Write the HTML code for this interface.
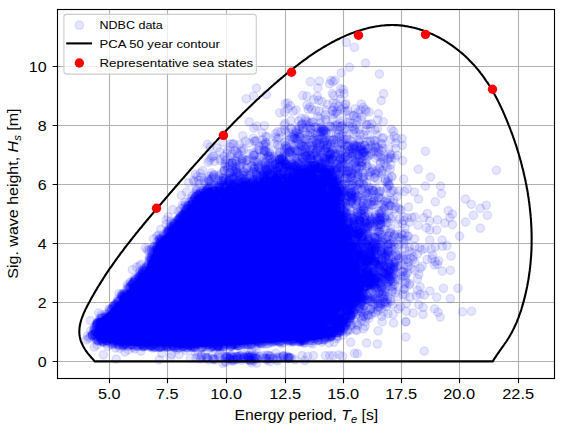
<!DOCTYPE html><html><head><meta charset="utf-8"><style>html,body{margin:0;padding:0;background:#fff;overflow:hidden}svg{display:block}.sc circle{r:4.17px;fill:rgba(0,0,255,0.1);stroke:rgba(0,0,255,0.1);stroke-width:1.39px}text{font-family:"Liberation Sans",sans-serif;fill:#000}</style></head><body><svg width="563" height="430" viewBox="0 0 563 430"><rect width="563" height="430" fill="#fff"/><defs><clipPath id="ax"><rect x="57.5" y="9.5" width="497" height="369"/></clipPath></defs><path d="M109.5,9.5V378.5M167.5,9.5V378.5M226.5,9.5V378.5M285.5,9.5V378.5M343.5,9.5V378.5M401.5,9.5V378.5M459.5,9.5V378.5M518.5,9.5V378.5M57.5,361.5H554.5M57.5,302.5H554.5M57.5,243.5H554.5M57.5,184.5H554.5M57.5,125.5H554.5M57.5,66.5H554.5" stroke="#b0b0b0" stroke-width="1.11" fill="none"/><g clip-path="url(#ax)"><path d="M325.8,325.1 332.4,322.5 334.8,320.2 339.6,309.7 345.5,294.9 346.1,293.7 353.2,280.4 355.3,269.8 353.4,258.5 346.4,251.5 346.0,251.0 336.9,241.0 336.2,240.1 335.5,239.0 334.9,237.9 334.4,236.8 334.0,235.6 333.7,234.4 329.7,212.4 329.6,211.8 327.7,197.4 325.3,187.0 321.2,179.9 320.4,179.5 314.7,179.5 305.2,183.5 305.0,183.5 290.0,189.5 288.8,189.9 287.7,190.2 267.6,194.2 267.4,194.3 239.3,199.3 238.3,199.4 237.3,199.5 214.9,200.0 212.5,200.1 212.5,188.1 209.2,188.3 201.5,192.2 198.5,196.2 192.9,201.7 188.8,207.2 184.7,212.8 179.2,219.8 171.6,229.0 165.0,235.1 157.8,242.1 152.4,254.8 145.3,269.8 131.2,286.7 118.1,303.0 108.5,312.1 102.6,317.0 96.8,325.7 93.1,334.8 96.8,339.6 100.3,340.0 110.3,343.1 130.1,345.3 150.0,346.0 200.0,346.7 239.9,344.7 264.9,342.5 279.9,341.7 289.9,340.5 309.9,340.0 319.7,339.0 329.5,336.6 329.7,336.5 323.5,336.5 323.5,325.7Z" fill="#00f"/><g class="sc"><circle cx="351.0" cy="314.3"/><circle cx="121.3" cy="305.6"/><circle cx="394.7" cy="158.0"/><circle cx="366.2" cy="279.1"/><circle cx="375.6" cy="256.3"/><circle cx="361.7" cy="252.3"/><circle cx="192.9" cy="202.9"/><circle cx="350.5" cy="330.0"/><circle cx="357.0" cy="278.0"/><circle cx="372.3" cy="168.1"/><circle cx="326.9" cy="218.3"/><circle cx="330.3" cy="184.8"/><circle cx="351.5" cy="277.7"/><circle cx="305.3" cy="133.3"/><circle cx="311.4" cy="155.8"/><circle cx="322.5" cy="174.0"/><circle cx="286.1" cy="190.5"/><circle cx="259.4" cy="193.3"/><circle cx="280.7" cy="174.1"/><circle cx="350.6" cy="277.7"/><circle cx="185.2" cy="214.0"/><circle cx="344.9" cy="233.3"/><circle cx="335.9" cy="329.4"/><circle cx="258.9" cy="340.7"/><circle cx="370.2" cy="301.4"/><circle cx="377.0" cy="241.8"/><circle cx="332.2" cy="232.6"/><circle cx="279.2" cy="177.4"/><circle cx="246.6" cy="192.7"/><circle cx="294.5" cy="138.5"/><circle cx="382.5" cy="241.3"/><circle cx="312.5" cy="133.0"/><circle cx="310.9" cy="159.1"/><circle cx="220.2" cy="192.0"/><circle cx="367.4" cy="282.6"/><circle cx="147.9" cy="344.9"/><circle cx="237.0" cy="343.2"/><circle cx="357.9" cy="174.2"/><circle cx="285.7" cy="156.6"/><circle cx="100.3" cy="321.9"/><circle cx="340.8" cy="229.0"/><circle cx="233.1" cy="184.9"/><circle cx="111.7" cy="339.4"/><circle cx="388.1" cy="260.7"/><circle cx="342.3" cy="205.3"/><circle cx="297.1" cy="191.0"/><circle cx="356.6" cy="264.4"/><circle cx="252.1" cy="188.6"/><circle cx="363.9" cy="233.7"/><circle cx="126.8" cy="295.2"/><circle cx="339.3" cy="321.3"/><circle cx="374.1" cy="251.0"/><circle cx="295.8" cy="187.6"/><circle cx="268.4" cy="185.5"/><circle cx="312.5" cy="171.6"/><circle cx="293.3" cy="148.1"/><circle cx="256.6" cy="190.9"/><circle cx="366.3" cy="264.4"/><circle cx="226.3" cy="195.0"/><circle cx="342.4" cy="316.9"/><circle cx="326.7" cy="333.0"/><circle cx="257.4" cy="193.6"/><circle cx="326.3" cy="325.8"/><circle cx="271.7" cy="174.7"/><circle cx="359.8" cy="151.0"/><circle cx="382.6" cy="278.7"/><circle cx="169.0" cy="228.0"/><circle cx="138.6" cy="342.1"/><circle cx="340.2" cy="211.5"/><circle cx="363.6" cy="281.8"/><circle cx="327.2" cy="336.4"/><circle cx="351.8" cy="306.8"/><circle cx="382.8" cy="298.0"/><circle cx="349.0" cy="251.9"/><circle cx="375.0" cy="281.5"/><circle cx="354.4" cy="290.4"/><circle cx="166.9" cy="347.4"/><circle cx="368.0" cy="247.7"/><circle cx="132.2" cy="284.2"/><circle cx="401.0" cy="275.7"/><circle cx="323.7" cy="325.2"/><circle cx="338.0" cy="312.4"/><circle cx="357.7" cy="296.7"/><circle cx="307.9" cy="177.5"/><circle cx="283.0" cy="195.8"/><circle cx="324.3" cy="131.2"/><circle cx="248.4" cy="183.3"/><circle cx="250.0" cy="190.4"/><circle cx="354.5" cy="269.6"/><circle cx="260.7" cy="156.6"/><circle cx="262.7" cy="188.9"/><circle cx="228.5" cy="200.8"/><circle cx="285.6" cy="185.0"/><circle cx="269.7" cy="188.2"/><circle cx="239.6" cy="179.4"/><circle cx="134.8" cy="349.0"/><circle cx="254.9" cy="201.4"/><circle cx="250.5" cy="192.8"/><circle cx="354.5" cy="301.7"/><circle cx="305.3" cy="175.6"/><circle cx="262.5" cy="139.7"/><circle cx="352.6" cy="283.4"/><circle cx="235.6" cy="342.9"/><circle cx="358.5" cy="140.4"/><circle cx="341.7" cy="186.1"/><circle cx="338.7" cy="311.6"/><circle cx="241.3" cy="341.6"/><circle cx="262.8" cy="182.6"/><circle cx="387.3" cy="279.2"/><circle cx="166.2" cy="224.5"/><circle cx="336.8" cy="180.2"/><circle cx="184.1" cy="346.6"/><circle cx="336.4" cy="230.6"/><circle cx="174.3" cy="341.5"/><circle cx="355.1" cy="285.9"/><circle cx="338.0" cy="327.1"/><circle cx="335.7" cy="231.1"/><circle cx="256.2" cy="349.3"/><circle cx="263.8" cy="145.0"/><circle cx="239.7" cy="167.2"/><circle cx="331.5" cy="226.2"/><circle cx="157.6" cy="346.6"/><circle cx="134.2" cy="280.4"/><circle cx="333.9" cy="181.2"/><circle cx="345.5" cy="250.3"/><circle cx="385.5" cy="264.9"/><circle cx="308.8" cy="180.6"/><circle cx="354.9" cy="274.4"/><circle cx="175.0" cy="222.2"/><circle cx="357.8" cy="234.4"/><circle cx="373.6" cy="204.5"/><circle cx="246.3" cy="160.5"/><circle cx="333.8" cy="232.7"/><circle cx="349.1" cy="315.3"/><circle cx="301.7" cy="125.0"/><circle cx="257.6" cy="198.6"/><circle cx="126.3" cy="300.1"/><circle cx="359.7" cy="248.4"/><circle cx="303.5" cy="184.9"/><circle cx="338.5" cy="319.3"/><circle cx="184.7" cy="214.3"/><circle cx="228.6" cy="343.6"/><circle cx="341.4" cy="311.9"/><circle cx="374.6" cy="254.6"/><circle cx="280.5" cy="188.1"/><circle cx="246.0" cy="344.0"/><circle cx="336.4" cy="217.7"/><circle cx="266.3" cy="338.7"/><circle cx="282.6" cy="159.1"/><circle cx="124.2" cy="343.9"/><circle cx="350.0" cy="274.0"/><circle cx="326.3" cy="160.5"/><circle cx="358.6" cy="294.7"/><circle cx="357.6" cy="299.8"/><circle cx="352.6" cy="141.7"/><circle cx="96.3" cy="336.4"/><circle cx="123.1" cy="293.8"/><circle cx="327.1" cy="145.3"/><circle cx="365.1" cy="222.2"/><circle cx="319.8" cy="333.8"/><circle cx="354.1" cy="261.7"/><circle cx="98.4" cy="340.2"/><circle cx="101.7" cy="316.6"/><circle cx="341.0" cy="234.3"/><circle cx="124.9" cy="352.0"/><circle cx="221.5" cy="194.7"/><circle cx="374.4" cy="242.8"/><circle cx="362.6" cy="301.7"/><circle cx="193.9" cy="199.5"/><circle cx="304.6" cy="185.8"/><circle cx="97.0" cy="323.1"/><circle cx="168.5" cy="231.5"/><circle cx="330.0" cy="139.9"/><circle cx="366.3" cy="293.9"/><circle cx="300.9" cy="341.2"/><circle cx="319.0" cy="183.5"/><circle cx="316.4" cy="180.4"/><circle cx="128.0" cy="346.4"/><circle cx="337.1" cy="124.4"/><circle cx="371.1" cy="145.3"/><circle cx="344.0" cy="211.3"/><circle cx="364.8" cy="273.4"/><circle cx="310.1" cy="185.6"/><circle cx="341.6" cy="237.5"/><circle cx="99.1" cy="335.3"/><circle cx="355.8" cy="272.5"/><circle cx="295.6" cy="183.3"/><circle cx="276.0" cy="187.0"/><circle cx="279.5" cy="192.4"/><circle cx="359.7" cy="269.5"/><circle cx="184.9" cy="216.0"/><circle cx="343.4" cy="239.3"/><circle cx="280.4" cy="173.6"/><circle cx="347.5" cy="159.4"/><circle cx="313.8" cy="176.3"/><circle cx="258.6" cy="198.7"/><circle cx="244.2" cy="197.6"/><circle cx="385.7" cy="259.9"/><circle cx="189.9" cy="208.2"/><circle cx="213.7" cy="156.1"/><circle cx="402.0" cy="138.7"/><circle cx="319.4" cy="159.9"/><circle cx="308.4" cy="181.9"/><circle cx="325.6" cy="327.2"/><circle cx="375.4" cy="140.9"/><circle cx="319.6" cy="165.7"/><circle cx="390.5" cy="228.4"/><circle cx="343.1" cy="219.7"/><circle cx="378.0" cy="267.2"/><circle cx="355.9" cy="278.1"/><circle cx="258.6" cy="342.0"/><circle cx="341.5" cy="248.5"/><circle cx="345.8" cy="297.4"/><circle cx="330.3" cy="172.7"/><circle cx="387.6" cy="158.9"/><circle cx="333.1" cy="214.9"/><circle cx="336.6" cy="148.4"/><circle cx="273.7" cy="341.0"/><circle cx="341.6" cy="150.6"/><circle cx="235.6" cy="344.1"/><circle cx="288.3" cy="172.5"/><circle cx="206.0" cy="346.4"/><circle cx="392.6" cy="286.4"/><circle cx="352.1" cy="198.3"/><circle cx="330.6" cy="192.1"/><circle cx="177.9" cy="225.4"/><circle cx="97.4" cy="339.6"/><circle cx="305.2" cy="186.0"/><circle cx="253.8" cy="190.4"/><circle cx="372.0" cy="250.9"/><circle cx="224.4" cy="191.3"/><circle cx="339.7" cy="221.6"/><circle cx="241.3" cy="344.5"/><circle cx="336.5" cy="232.0"/><circle cx="331.0" cy="202.4"/><circle cx="365.0" cy="282.9"/><circle cx="347.5" cy="253.4"/><circle cx="385.0" cy="217.6"/><circle cx="310.2" cy="158.8"/><circle cx="251.6" cy="350.4"/><circle cx="362.7" cy="299.7"/><circle cx="143.9" cy="269.9"/><circle cx="181.8" cy="345.0"/><circle cx="230.9" cy="187.4"/><circle cx="355.4" cy="251.9"/><circle cx="367.0" cy="294.7"/><circle cx="95.7" cy="329.6"/><circle cx="161.3" cy="239.0"/><circle cx="344.6" cy="190.4"/><circle cx="332.8" cy="180.2"/><circle cx="355.7" cy="282.8"/><circle cx="99.3" cy="322.5"/><circle cx="236.8" cy="196.2"/><circle cx="194.3" cy="345.4"/><circle cx="102.7" cy="341.4"/><circle cx="138.2" cy="346.0"/><circle cx="344.9" cy="245.0"/><circle cx="354.1" cy="279.4"/><circle cx="267.7" cy="187.7"/><circle cx="296.9" cy="167.8"/><circle cx="219.7" cy="151.8"/><circle cx="278.5" cy="178.6"/><circle cx="207.3" cy="342.2"/><circle cx="304.6" cy="338.4"/><circle cx="192.3" cy="343.4"/><circle cx="176.0" cy="229.9"/><circle cx="360.9" cy="211.3"/><circle cx="328.5" cy="158.8"/><circle cx="363.6" cy="278.0"/><circle cx="301.3" cy="182.6"/><circle cx="370.7" cy="127.9"/><circle cx="157.0" cy="256.4"/><circle cx="164.0" cy="343.3"/><circle cx="329.9" cy="201.2"/><circle cx="350.5" cy="233.0"/><circle cx="326.7" cy="195.0"/><circle cx="345.4" cy="293.5"/><circle cx="264.1" cy="188.5"/><circle cx="340.9" cy="126.4"/><circle cx="190.4" cy="204.8"/><circle cx="343.4" cy="216.3"/><circle cx="253.5" cy="201.1"/><circle cx="322.8" cy="129.7"/><circle cx="357.1" cy="301.3"/><circle cx="136.2" cy="287.4"/><circle cx="300.0" cy="189.0"/><circle cx="323.7" cy="131.1"/><circle cx="319.2" cy="179.1"/><circle cx="341.8" cy="169.9"/><circle cx="340.9" cy="215.9"/><circle cx="144.6" cy="268.2"/><circle cx="248.0" cy="341.4"/><circle cx="270.0" cy="183.1"/><circle cx="337.1" cy="235.8"/><circle cx="338.9" cy="194.7"/><circle cx="99.1" cy="330.1"/><circle cx="283.7" cy="168.5"/><circle cx="324.5" cy="192.0"/><circle cx="209.5" cy="200.2"/><circle cx="260.1" cy="176.9"/><circle cx="341.7" cy="226.1"/><circle cx="326.7" cy="326.5"/><circle cx="196.1" cy="197.2"/><circle cx="378.7" cy="192.0"/><circle cx="221.6" cy="195.5"/><circle cx="179.9" cy="219.2"/><circle cx="338.7" cy="242.9"/><circle cx="397.3" cy="266.0"/><circle cx="323.9" cy="175.4"/><circle cx="373.6" cy="260.5"/><circle cx="149.1" cy="344.8"/><circle cx="333.8" cy="213.8"/><circle cx="362.3" cy="153.3"/><circle cx="167.2" cy="345.0"/><circle cx="258.4" cy="183.6"/><circle cx="386.6" cy="255.1"/><circle cx="180.5" cy="216.8"/><circle cx="196.0" cy="188.7"/><circle cx="342.5" cy="251.2"/><circle cx="373.0" cy="297.0"/><circle cx="369.9" cy="278.1"/><circle cx="324.6" cy="206.5"/><circle cx="344.3" cy="295.1"/><circle cx="299.8" cy="341.0"/><circle cx="332.9" cy="330.8"/><circle cx="142.8" cy="273.9"/><circle cx="304.2" cy="172.7"/><circle cx="332.7" cy="177.0"/><circle cx="286.4" cy="193.4"/><circle cx="327.2" cy="142.3"/><circle cx="349.7" cy="290.7"/><circle cx="328.8" cy="321.1"/><circle cx="347.0" cy="246.6"/><circle cx="244.0" cy="200.1"/><circle cx="361.7" cy="189.2"/><circle cx="353.3" cy="269.0"/><circle cx="344.7" cy="255.8"/><circle cx="332.4" cy="207.4"/><circle cx="220.7" cy="174.0"/><circle cx="212.3" cy="194.7"/><circle cx="294.5" cy="186.8"/><circle cx="332.6" cy="188.4"/><circle cx="362.6" cy="262.6"/><circle cx="214.4" cy="185.2"/><circle cx="343.6" cy="157.9"/><circle cx="337.6" cy="336.4"/><circle cx="199.0" cy="183.5"/><circle cx="194.9" cy="343.9"/><circle cx="135.1" cy="285.2"/><circle cx="362.9" cy="173.0"/><circle cx="349.5" cy="253.4"/><circle cx="369.8" cy="259.4"/><circle cx="348.9" cy="191.9"/><circle cx="352.4" cy="288.2"/><circle cx="99.5" cy="322.7"/><circle cx="347.8" cy="239.2"/><circle cx="320.8" cy="167.8"/><circle cx="262.1" cy="187.2"/><circle cx="365.1" cy="275.7"/><circle cx="353.0" cy="219.0"/><circle cx="245.9" cy="197.7"/><circle cx="356.8" cy="195.8"/><circle cx="314.3" cy="172.3"/><circle cx="140.2" cy="271.0"/><circle cx="218.6" cy="194.8"/><circle cx="403.4" cy="258.2"/><circle cx="343.8" cy="302.2"/><circle cx="375.7" cy="279.0"/><circle cx="298.0" cy="174.2"/><circle cx="301.2" cy="339.4"/><circle cx="370.6" cy="260.0"/><circle cx="340.6" cy="312.9"/><circle cx="380.1" cy="216.7"/><circle cx="287.0" cy="188.2"/><circle cx="191.0" cy="346.7"/><circle cx="375.1" cy="263.7"/><circle cx="373.6" cy="284.7"/><circle cx="119.3" cy="345.5"/><circle cx="307.9" cy="135.4"/><circle cx="253.3" cy="196.3"/><circle cx="160.0" cy="243.1"/><circle cx="160.0" cy="347.3"/><circle cx="344.0" cy="107.7"/><circle cx="218.5" cy="185.6"/><circle cx="327.7" cy="211.2"/><circle cx="249.9" cy="192.2"/><circle cx="255.2" cy="172.0"/><circle cx="338.4" cy="302.9"/><circle cx="154.7" cy="246.2"/><circle cx="393.8" cy="268.9"/><circle cx="253.7" cy="195.3"/><circle cx="344.6" cy="288.6"/><circle cx="325.9" cy="178.0"/><circle cx="354.2" cy="310.3"/><circle cx="374.3" cy="303.4"/><circle cx="338.6" cy="326.7"/><circle cx="263.8" cy="176.5"/><circle cx="315.4" cy="170.5"/><circle cx="303.0" cy="181.1"/><circle cx="238.0" cy="194.7"/><circle cx="378.5" cy="197.5"/><circle cx="393.2" cy="314.2"/><circle cx="341.0" cy="197.0"/><circle cx="212.6" cy="202.3"/><circle cx="204.4" cy="343.2"/><circle cx="239.4" cy="189.7"/><circle cx="379.4" cy="278.2"/><circle cx="248.5" cy="195.3"/><circle cx="188.1" cy="345.2"/><circle cx="362.6" cy="254.3"/><circle cx="136.4" cy="286.0"/><circle cx="372.8" cy="283.5"/><circle cx="141.0" cy="264.4"/><circle cx="222.8" cy="343.9"/><circle cx="256.6" cy="174.6"/><circle cx="343.5" cy="184.1"/><circle cx="356.4" cy="124.5"/><circle cx="355.5" cy="185.8"/><circle cx="335.1" cy="309.3"/><circle cx="253.6" cy="168.0"/><circle cx="228.5" cy="184.6"/><circle cx="244.6" cy="171.6"/><circle cx="171.2" cy="344.1"/><circle cx="227.5" cy="194.9"/><circle cx="101.0" cy="326.5"/><circle cx="213.4" cy="341.3"/><circle cx="335.3" cy="226.8"/><circle cx="361.6" cy="320.7"/><circle cx="275.3" cy="341.3"/><circle cx="334.5" cy="231.1"/><circle cx="241.2" cy="198.4"/><circle cx="327.5" cy="174.1"/><circle cx="381.5" cy="283.0"/><circle cx="362.2" cy="292.6"/><circle cx="361.1" cy="239.3"/><circle cx="366.0" cy="148.8"/><circle cx="139.3" cy="276.2"/><circle cx="349.7" cy="290.9"/><circle cx="301.2" cy="146.0"/><circle cx="351.5" cy="218.8"/><circle cx="265.5" cy="144.3"/><circle cx="263.9" cy="198.5"/><circle cx="359.6" cy="282.2"/><circle cx="380.4" cy="265.8"/><circle cx="292.3" cy="340.0"/><circle cx="303.1" cy="162.7"/><circle cx="348.5" cy="229.8"/><circle cx="326.4" cy="172.0"/><circle cx="279.4" cy="160.5"/><circle cx="338.8" cy="200.9"/><circle cx="223.5" cy="348.8"/><circle cx="245.8" cy="186.6"/><circle cx="353.2" cy="147.5"/><circle cx="279.8" cy="159.6"/><circle cx="169.4" cy="237.8"/><circle cx="343.4" cy="158.8"/><circle cx="352.5" cy="285.5"/><circle cx="194.9" cy="197.7"/><circle cx="334.9" cy="217.1"/><circle cx="184.8" cy="214.1"/><circle cx="391.6" cy="266.1"/><circle cx="343.0" cy="307.3"/><circle cx="267.3" cy="196.5"/><circle cx="246.9" cy="160.3"/><circle cx="302.4" cy="189.3"/><circle cx="260.1" cy="198.3"/><circle cx="376.1" cy="257.7"/><circle cx="289.8" cy="167.0"/><circle cx="279.9" cy="161.0"/><circle cx="328.4" cy="328.6"/><circle cx="272.4" cy="194.5"/><circle cx="371.6" cy="221.1"/><circle cx="167.6" cy="233.8"/><circle cx="378.3" cy="306.1"/><circle cx="286.4" cy="166.4"/><circle cx="313.4" cy="338.0"/><circle cx="335.9" cy="332.3"/><circle cx="390.5" cy="286.6"/><circle cx="348.2" cy="235.1"/><circle cx="374.3" cy="278.8"/><circle cx="113.4" cy="340.6"/><circle cx="326.0" cy="320.9"/><circle cx="354.7" cy="247.9"/><circle cx="347.4" cy="218.1"/><circle cx="153.9" cy="345.8"/><circle cx="368.0" cy="260.5"/><circle cx="191.4" cy="210.6"/><circle cx="101.8" cy="322.7"/><circle cx="118.1" cy="301.0"/><circle cx="259.5" cy="195.8"/><circle cx="250.0" cy="191.6"/><circle cx="383.5" cy="252.6"/><circle cx="291.5" cy="193.3"/><circle cx="369.1" cy="269.5"/><circle cx="285.6" cy="141.8"/><circle cx="343.8" cy="225.7"/><circle cx="335.9" cy="220.0"/><circle cx="343.3" cy="213.4"/><circle cx="393.7" cy="270.2"/><circle cx="351.5" cy="268.3"/><circle cx="291.3" cy="164.1"/><circle cx="229.9" cy="191.8"/><circle cx="373.9" cy="191.4"/><circle cx="287.3" cy="148.5"/><circle cx="265.9" cy="142.6"/><circle cx="328.1" cy="211.8"/><circle cx="348.0" cy="289.6"/><circle cx="327.4" cy="333.9"/><circle cx="371.2" cy="279.8"/><circle cx="256.1" cy="174.3"/><circle cx="125.6" cy="298.1"/><circle cx="387.7" cy="202.9"/><circle cx="207.4" cy="189.1"/><circle cx="258.5" cy="339.7"/><circle cx="346.9" cy="230.5"/><circle cx="143.0" cy="280.0"/><circle cx="199.5" cy="195.0"/><circle cx="302.6" cy="337.7"/><circle cx="343.8" cy="145.1"/><circle cx="153.6" cy="238.9"/><circle cx="142.7" cy="344.5"/><circle cx="345.2" cy="304.9"/><circle cx="382.3" cy="287.7"/><circle cx="338.3" cy="180.6"/><circle cx="332.3" cy="236.0"/><circle cx="363.5" cy="267.2"/><circle cx="166.6" cy="232.4"/><circle cx="369.2" cy="192.5"/><circle cx="310.8" cy="150.0"/><circle cx="123.9" cy="294.0"/><circle cx="356.3" cy="190.6"/><circle cx="331.9" cy="229.3"/><circle cx="347.7" cy="235.9"/><circle cx="281.3" cy="174.7"/><circle cx="356.9" cy="266.2"/><circle cx="161.1" cy="346.5"/><circle cx="331.9" cy="223.8"/><circle cx="357.2" cy="285.6"/><circle cx="187.7" cy="208.5"/><circle cx="339.6" cy="314.6"/><circle cx="191.7" cy="209.7"/><circle cx="360.4" cy="281.5"/><circle cx="236.0" cy="167.1"/><circle cx="360.3" cy="220.2"/><circle cx="352.1" cy="184.9"/><circle cx="276.8" cy="341.2"/><circle cx="338.2" cy="212.0"/><circle cx="402.0" cy="271.3"/><circle cx="265.7" cy="198.6"/><circle cx="366.9" cy="263.6"/><circle cx="193.4" cy="201.6"/><circle cx="375.3" cy="173.5"/><circle cx="355.3" cy="252.4"/><circle cx="299.0" cy="177.9"/><circle cx="179.4" cy="347.9"/><circle cx="269.8" cy="153.2"/><circle cx="381.4" cy="264.7"/><circle cx="367.1" cy="271.8"/><circle cx="356.3" cy="271.8"/><circle cx="330.2" cy="335.9"/><circle cx="390.7" cy="240.6"/><circle cx="195.0" cy="196.6"/><circle cx="382.0" cy="138.3"/><circle cx="336.6" cy="321.4"/><circle cx="198.1" cy="200.3"/><circle cx="148.0" cy="342.0"/><circle cx="331.6" cy="227.9"/><circle cx="334.5" cy="185.4"/><circle cx="306.2" cy="156.1"/><circle cx="151.6" cy="248.9"/><circle cx="271.0" cy="187.1"/><circle cx="340.9" cy="211.6"/><circle cx="116.5" cy="305.1"/><circle cx="388.0" cy="244.8"/><circle cx="262.6" cy="338.8"/><circle cx="320.7" cy="183.2"/><circle cx="334.9" cy="325.5"/><circle cx="372.6" cy="190.7"/><circle cx="117.4" cy="341.7"/><circle cx="342.9" cy="235.2"/><circle cx="102.5" cy="325.7"/><circle cx="379.9" cy="264.9"/><circle cx="249.2" cy="153.8"/><circle cx="232.2" cy="190.8"/><circle cx="298.8" cy="162.7"/><circle cx="197.6" cy="194.9"/><circle cx="379.2" cy="283.5"/><circle cx="388.4" cy="251.9"/><circle cx="323.6" cy="184.1"/><circle cx="250.2" cy="193.0"/><circle cx="337.9" cy="324.3"/><circle cx="376.7" cy="288.0"/><circle cx="332.3" cy="189.7"/><circle cx="390.0" cy="200.2"/><circle cx="221.7" cy="342.6"/><circle cx="333.4" cy="219.8"/><circle cx="327.1" cy="323.7"/><circle cx="178.7" cy="226.2"/><circle cx="323.2" cy="150.6"/><circle cx="268.3" cy="339.9"/><circle cx="283.7" cy="178.7"/><circle cx="343.8" cy="188.3"/><circle cx="131.1" cy="344.5"/><circle cx="244.2" cy="187.3"/><circle cx="284.6" cy="180.7"/><circle cx="235.7" cy="184.7"/><circle cx="347.9" cy="201.2"/><circle cx="330.6" cy="332.0"/><circle cx="379.5" cy="168.4"/><circle cx="327.7" cy="216.6"/><circle cx="142.2" cy="277.1"/><circle cx="290.0" cy="190.3"/><circle cx="307.3" cy="185.9"/><circle cx="194.9" cy="351.2"/><circle cx="263.1" cy="189.3"/><circle cx="357.0" cy="288.2"/><circle cx="137.0" cy="345.7"/><circle cx="219.9" cy="196.3"/><circle cx="288.4" cy="177.5"/><circle cx="249.4" cy="178.5"/><circle cx="306.6" cy="173.9"/><circle cx="263.2" cy="175.7"/><circle cx="244.6" cy="186.0"/><circle cx="368.2" cy="233.2"/><circle cx="335.1" cy="178.5"/><circle cx="278.5" cy="167.0"/><circle cx="333.9" cy="195.0"/><circle cx="282.8" cy="341.3"/><circle cx="365.5" cy="299.4"/><circle cx="170.5" cy="236.8"/><circle cx="353.4" cy="301.3"/><circle cx="330.7" cy="237.0"/><circle cx="273.6" cy="193.0"/><circle cx="242.1" cy="187.2"/><circle cx="386.3" cy="302.2"/><circle cx="350.4" cy="225.9"/><circle cx="333.6" cy="222.2"/><circle cx="337.0" cy="324.3"/><circle cx="294.3" cy="175.9"/><circle cx="319.9" cy="168.4"/><circle cx="269.3" cy="185.4"/><circle cx="238.0" cy="198.1"/><circle cx="349.3" cy="256.8"/><circle cx="308.5" cy="164.0"/><circle cx="302.9" cy="180.0"/><circle cx="330.3" cy="318.9"/><circle cx="372.3" cy="197.0"/><circle cx="336.9" cy="204.3"/><circle cx="380.7" cy="191.3"/><circle cx="376.4" cy="218.6"/><circle cx="219.3" cy="196.7"/><circle cx="244.2" cy="203.2"/><circle cx="275.2" cy="163.7"/><circle cx="311.4" cy="121.8"/><circle cx="300.8" cy="339.7"/><circle cx="335.4" cy="168.9"/><circle cx="275.3" cy="184.6"/><circle cx="374.6" cy="279.0"/><circle cx="360.5" cy="233.9"/><circle cx="301.9" cy="188.1"/><circle cx="313.6" cy="340.7"/><circle cx="330.9" cy="326.8"/><circle cx="340.0" cy="318.6"/><circle cx="382.2" cy="143.9"/><circle cx="380.5" cy="283.8"/><circle cx="328.9" cy="224.4"/><circle cx="349.3" cy="223.7"/><circle cx="261.2" cy="194.0"/><circle cx="375.5" cy="216.8"/><circle cx="295.2" cy="167.7"/><circle cx="341.3" cy="141.8"/><circle cx="375.1" cy="294.6"/><circle cx="185.3" cy="212.1"/><circle cx="337.0" cy="214.6"/><circle cx="341.9" cy="184.2"/><circle cx="250.6" cy="190.7"/><circle cx="342.0" cy="321.9"/><circle cx="125.3" cy="297.1"/><circle cx="256.4" cy="340.8"/><circle cx="390.9" cy="301.2"/><circle cx="364.4" cy="248.2"/><circle cx="208.4" cy="199.1"/><circle cx="372.1" cy="260.4"/><circle cx="228.7" cy="344.3"/><circle cx="193.9" cy="200.2"/><circle cx="318.0" cy="182.5"/><circle cx="375.2" cy="270.6"/><circle cx="353.6" cy="230.3"/><circle cx="244.0" cy="339.8"/><circle cx="292.3" cy="341.1"/><circle cx="322.9" cy="189.2"/><circle cx="109.0" cy="315.8"/><circle cx="374.2" cy="283.3"/><circle cx="336.4" cy="181.6"/><circle cx="303.8" cy="173.6"/><circle cx="141.3" cy="282.1"/><circle cx="127.0" cy="295.5"/><circle cx="375.7" cy="246.5"/><circle cx="358.2" cy="154.9"/><circle cx="248.0" cy="191.4"/><circle cx="214.1" cy="345.9"/><circle cx="279.1" cy="184.3"/><circle cx="313.4" cy="154.6"/><circle cx="361.7" cy="317.9"/><circle cx="393.6" cy="236.8"/><circle cx="272.1" cy="184.3"/><circle cx="124.4" cy="344.1"/><circle cx="301.3" cy="185.5"/><circle cx="356.0" cy="193.1"/><circle cx="257.2" cy="173.8"/><circle cx="289.6" cy="186.5"/><circle cx="153.9" cy="262.5"/><circle cx="194.2" cy="181.7"/><circle cx="325.1" cy="180.7"/><circle cx="331.5" cy="210.2"/><circle cx="309.0" cy="155.4"/><circle cx="126.4" cy="342.4"/><circle cx="266.8" cy="178.2"/><circle cx="322.7" cy="142.9"/><circle cx="343.1" cy="223.8"/><circle cx="270.7" cy="194.6"/><circle cx="345.7" cy="322.4"/><circle cx="308.0" cy="171.6"/><circle cx="333.3" cy="199.9"/><circle cx="322.2" cy="139.1"/><circle cx="368.1" cy="285.1"/><circle cx="340.2" cy="331.2"/><circle cx="152.8" cy="257.2"/><circle cx="257.1" cy="150.0"/><circle cx="264.4" cy="181.9"/><circle cx="307.5" cy="176.0"/><circle cx="368.8" cy="187.1"/><circle cx="288.4" cy="191.5"/><circle cx="238.3" cy="183.1"/><circle cx="149.5" cy="258.3"/><circle cx="223.6" cy="192.5"/><circle cx="333.8" cy="195.8"/><circle cx="263.3" cy="173.6"/><circle cx="360.2" cy="316.3"/><circle cx="368.4" cy="246.2"/><circle cx="377.5" cy="281.5"/><circle cx="380.6" cy="303.5"/><circle cx="265.7" cy="184.0"/><circle cx="338.8" cy="321.2"/><circle cx="355.0" cy="269.5"/><circle cx="157.3" cy="250.0"/><circle cx="326.2" cy="173.6"/><circle cx="143.2" cy="270.6"/><circle cx="331.8" cy="224.3"/><circle cx="340.4" cy="225.8"/><circle cx="374.2" cy="252.0"/><circle cx="302.0" cy="124.3"/><circle cx="370.4" cy="251.7"/><circle cx="327.7" cy="215.8"/><circle cx="382.8" cy="222.0"/><circle cx="131.2" cy="292.4"/><circle cx="150.7" cy="261.0"/><circle cx="164.0" cy="241.2"/><circle cx="216.6" cy="196.6"/><circle cx="330.2" cy="226.3"/><circle cx="99.8" cy="318.6"/><circle cx="310.2" cy="340.3"/><circle cx="335.9" cy="237.8"/><circle cx="324.9" cy="151.3"/><circle cx="340.0" cy="232.5"/><circle cx="351.1" cy="177.1"/><circle cx="375.6" cy="264.7"/><circle cx="402.7" cy="160.6"/><circle cx="138.8" cy="341.5"/><circle cx="333.7" cy="182.1"/><circle cx="320.5" cy="179.0"/><circle cx="347.2" cy="240.6"/><circle cx="358.8" cy="168.8"/><circle cx="377.8" cy="303.6"/><circle cx="135.4" cy="279.4"/><circle cx="236.8" cy="184.2"/><circle cx="379.0" cy="231.1"/><circle cx="356.9" cy="249.2"/><circle cx="97.5" cy="324.5"/><circle cx="223.7" cy="346.8"/><circle cx="357.6" cy="216.2"/><circle cx="380.3" cy="154.7"/><circle cx="343.7" cy="299.7"/><circle cx="236.7" cy="185.8"/><circle cx="356.6" cy="243.2"/><circle cx="363.9" cy="185.4"/><circle cx="389.6" cy="243.6"/><circle cx="368.8" cy="148.1"/><circle cx="290.7" cy="128.1"/><circle cx="338.0" cy="226.7"/><circle cx="337.3" cy="195.1"/><circle cx="346.1" cy="296.7"/><circle cx="304.7" cy="184.0"/><circle cx="341.9" cy="239.3"/><circle cx="345.4" cy="213.9"/><circle cx="337.1" cy="202.4"/><circle cx="134.3" cy="340.7"/><circle cx="399.5" cy="209.5"/><circle cx="359.9" cy="274.7"/><circle cx="244.7" cy="190.8"/><circle cx="338.5" cy="174.8"/><circle cx="261.5" cy="184.1"/><circle cx="233.5" cy="197.6"/><circle cx="198.1" cy="342.7"/><circle cx="330.5" cy="331.3"/><circle cx="204.9" cy="342.8"/><circle cx="238.1" cy="346.0"/><circle cx="260.9" cy="187.3"/><circle cx="160.8" cy="343.3"/><circle cx="229.5" cy="178.4"/><circle cx="355.2" cy="194.6"/><circle cx="335.4" cy="236.0"/><circle cx="349.0" cy="239.8"/><circle cx="351.8" cy="266.5"/><circle cx="299.4" cy="188.6"/><circle cx="264.6" cy="181.5"/><circle cx="336.8" cy="314.6"/><circle cx="327.3" cy="225.7"/><circle cx="234.6" cy="170.8"/><circle cx="361.3" cy="312.4"/><circle cx="254.2" cy="184.9"/><circle cx="294.7" cy="181.8"/><circle cx="344.9" cy="232.9"/><circle cx="358.6" cy="299.8"/><circle cx="295.8" cy="138.6"/><circle cx="227.6" cy="190.6"/><circle cx="151.5" cy="264.8"/><circle cx="116.3" cy="304.2"/><circle cx="330.4" cy="228.9"/><circle cx="151.8" cy="252.4"/><circle cx="365.2" cy="253.7"/><circle cx="288.5" cy="186.8"/><circle cx="365.0" cy="145.5"/><circle cx="321.9" cy="332.1"/><circle cx="159.9" cy="240.0"/><circle cx="351.3" cy="194.6"/><circle cx="385.3" cy="274.2"/><circle cx="344.6" cy="149.3"/><circle cx="327.3" cy="180.8"/><circle cx="175.1" cy="347.0"/><circle cx="361.3" cy="301.5"/><circle cx="279.3" cy="189.1"/><circle cx="135.3" cy="281.5"/><circle cx="262.7" cy="162.6"/><circle cx="211.7" cy="346.6"/><circle cx="319.2" cy="180.8"/><circle cx="318.0" cy="136.7"/><circle cx="363.6" cy="199.4"/><circle cx="230.8" cy="183.4"/><circle cx="346.1" cy="301.2"/><circle cx="328.9" cy="198.0"/><circle cx="351.2" cy="308.2"/><circle cx="310.1" cy="342.9"/><circle cx="246.8" cy="168.1"/><circle cx="304.0" cy="180.3"/><circle cx="326.8" cy="148.3"/><circle cx="234.9" cy="195.7"/><circle cx="365.4" cy="275.6"/><circle cx="345.4" cy="288.0"/><circle cx="331.4" cy="141.1"/><circle cx="364.6" cy="155.6"/><circle cx="212.6" cy="190.4"/><circle cx="316.7" cy="184.0"/><circle cx="229.2" cy="172.9"/><circle cx="384.7" cy="156.8"/><circle cx="333.3" cy="166.2"/><circle cx="347.9" cy="223.4"/><circle cx="344.2" cy="169.2"/><circle cx="367.8" cy="277.4"/><circle cx="207.9" cy="194.0"/><circle cx="379.2" cy="218.0"/><circle cx="92.0" cy="335.9"/><circle cx="333.9" cy="214.4"/><circle cx="365.1" cy="275.5"/><circle cx="271.4" cy="337.4"/><circle cx="256.0" cy="200.0"/><circle cx="329.8" cy="174.8"/><circle cx="179.8" cy="341.9"/><circle cx="217.5" cy="345.8"/><circle cx="401.8" cy="256.6"/><circle cx="285.9" cy="190.4"/><circle cx="332.3" cy="176.9"/><circle cx="373.2" cy="312.2"/><circle cx="328.7" cy="173.2"/><circle cx="389.2" cy="233.2"/><circle cx="279.4" cy="159.2"/><circle cx="323.9" cy="197.0"/><circle cx="342.4" cy="125.5"/><circle cx="362.2" cy="303.5"/><circle cx="336.6" cy="189.6"/><circle cx="369.3" cy="124.2"/><circle cx="366.1" cy="247.3"/><circle cx="265.8" cy="168.8"/><circle cx="315.5" cy="336.6"/><circle cx="341.4" cy="294.8"/><circle cx="355.8" cy="227.6"/><circle cx="256.3" cy="342.4"/><circle cx="321.9" cy="322.7"/><circle cx="335.1" cy="153.0"/><circle cx="279.9" cy="339.5"/><circle cx="378.5" cy="261.7"/><circle cx="359.5" cy="281.9"/><circle cx="364.0" cy="256.8"/><circle cx="257.7" cy="176.0"/><circle cx="344.8" cy="253.2"/><circle cx="302.0" cy="156.7"/><circle cx="375.1" cy="237.6"/><circle cx="364.5" cy="216.8"/><circle cx="327.2" cy="204.1"/><circle cx="227.0" cy="192.2"/><circle cx="390.4" cy="192.5"/><circle cx="374.5" cy="286.2"/><circle cx="367.4" cy="197.6"/><circle cx="352.5" cy="230.6"/><circle cx="317.6" cy="174.9"/><circle cx="297.5" cy="153.2"/><circle cx="255.1" cy="342.0"/><circle cx="336.3" cy="316.5"/><circle cx="288.5" cy="151.9"/><circle cx="359.4" cy="225.9"/><circle cx="223.4" cy="184.0"/><circle cx="233.2" cy="194.9"/><circle cx="234.5" cy="186.0"/><circle cx="177.0" cy="220.6"/><circle cx="311.6" cy="176.6"/><circle cx="333.9" cy="204.2"/><circle cx="177.5" cy="342.2"/><circle cx="241.6" cy="186.9"/><circle cx="330.8" cy="323.6"/><circle cx="393.8" cy="199.8"/><circle cx="277.1" cy="337.6"/><circle cx="379.6" cy="281.1"/><circle cx="264.3" cy="182.0"/><circle cx="310.2" cy="149.7"/><circle cx="387.3" cy="268.8"/><circle cx="248.5" cy="197.2"/><circle cx="382.7" cy="274.6"/><circle cx="349.0" cy="252.0"/><circle cx="244.0" cy="175.6"/><circle cx="125.5" cy="343.0"/><circle cx="309.8" cy="172.3"/><circle cx="255.0" cy="184.1"/><circle cx="263.6" cy="192.0"/><circle cx="375.1" cy="147.8"/><circle cx="338.9" cy="243.2"/><circle cx="335.7" cy="324.0"/><circle cx="314.6" cy="166.8"/><circle cx="394.0" cy="266.8"/><circle cx="329.6" cy="174.9"/><circle cx="335.6" cy="157.0"/><circle cx="364.8" cy="255.4"/><circle cx="186.1" cy="347.6"/><circle cx="369.1" cy="276.7"/><circle cx="327.2" cy="159.5"/><circle cx="329.1" cy="175.0"/><circle cx="349.5" cy="249.9"/><circle cx="390.0" cy="157.1"/><circle cx="360.0" cy="253.3"/><circle cx="341.0" cy="135.7"/><circle cx="166.6" cy="233.7"/><circle cx="352.5" cy="198.0"/><circle cx="172.6" cy="226.3"/><circle cx="361.2" cy="274.3"/><circle cx="133.5" cy="282.6"/><circle cx="300.3" cy="178.9"/><circle cx="337.3" cy="307.9"/><circle cx="168.5" cy="344.1"/><circle cx="297.9" cy="188.2"/><circle cx="271.9" cy="162.5"/><circle cx="288.5" cy="341.1"/><circle cx="364.4" cy="252.2"/><circle cx="339.4" cy="302.0"/><circle cx="122.9" cy="298.2"/><circle cx="366.7" cy="232.2"/><circle cx="274.5" cy="143.5"/><circle cx="246.3" cy="198.8"/><circle cx="321.4" cy="340.1"/><circle cx="338.3" cy="183.2"/><circle cx="247.3" cy="182.9"/><circle cx="374.2" cy="287.5"/><circle cx="324.9" cy="197.1"/><circle cx="342.9" cy="249.7"/><circle cx="219.5" cy="191.4"/><circle cx="379.2" cy="149.0"/><circle cx="349.5" cy="321.8"/><circle cx="350.9" cy="263.7"/><circle cx="257.7" cy="162.4"/><circle cx="377.6" cy="301.1"/><circle cx="116.4" cy="308.2"/><circle cx="321.2" cy="324.1"/><circle cx="198.2" cy="194.1"/><circle cx="368.4" cy="188.8"/><circle cx="364.0" cy="283.1"/><circle cx="359.7" cy="159.3"/><circle cx="310.0" cy="151.8"/><circle cx="329.0" cy="216.0"/><circle cx="329.0" cy="320.9"/><circle cx="107.2" cy="340.8"/><circle cx="352.6" cy="271.1"/><circle cx="94.7" cy="326.9"/><circle cx="284.8" cy="182.5"/><circle cx="161.8" cy="353.2"/><circle cx="227.9" cy="181.0"/><circle cx="291.6" cy="190.6"/><circle cx="390.4" cy="265.3"/><circle cx="388.6" cy="276.9"/><circle cx="392.5" cy="272.5"/><circle cx="325.7" cy="182.3"/><circle cx="402.7" cy="271.7"/><circle cx="139.9" cy="344.9"/><circle cx="328.4" cy="177.9"/><circle cx="359.7" cy="241.9"/><circle cx="156.5" cy="255.6"/><circle cx="351.5" cy="299.6"/><circle cx="160.1" cy="246.2"/><circle cx="388.3" cy="259.5"/><circle cx="381.3" cy="143.5"/><circle cx="353.1" cy="271.0"/><circle cx="344.1" cy="308.9"/><circle cx="223.3" cy="186.7"/><circle cx="339.3" cy="240.7"/><circle cx="136.0" cy="286.3"/><circle cx="348.5" cy="307.0"/><circle cx="266.2" cy="169.9"/><circle cx="327.6" cy="169.5"/><circle cx="269.5" cy="174.0"/><circle cx="246.0" cy="190.3"/><circle cx="279.2" cy="166.2"/><circle cx="331.8" cy="335.7"/><circle cx="389.7" cy="185.8"/><circle cx="205.3" cy="184.6"/><circle cx="340.2" cy="221.6"/><circle cx="342.0" cy="171.4"/><circle cx="370.0" cy="287.5"/><circle cx="256.0" cy="187.9"/><circle cx="110.8" cy="310.7"/><circle cx="273.8" cy="338.1"/><circle cx="295.4" cy="186.2"/><circle cx="335.5" cy="319.7"/><circle cx="313.1" cy="161.8"/><circle cx="378.9" cy="211.6"/><circle cx="259.3" cy="150.4"/><circle cx="145.2" cy="272.5"/><circle cx="173.3" cy="346.3"/><circle cx="345.0" cy="144.0"/><circle cx="256.0" cy="173.2"/><circle cx="298.7" cy="144.1"/><circle cx="381.8" cy="253.4"/><circle cx="353.4" cy="304.4"/><circle cx="124.5" cy="295.3"/><circle cx="243.0" cy="197.8"/><circle cx="340.9" cy="328.2"/><circle cx="176.9" cy="224.9"/><circle cx="137.6" cy="346.5"/><circle cx="332.3" cy="219.8"/><circle cx="296.0" cy="189.7"/><circle cx="352.2" cy="232.2"/><circle cx="248.9" cy="202.1"/><circle cx="336.1" cy="225.9"/><circle cx="361.0" cy="146.6"/><circle cx="220.3" cy="159.0"/><circle cx="353.6" cy="304.7"/><circle cx="367.8" cy="286.2"/><circle cx="293.7" cy="341.1"/><circle cx="280.1" cy="341.6"/><circle cx="404.9" cy="284.2"/><circle cx="258.6" cy="199.7"/><circle cx="389.1" cy="262.8"/><circle cx="368.0" cy="226.8"/><circle cx="183.4" cy="219.0"/><circle cx="316.9" cy="135.4"/><circle cx="234.2" cy="186.1"/><circle cx="254.6" cy="169.2"/><circle cx="372.3" cy="171.4"/><circle cx="363.6" cy="152.2"/><circle cx="346.9" cy="173.7"/><circle cx="296.7" cy="341.2"/><circle cx="134.3" cy="278.1"/><circle cx="339.0" cy="318.8"/><circle cx="363.7" cy="254.9"/><circle cx="161.5" cy="245.8"/><circle cx="341.7" cy="231.5"/><circle cx="256.9" cy="343.5"/><circle cx="252.1" cy="191.9"/><circle cx="376.3" cy="277.4"/><circle cx="321.9" cy="181.9"/><circle cx="292.9" cy="186.1"/><circle cx="369.8" cy="172.0"/><circle cx="277.0" cy="177.4"/><circle cx="332.0" cy="184.8"/><circle cx="126.1" cy="294.1"/><circle cx="346.8" cy="135.4"/><circle cx="210.4" cy="343.8"/><circle cx="368.4" cy="238.9"/><circle cx="362.9" cy="265.9"/><circle cx="350.4" cy="300.6"/><circle cx="362.6" cy="312.7"/><circle cx="351.9" cy="293.5"/><circle cx="340.8" cy="202.8"/><circle cx="352.7" cy="174.1"/><circle cx="330.5" cy="159.8"/><circle cx="161.1" cy="346.5"/><circle cx="312.1" cy="338.1"/><circle cx="392.8" cy="216.5"/><circle cx="359.9" cy="278.4"/><circle cx="325.5" cy="130.6"/><circle cx="358.8" cy="280.6"/><circle cx="354.8" cy="148.3"/><circle cx="384.6" cy="208.6"/><circle cx="382.6" cy="264.2"/><circle cx="380.7" cy="304.5"/><circle cx="398.0" cy="296.9"/><circle cx="383.6" cy="266.5"/><circle cx="333.9" cy="321.7"/><circle cx="218.8" cy="191.9"/><circle cx="362.7" cy="259.3"/><circle cx="344.1" cy="242.2"/><circle cx="331.8" cy="215.2"/><circle cx="97.5" cy="323.6"/><circle cx="357.2" cy="234.6"/><circle cx="308.2" cy="179.2"/><circle cx="126.1" cy="295.8"/><circle cx="188.6" cy="344.7"/><circle cx="371.1" cy="254.7"/><circle cx="255.5" cy="338.9"/><circle cx="329.9" cy="219.0"/><circle cx="240.8" cy="340.2"/><circle cx="339.4" cy="250.3"/><circle cx="290.2" cy="194.0"/><circle cx="248.8" cy="200.9"/><circle cx="309.6" cy="173.4"/><circle cx="364.6" cy="296.5"/><circle cx="348.8" cy="227.4"/><circle cx="364.7" cy="287.5"/><circle cx="333.1" cy="314.2"/><circle cx="271.2" cy="185.4"/><circle cx="350.1" cy="139.9"/><circle cx="248.2" cy="201.4"/><circle cx="358.8" cy="237.0"/><circle cx="319.2" cy="324.2"/><circle cx="196.5" cy="344.6"/><circle cx="111.8" cy="311.8"/><circle cx="134.2" cy="346.6"/><circle cx="374.9" cy="244.8"/><circle cx="340.2" cy="237.1"/><circle cx="173.6" cy="224.5"/><circle cx="360.9" cy="250.6"/><circle cx="332.4" cy="150.5"/><circle cx="325.4" cy="186.7"/><circle cx="331.2" cy="236.6"/><circle cx="254.2" cy="197.9"/><circle cx="167.6" cy="346.2"/><circle cx="300.6" cy="173.5"/><circle cx="327.2" cy="199.7"/><circle cx="341.2" cy="190.7"/><circle cx="128.3" cy="342.3"/><circle cx="317.7" cy="166.7"/><circle cx="114.1" cy="341.2"/><circle cx="119.0" cy="306.6"/><circle cx="388.0" cy="244.2"/><circle cx="345.7" cy="237.5"/><circle cx="254.6" cy="189.4"/><circle cx="397.6" cy="255.5"/><circle cx="292.0" cy="180.9"/><circle cx="139.4" cy="278.0"/><circle cx="342.9" cy="308.2"/><circle cx="385.2" cy="179.1"/><circle cx="379.7" cy="218.3"/><circle cx="367.9" cy="204.3"/><circle cx="350.6" cy="308.2"/><circle cx="352.8" cy="227.8"/><circle cx="160.2" cy="347.4"/><circle cx="350.3" cy="251.3"/><circle cx="264.7" cy="150.9"/><circle cx="337.2" cy="191.7"/><circle cx="275.2" cy="193.5"/><circle cx="347.5" cy="306.0"/><circle cx="200.4" cy="192.3"/><circle cx="298.8" cy="186.8"/><circle cx="233.6" cy="343.3"/><circle cx="365.2" cy="326.4"/><circle cx="385.1" cy="261.9"/><circle cx="192.5" cy="208.6"/><circle cx="256.9" cy="159.7"/><circle cx="296.5" cy="183.6"/><circle cx="332.5" cy="241.1"/><circle cx="355.5" cy="157.9"/><circle cx="339.4" cy="160.4"/><circle cx="399.5" cy="237.7"/><circle cx="364.3" cy="274.1"/><circle cx="224.3" cy="341.1"/><circle cx="149.2" cy="251.4"/><circle cx="194.7" cy="197.9"/><circle cx="226.0" cy="159.5"/><circle cx="367.8" cy="273.4"/><circle cx="301.2" cy="118.4"/><circle cx="345.5" cy="228.0"/><circle cx="374.6" cy="299.8"/><circle cx="363.5" cy="150.6"/><circle cx="253.4" cy="138.3"/><circle cx="339.8" cy="177.6"/><circle cx="321.7" cy="175.1"/><circle cx="383.0" cy="245.8"/><circle cx="344.4" cy="208.5"/><circle cx="352.3" cy="264.4"/><circle cx="291.5" cy="180.2"/><circle cx="304.0" cy="141.5"/><circle cx="337.2" cy="192.7"/><circle cx="361.3" cy="297.9"/><circle cx="349.2" cy="228.8"/><circle cx="357.1" cy="185.0"/><circle cx="258.4" cy="189.8"/><circle cx="245.6" cy="186.3"/><circle cx="234.4" cy="195.4"/><circle cx="266.8" cy="175.3"/><circle cx="311.3" cy="146.2"/><circle cx="237.1" cy="174.9"/><circle cx="344.5" cy="235.3"/><circle cx="222.3" cy="200.0"/><circle cx="300.1" cy="338.6"/><circle cx="356.0" cy="277.2"/><circle cx="103.6" cy="321.2"/><circle cx="352.9" cy="298.4"/><circle cx="352.9" cy="221.0"/><circle cx="345.1" cy="235.6"/><circle cx="227.3" cy="203.1"/><circle cx="119.0" cy="344.3"/><circle cx="293.0" cy="177.2"/><circle cx="371.6" cy="301.4"/><circle cx="163.6" cy="235.9"/><circle cx="359.2" cy="307.1"/><circle cx="346.6" cy="230.9"/><circle cx="341.0" cy="293.2"/><circle cx="333.5" cy="214.6"/><circle cx="382.5" cy="272.9"/><circle cx="237.3" cy="192.5"/><circle cx="346.2" cy="332.0"/><circle cx="382.8" cy="285.1"/><circle cx="139.1" cy="283.4"/><circle cx="359.0" cy="234.6"/><circle cx="275.5" cy="179.7"/><circle cx="326.0" cy="120.0"/><circle cx="275.5" cy="180.2"/><circle cx="293.6" cy="338.8"/><circle cx="338.9" cy="196.3"/><circle cx="185.7" cy="211.6"/><circle cx="315.3" cy="166.5"/><circle cx="271.8" cy="181.3"/><circle cx="153.2" cy="258.8"/><circle cx="111.5" cy="315.7"/><circle cx="152.1" cy="254.8"/><circle cx="323.1" cy="195.7"/><circle cx="359.4" cy="292.9"/><circle cx="263.8" cy="178.5"/><circle cx="292.6" cy="339.2"/><circle cx="391.1" cy="274.1"/><circle cx="358.6" cy="230.2"/><circle cx="387.2" cy="267.0"/><circle cx="328.0" cy="199.8"/><circle cx="357.0" cy="297.5"/><circle cx="163.7" cy="234.3"/><circle cx="99.7" cy="329.6"/><circle cx="106.0" cy="318.7"/><circle cx="99.7" cy="330.5"/><circle cx="120.3" cy="343.9"/><circle cx="323.8" cy="145.2"/><circle cx="230.3" cy="178.0"/><circle cx="264.6" cy="185.5"/><circle cx="186.6" cy="192.0"/><circle cx="285.7" cy="195.1"/><circle cx="195.9" cy="191.4"/><circle cx="268.4" cy="182.6"/><circle cx="368.4" cy="237.9"/><circle cx="340.8" cy="242.3"/><circle cx="343.5" cy="242.7"/><circle cx="372.2" cy="224.7"/><circle cx="384.0" cy="207.6"/><circle cx="374.6" cy="198.1"/><circle cx="267.1" cy="184.7"/><circle cx="265.4" cy="167.5"/><circle cx="352.3" cy="246.1"/><circle cx="291.1" cy="184.8"/><circle cx="356.0" cy="267.0"/><circle cx="155.8" cy="254.4"/><circle cx="375.1" cy="266.1"/><circle cx="288.1" cy="337.4"/><circle cx="356.6" cy="254.1"/><circle cx="360.3" cy="281.5"/><circle cx="230.4" cy="189.5"/><circle cx="386.4" cy="283.6"/><circle cx="332.1" cy="205.4"/><circle cx="357.7" cy="325.5"/><circle cx="336.0" cy="211.1"/><circle cx="210.0" cy="147.0"/><circle cx="345.5" cy="257.3"/><circle cx="346.6" cy="308.8"/><circle cx="245.4" cy="181.8"/><circle cx="129.1" cy="296.3"/><circle cx="183.1" cy="214.4"/><circle cx="336.0" cy="305.4"/><circle cx="355.4" cy="287.1"/><circle cx="271.9" cy="192.1"/><circle cx="355.6" cy="244.3"/><circle cx="389.3" cy="206.2"/><circle cx="260.6" cy="195.7"/><circle cx="229.7" cy="194.6"/><circle cx="337.8" cy="154.0"/><circle cx="328.3" cy="155.7"/><circle cx="343.3" cy="159.5"/><circle cx="243.9" cy="197.7"/><circle cx="336.7" cy="338.5"/><circle cx="353.0" cy="281.4"/><circle cx="340.1" cy="159.3"/><circle cx="271.3" cy="340.1"/><circle cx="346.6" cy="171.6"/><circle cx="329.7" cy="153.8"/><circle cx="290.6" cy="185.3"/><circle cx="238.6" cy="182.6"/><circle cx="158.7" cy="235.1"/><circle cx="342.3" cy="297.0"/><circle cx="285.8" cy="132.7"/><circle cx="173.5" cy="226.6"/><circle cx="364.7" cy="241.9"/><circle cx="114.3" cy="305.5"/><circle cx="219.3" cy="201.1"/><circle cx="293.1" cy="338.8"/><circle cx="349.9" cy="239.1"/><circle cx="351.2" cy="315.3"/><circle cx="219.4" cy="191.6"/><circle cx="303.4" cy="146.2"/><circle cx="295.1" cy="166.0"/><circle cx="229.2" cy="178.3"/><circle cx="349.2" cy="282.5"/><circle cx="346.0" cy="156.6"/><circle cx="136.1" cy="342.4"/><circle cx="394.5" cy="234.4"/><circle cx="219.3" cy="185.5"/><circle cx="311.7" cy="170.5"/><circle cx="105.4" cy="314.2"/><circle cx="192.8" cy="204.6"/><circle cx="127.3" cy="295.1"/><circle cx="353.8" cy="305.0"/><circle cx="281.2" cy="178.5"/><circle cx="243.4" cy="201.3"/><circle cx="347.5" cy="288.8"/><circle cx="367.6" cy="262.8"/><circle cx="256.0" cy="185.1"/><circle cx="338.0" cy="219.9"/><circle cx="365.9" cy="228.7"/><circle cx="198.0" cy="195.1"/><circle cx="225.5" cy="192.1"/><circle cx="359.9" cy="134.3"/><circle cx="163.4" cy="342.2"/><circle cx="139.8" cy="265.8"/><circle cx="329.3" cy="333.7"/><circle cx="363.7" cy="289.1"/><circle cx="217.1" cy="191.1"/><circle cx="217.2" cy="347.0"/><circle cx="243.3" cy="344.4"/><circle cx="362.9" cy="177.4"/><circle cx="238.9" cy="190.9"/><circle cx="324.9" cy="160.0"/><circle cx="331.6" cy="181.3"/><circle cx="365.3" cy="281.8"/><circle cx="368.1" cy="254.5"/><circle cx="248.0" cy="185.0"/><circle cx="250.1" cy="195.2"/><circle cx="122.2" cy="296.2"/><circle cx="159.4" cy="238.7"/><circle cx="246.5" cy="339.7"/><circle cx="285.0" cy="163.8"/><circle cx="311.9" cy="169.0"/><circle cx="330.2" cy="180.7"/><circle cx="359.1" cy="154.2"/><circle cx="330.3" cy="182.3"/><circle cx="338.2" cy="302.2"/><circle cx="323.3" cy="169.1"/><circle cx="332.4" cy="158.1"/><circle cx="352.4" cy="148.9"/><circle cx="343.4" cy="310.9"/><circle cx="380.5" cy="220.2"/><circle cx="305.2" cy="156.7"/><circle cx="366.3" cy="279.6"/><circle cx="298.0" cy="141.9"/><circle cx="305.3" cy="180.8"/><circle cx="376.1" cy="263.6"/><circle cx="350.1" cy="280.7"/><circle cx="246.2" cy="339.2"/><circle cx="352.3" cy="303.6"/><circle cx="367.8" cy="248.7"/><circle cx="211.2" cy="184.3"/><circle cx="332.1" cy="217.2"/><circle cx="354.7" cy="246.9"/><circle cx="353.9" cy="231.7"/><circle cx="347.9" cy="330.7"/><circle cx="227.4" cy="344.8"/><circle cx="234.0" cy="344.4"/><circle cx="246.6" cy="201.5"/><circle cx="362.2" cy="161.8"/><circle cx="217.0" cy="203.6"/><circle cx="402.4" cy="239.3"/><circle cx="326.6" cy="209.0"/><circle cx="305.9" cy="162.2"/><circle cx="278.7" cy="137.9"/><circle cx="198.7" cy="193.8"/><circle cx="381.5" cy="150.8"/><circle cx="143.3" cy="275.6"/><circle cx="339.3" cy="332.6"/><circle cx="404.0" cy="244.0"/><circle cx="306.3" cy="185.8"/><circle cx="325.2" cy="114.8"/><circle cx="390.2" cy="279.9"/><circle cx="332.1" cy="140.1"/><circle cx="303.5" cy="184.1"/><circle cx="387.1" cy="187.3"/><circle cx="120.2" cy="304.2"/><circle cx="319.4" cy="142.6"/><circle cx="118.8" cy="304.7"/><circle cx="209.8" cy="201.8"/><circle cx="342.9" cy="320.5"/><circle cx="160.7" cy="341.7"/><circle cx="339.0" cy="224.8"/><circle cx="381.7" cy="232.4"/><circle cx="208.4" cy="345.1"/><circle cx="257.0" cy="341.0"/><circle cx="395.6" cy="206.9"/><circle cx="348.9" cy="229.7"/><circle cx="240.2" cy="203.9"/><circle cx="325.7" cy="208.5"/><circle cx="122.3" cy="343.8"/><circle cx="278.9" cy="147.9"/><circle cx="340.4" cy="245.9"/><circle cx="350.0" cy="302.3"/><circle cx="102.2" cy="341.2"/><circle cx="338.7" cy="191.1"/><circle cx="366.7" cy="141.6"/><circle cx="340.2" cy="206.3"/><circle cx="367.2" cy="202.9"/><circle cx="350.9" cy="294.6"/><circle cx="370.4" cy="296.7"/><circle cx="322.2" cy="163.4"/><circle cx="153.0" cy="348.0"/><circle cx="188.4" cy="206.3"/><circle cx="370.4" cy="141.5"/><circle cx="380.2" cy="279.0"/><circle cx="353.4" cy="262.7"/><circle cx="355.9" cy="172.2"/><circle cx="294.1" cy="166.1"/><circle cx="296.1" cy="177.8"/><circle cx="381.4" cy="276.8"/><circle cx="381.7" cy="316.4"/><circle cx="350.9" cy="149.1"/><circle cx="283.3" cy="339.1"/><circle cx="320.2" cy="168.8"/><circle cx="97.4" cy="332.0"/><circle cx="356.9" cy="243.5"/><circle cx="232.5" cy="185.6"/><circle cx="390.5" cy="269.7"/><circle cx="331.4" cy="179.6"/><circle cx="346.5" cy="255.3"/><circle cx="191.1" cy="210.8"/><circle cx="353.4" cy="273.2"/><circle cx="353.3" cy="227.1"/><circle cx="244.4" cy="185.6"/><circle cx="340.3" cy="192.0"/><circle cx="331.5" cy="328.7"/><circle cx="358.1" cy="174.4"/><circle cx="237.2" cy="193.1"/><circle cx="324.9" cy="179.3"/><circle cx="290.9" cy="336.3"/><circle cx="341.8" cy="220.4"/><circle cx="321.4" cy="327.9"/><circle cx="106.3" cy="340.7"/><circle cx="315.2" cy="127.1"/><circle cx="373.2" cy="170.0"/><circle cx="157.5" cy="254.1"/><circle cx="319.9" cy="187.2"/><circle cx="223.6" cy="190.4"/><circle cx="258.8" cy="149.4"/><circle cx="183.5" cy="214.7"/><circle cx="322.3" cy="173.0"/><circle cx="351.3" cy="301.2"/><circle cx="273.7" cy="172.6"/><circle cx="374.0" cy="140.4"/><circle cx="243.8" cy="197.4"/><circle cx="347.6" cy="205.7"/><circle cx="266.0" cy="175.8"/><circle cx="379.7" cy="231.7"/><circle cx="243.7" cy="199.2"/><circle cx="347.5" cy="282.3"/><circle cx="228.7" cy="181.1"/><circle cx="151.5" cy="347.1"/><circle cx="333.7" cy="225.9"/><circle cx="280.1" cy="181.7"/><circle cx="182.5" cy="214.9"/><circle cx="332.3" cy="159.6"/><circle cx="379.3" cy="193.8"/><circle cx="388.5" cy="256.0"/><circle cx="250.0" cy="344.5"/><circle cx="264.1" cy="170.7"/><circle cx="322.5" cy="188.8"/><circle cx="202.1" cy="347.0"/><circle cx="366.2" cy="286.4"/><circle cx="362.9" cy="206.6"/><circle cx="230.9" cy="197.6"/><circle cx="258.0" cy="199.9"/><circle cx="266.0" cy="180.0"/><circle cx="363.7" cy="134.7"/><circle cx="299.7" cy="341.7"/><circle cx="244.4" cy="190.9"/><circle cx="335.9" cy="222.5"/><circle cx="383.7" cy="302.2"/><circle cx="356.2" cy="241.0"/><circle cx="336.2" cy="207.3"/><circle cx="367.7" cy="300.4"/><circle cx="288.8" cy="183.5"/><circle cx="297.6" cy="151.3"/><circle cx="237.6" cy="180.7"/><circle cx="173.9" cy="345.4"/><circle cx="296.8" cy="171.1"/><circle cx="365.0" cy="276.1"/><circle cx="380.4" cy="266.5"/><circle cx="251.9" cy="185.1"/><circle cx="272.3" cy="169.0"/><circle cx="320.8" cy="185.5"/><circle cx="172.9" cy="346.1"/><circle cx="316.3" cy="152.3"/><circle cx="335.1" cy="154.5"/><circle cx="330.8" cy="323.7"/><circle cx="251.2" cy="200.1"/><circle cx="325.3" cy="202.7"/><circle cx="229.3" cy="172.7"/><circle cx="273.5" cy="189.4"/><circle cx="336.2" cy="311.3"/><circle cx="238.1" cy="192.6"/><circle cx="123.6" cy="301.8"/><circle cx="187.5" cy="207.8"/><circle cx="335.6" cy="172.1"/><circle cx="342.0" cy="310.6"/><circle cx="386.8" cy="274.8"/><circle cx="253.0" cy="182.6"/><circle cx="264.2" cy="153.7"/><circle cx="153.6" cy="250.8"/><circle cx="333.9" cy="323.6"/><circle cx="325.0" cy="337.9"/><circle cx="251.2" cy="186.6"/><circle cx="320.3" cy="122.8"/><circle cx="274.1" cy="192.0"/><circle cx="344.2" cy="193.0"/><circle cx="382.1" cy="171.7"/><circle cx="323.7" cy="198.0"/><circle cx="336.5" cy="197.9"/><circle cx="357.9" cy="234.6"/><circle cx="140.9" cy="345.8"/><circle cx="356.0" cy="205.6"/><circle cx="232.5" cy="186.0"/><circle cx="368.7" cy="210.9"/><circle cx="301.5" cy="172.9"/><circle cx="337.5" cy="149.5"/><circle cx="305.2" cy="118.6"/><circle cx="194.9" cy="347.4"/><circle cx="90.4" cy="320.6"/><circle cx="233.8" cy="345.0"/><circle cx="362.9" cy="259.9"/><circle cx="343.4" cy="241.8"/><circle cx="219.3" cy="197.5"/><circle cx="336.1" cy="206.2"/><circle cx="366.7" cy="124.8"/><circle cx="344.8" cy="157.3"/><circle cx="342.1" cy="200.2"/><circle cx="314.9" cy="172.5"/><circle cx="207.6" cy="144.4"/><circle cx="349.7" cy="287.8"/><circle cx="384.8" cy="218.9"/><circle cx="150.1" cy="342.1"/><circle cx="396.4" cy="267.1"/><circle cx="142.6" cy="272.5"/><circle cx="369.5" cy="276.8"/><circle cx="336.8" cy="324.5"/><circle cx="100.2" cy="324.8"/><circle cx="290.0" cy="139.7"/><circle cx="365.9" cy="163.6"/><circle cx="345.4" cy="189.1"/><circle cx="336.6" cy="166.2"/><circle cx="286.8" cy="339.9"/><circle cx="254.1" cy="191.8"/><circle cx="351.4" cy="193.0"/><circle cx="342.1" cy="204.5"/><circle cx="243.0" cy="186.8"/><circle cx="292.0" cy="183.7"/><circle cx="394.5" cy="284.5"/><circle cx="311.6" cy="170.1"/><circle cx="272.3" cy="175.4"/><circle cx="191.6" cy="347.5"/><circle cx="167.2" cy="239.2"/><circle cx="366.8" cy="183.1"/><circle cx="89.9" cy="337.2"/><circle cx="344.4" cy="238.7"/><circle cx="280.1" cy="164.0"/><circle cx="354.0" cy="264.3"/><circle cx="238.4" cy="177.1"/><circle cx="316.9" cy="179.5"/><circle cx="376.4" cy="244.0"/><circle cx="242.8" cy="341.1"/><circle cx="255.5" cy="193.7"/><circle cx="172.4" cy="230.6"/><circle cx="336.5" cy="203.6"/><circle cx="348.2" cy="309.5"/><circle cx="191.8" cy="204.5"/><circle cx="341.0" cy="327.4"/><circle cx="140.9" cy="351.1"/><circle cx="133.0" cy="344.2"/><circle cx="405.5" cy="280.7"/><circle cx="333.0" cy="119.0"/><circle cx="380.8" cy="157.3"/><circle cx="389.7" cy="205.1"/><circle cx="332.1" cy="213.2"/><circle cx="403.6" cy="276.1"/><circle cx="345.2" cy="307.8"/><circle cx="393.1" cy="254.9"/><circle cx="356.7" cy="147.0"/><circle cx="346.4" cy="241.5"/><circle cx="213.5" cy="346.5"/><circle cx="333.1" cy="203.5"/><circle cx="358.3" cy="161.5"/><circle cx="262.2" cy="342.9"/><circle cx="153.7" cy="260.5"/><circle cx="349.0" cy="297.3"/><circle cx="357.9" cy="249.0"/><circle cx="237.5" cy="345.6"/><circle cx="290.9" cy="188.8"/><circle cx="190.3" cy="345.8"/><circle cx="310.7" cy="335.2"/><circle cx="384.5" cy="269.0"/><circle cx="319.9" cy="325.4"/><circle cx="312.7" cy="145.6"/><circle cx="356.8" cy="260.3"/><circle cx="252.8" cy="180.2"/><circle cx="392.1" cy="291.8"/><circle cx="363.5" cy="286.9"/><circle cx="220.4" cy="191.6"/><circle cx="345.0" cy="300.7"/><circle cx="140.0" cy="279.3"/><circle cx="280.2" cy="192.5"/><circle cx="393.1" cy="264.7"/><circle cx="122.0" cy="341.4"/><circle cx="351.3" cy="191.8"/><circle cx="351.6" cy="297.9"/><circle cx="201.1" cy="177.0"/><circle cx="377.9" cy="307.7"/><circle cx="317.2" cy="182.7"/><circle cx="293.3" cy="338.3"/><circle cx="353.3" cy="243.4"/><circle cx="355.4" cy="273.9"/><circle cx="232.8" cy="203.9"/><circle cx="286.8" cy="177.4"/><circle cx="255.1" cy="340.2"/><circle cx="213.4" cy="197.7"/><circle cx="342.4" cy="231.6"/><circle cx="356.1" cy="240.5"/><circle cx="266.6" cy="158.3"/><circle cx="267.0" cy="137.0"/><circle cx="357.8" cy="279.3"/><circle cx="360.9" cy="165.5"/><circle cx="338.8" cy="134.4"/><circle cx="133.5" cy="281.6"/><circle cx="362.3" cy="145.7"/><circle cx="286.8" cy="171.0"/><circle cx="377.2" cy="253.2"/><circle cx="197.6" cy="199.3"/><circle cx="266.6" cy="340.9"/><circle cx="248.9" cy="197.8"/><circle cx="375.0" cy="129.8"/><circle cx="289.0" cy="165.0"/><circle cx="267.9" cy="156.2"/><circle cx="352.0" cy="285.9"/><circle cx="300.9" cy="173.3"/><circle cx="381.6" cy="287.2"/><circle cx="331.3" cy="177.9"/><circle cx="356.2" cy="255.7"/><circle cx="224.0" cy="185.1"/><circle cx="357.9" cy="258.6"/><circle cx="353.9" cy="265.0"/><circle cx="130.5" cy="341.1"/><circle cx="257.0" cy="193.1"/><circle cx="358.9" cy="265.5"/><circle cx="277.6" cy="190.7"/><circle cx="356.2" cy="314.2"/><circle cx="389.1" cy="277.5"/><circle cx="252.5" cy="183.5"/><circle cx="236.5" cy="197.4"/><circle cx="311.7" cy="177.3"/><circle cx="327.7" cy="181.1"/><circle cx="338.0" cy="245.7"/><circle cx="327.4" cy="152.0"/><circle cx="158.0" cy="250.1"/><circle cx="372.1" cy="277.5"/><circle cx="370.2" cy="204.6"/><circle cx="258.2" cy="194.7"/><circle cx="357.0" cy="293.8"/><circle cx="335.3" cy="211.6"/><circle cx="362.8" cy="274.0"/><circle cx="246.6" cy="197.6"/><circle cx="308.9" cy="178.9"/><circle cx="153.1" cy="346.3"/><circle cx="339.7" cy="222.6"/><circle cx="268.8" cy="196.8"/><circle cx="338.2" cy="178.5"/><circle cx="393.2" cy="275.7"/><circle cx="326.0" cy="132.7"/><circle cx="290.7" cy="164.1"/><circle cx="358.7" cy="282.0"/><circle cx="341.4" cy="162.5"/><circle cx="266.2" cy="198.2"/><circle cx="121.6" cy="341.1"/><circle cx="213.3" cy="202.5"/><circle cx="92.6" cy="335.0"/><circle cx="360.4" cy="256.2"/><circle cx="268.1" cy="166.6"/><circle cx="251.2" cy="196.9"/><circle cx="351.6" cy="292.6"/><circle cx="227.4" cy="197.1"/><circle cx="337.8" cy="192.4"/><circle cx="306.8" cy="182.7"/><circle cx="280.9" cy="190.7"/><circle cx="337.5" cy="248.6"/><circle cx="337.5" cy="126.0"/><circle cx="330.9" cy="188.7"/><circle cx="264.5" cy="199.5"/><circle cx="180.9" cy="214.1"/><circle cx="314.7" cy="184.9"/><circle cx="371.6" cy="202.1"/><circle cx="292.7" cy="175.3"/><circle cx="379.2" cy="267.9"/><circle cx="344.7" cy="255.1"/><circle cx="173.2" cy="347.8"/><circle cx="351.4" cy="173.6"/><circle cx="338.2" cy="238.2"/><circle cx="351.8" cy="192.8"/><circle cx="178.5" cy="224.6"/><circle cx="327.9" cy="211.5"/><circle cx="368.5" cy="275.5"/><circle cx="213.3" cy="194.8"/><circle cx="96.8" cy="341.0"/><circle cx="286.0" cy="168.5"/><circle cx="114.4" cy="343.7"/><circle cx="229.6" cy="194.9"/><circle cx="313.4" cy="170.6"/><circle cx="176.2" cy="228.3"/><circle cx="151.2" cy="346.1"/><circle cx="345.5" cy="240.0"/><circle cx="130.0" cy="287.4"/><circle cx="329.1" cy="205.4"/><circle cx="368.3" cy="315.5"/><circle cx="367.0" cy="280.0"/><circle cx="374.8" cy="217.6"/><circle cx="342.0" cy="218.7"/><circle cx="255.1" cy="196.7"/><circle cx="353.7" cy="294.5"/><circle cx="346.1" cy="174.2"/><circle cx="231.6" cy="187.8"/><circle cx="282.3" cy="337.1"/><circle cx="324.7" cy="172.0"/><circle cx="323.8" cy="134.1"/><circle cx="374.4" cy="245.1"/><circle cx="302.0" cy="180.5"/><circle cx="347.5" cy="241.7"/><circle cx="143.9" cy="346.2"/><circle cx="404.5" cy="289.3"/><circle cx="350.5" cy="294.3"/><circle cx="363.1" cy="176.9"/><circle cx="385.4" cy="238.9"/><circle cx="207.9" cy="192.9"/><circle cx="271.0" cy="191.4"/><circle cx="379.7" cy="291.8"/><circle cx="347.4" cy="286.0"/><circle cx="323.7" cy="128.9"/><circle cx="338.6" cy="220.1"/><circle cx="312.1" cy="156.1"/><circle cx="341.3" cy="314.6"/><circle cx="297.4" cy="135.7"/><circle cx="341.6" cy="292.3"/><circle cx="327.0" cy="330.9"/><circle cx="204.0" cy="193.6"/><circle cx="165.8" cy="238.3"/><circle cx="198.7" cy="195.7"/><circle cx="333.1" cy="214.9"/><circle cx="209.5" cy="187.4"/><circle cx="325.5" cy="331.7"/><circle cx="334.5" cy="225.4"/><circle cx="309.7" cy="174.2"/><circle cx="372.1" cy="226.4"/><circle cx="363.4" cy="255.2"/><circle cx="342.4" cy="233.8"/><circle cx="346.4" cy="323.9"/><circle cx="322.8" cy="325.3"/><circle cx="224.3" cy="344.9"/><circle cx="310.3" cy="129.2"/><circle cx="322.6" cy="156.8"/><circle cx="261.3" cy="187.1"/><circle cx="249.6" cy="342.0"/><circle cx="361.8" cy="242.3"/><circle cx="340.9" cy="232.2"/><circle cx="226.8" cy="196.6"/><circle cx="182.3" cy="216.4"/><circle cx="139.7" cy="280.6"/><circle cx="102.3" cy="318.2"/><circle cx="265.5" cy="344.0"/><circle cx="241.4" cy="188.0"/><circle cx="105.2" cy="336.8"/><circle cx="361.5" cy="120.2"/><circle cx="355.1" cy="266.4"/><circle cx="334.1" cy="226.5"/><circle cx="222.9" cy="177.9"/><circle cx="378.7" cy="225.2"/><circle cx="379.7" cy="289.5"/><circle cx="365.8" cy="279.5"/><circle cx="97.1" cy="328.8"/><circle cx="264.7" cy="197.3"/><circle cx="373.2" cy="274.3"/><circle cx="380.6" cy="244.7"/><circle cx="325.7" cy="183.3"/><circle cx="306.8" cy="172.3"/><circle cx="369.4" cy="277.7"/><circle cx="381.8" cy="258.9"/><circle cx="312.8" cy="343.8"/><circle cx="365.1" cy="191.4"/><circle cx="341.7" cy="331.2"/><circle cx="328.0" cy="200.4"/><circle cx="266.1" cy="146.6"/><circle cx="315.2" cy="335.7"/><circle cx="356.8" cy="240.6"/><circle cx="283.6" cy="180.3"/><circle cx="382.5" cy="204.5"/><circle cx="344.7" cy="184.5"/><circle cx="349.5" cy="317.8"/><circle cx="335.6" cy="143.3"/><circle cx="354.9" cy="283.0"/><circle cx="367.8" cy="280.9"/><circle cx="241.5" cy="201.3"/><circle cx="236.1" cy="168.7"/><circle cx="117.6" cy="301.5"/><circle cx="280.6" cy="190.1"/><circle cx="369.8" cy="223.3"/><circle cx="322.8" cy="180.2"/><circle cx="334.1" cy="191.0"/><circle cx="270.7" cy="185.8"/><circle cx="125.8" cy="298.5"/><circle cx="153.0" cy="263.0"/><circle cx="357.5" cy="289.8"/><circle cx="370.5" cy="219.4"/><circle cx="357.9" cy="188.6"/><circle cx="351.8" cy="308.2"/><circle cx="316.6" cy="140.0"/><circle cx="385.7" cy="239.0"/><circle cx="171.3" cy="354.2"/><circle cx="331.7" cy="210.9"/><circle cx="284.1" cy="125.1"/><circle cx="283.9" cy="183.7"/><circle cx="102.5" cy="342.2"/><circle cx="314.7" cy="173.5"/><circle cx="311.3" cy="336.6"/><circle cx="146.1" cy="340.9"/><circle cx="343.9" cy="289.9"/><circle cx="373.6" cy="274.9"/><circle cx="354.5" cy="175.8"/><circle cx="323.6" cy="333.3"/><circle cx="337.7" cy="232.1"/><circle cx="265.0" cy="151.1"/><circle cx="168.8" cy="230.7"/><circle cx="343.4" cy="296.4"/><circle cx="345.3" cy="236.4"/><circle cx="100.8" cy="322.7"/><circle cx="330.5" cy="224.7"/><circle cx="355.0" cy="226.1"/><circle cx="370.5" cy="245.4"/><circle cx="225.1" cy="166.4"/><circle cx="179.1" cy="354.6"/><circle cx="290.2" cy="151.7"/><circle cx="357.7" cy="223.7"/><circle cx="174.9" cy="342.0"/><circle cx="330.6" cy="191.2"/><circle cx="319.9" cy="324.2"/><circle cx="246.5" cy="184.2"/><circle cx="371.4" cy="249.8"/><circle cx="351.0" cy="217.6"/><circle cx="286.8" cy="184.8"/><circle cx="354.1" cy="261.1"/><circle cx="101.2" cy="314.8"/><circle cx="334.2" cy="142.7"/><circle cx="352.0" cy="147.0"/><circle cx="315.4" cy="165.5"/><circle cx="203.8" cy="182.6"/><circle cx="326.7" cy="201.5"/><circle cx="218.2" cy="179.8"/><circle cx="337.6" cy="330.0"/><circle cx="323.2" cy="201.3"/><circle cx="353.2" cy="270.3"/><circle cx="275.9" cy="181.7"/><circle cx="239.6" cy="193.2"/><circle cx="335.3" cy="323.4"/><circle cx="275.9" cy="164.0"/><circle cx="186.2" cy="345.2"/><circle cx="332.8" cy="127.8"/><circle cx="232.4" cy="177.0"/><circle cx="388.2" cy="282.1"/><circle cx="322.1" cy="180.8"/><circle cx="177.3" cy="344.8"/><circle cx="148.4" cy="346.8"/><circle cx="235.7" cy="345.1"/><circle cx="381.2" cy="204.9"/><circle cx="101.7" cy="322.6"/><circle cx="346.4" cy="207.4"/><circle cx="304.2" cy="181.8"/><circle cx="378.8" cy="243.8"/><circle cx="165.8" cy="343.3"/><circle cx="235.7" cy="197.2"/><circle cx="183.4" cy="346.4"/><circle cx="374.4" cy="222.6"/><circle cx="394.3" cy="262.1"/><circle cx="353.0" cy="248.1"/><circle cx="336.5" cy="171.0"/><circle cx="131.0" cy="344.8"/><circle cx="345.3" cy="255.6"/><circle cx="334.0" cy="181.9"/><circle cx="364.4" cy="175.0"/><circle cx="319.6" cy="171.6"/><circle cx="265.8" cy="161.9"/><circle cx="295.7" cy="166.5"/><circle cx="267.9" cy="172.5"/><circle cx="342.0" cy="228.9"/><circle cx="368.0" cy="213.8"/><circle cx="278.6" cy="156.2"/><circle cx="235.1" cy="190.1"/><circle cx="341.8" cy="242.0"/><circle cx="306.8" cy="168.6"/><circle cx="182.5" cy="205.3"/><circle cx="130.9" cy="282.8"/><circle cx="353.7" cy="312.9"/><circle cx="397.8" cy="234.1"/><circle cx="406.4" cy="311.4"/><circle cx="101.3" cy="320.5"/><circle cx="294.1" cy="183.6"/><circle cx="302.5" cy="158.7"/><circle cx="343.1" cy="215.2"/><circle cx="354.2" cy="288.7"/><circle cx="303.9" cy="146.4"/><circle cx="285.6" cy="336.4"/><circle cx="292.1" cy="154.0"/><circle cx="274.6" cy="164.7"/><circle cx="213.6" cy="194.1"/><circle cx="285.7" cy="145.5"/><circle cx="253.7" cy="155.3"/><circle cx="389.7" cy="272.4"/><circle cx="352.4" cy="164.6"/><circle cx="362.9" cy="153.5"/><circle cx="367.5" cy="299.6"/><circle cx="334.4" cy="210.7"/><circle cx="329.5" cy="154.8"/><circle cx="350.6" cy="304.2"/><circle cx="328.2" cy="327.7"/><circle cx="337.5" cy="200.4"/><circle cx="245.0" cy="179.6"/><circle cx="144.5" cy="344.9"/><circle cx="326.0" cy="148.0"/><circle cx="347.4" cy="302.7"/><circle cx="329.2" cy="158.1"/><circle cx="390.7" cy="218.5"/><circle cx="336.8" cy="224.4"/><circle cx="370.2" cy="256.6"/><circle cx="350.9" cy="267.6"/><circle cx="345.7" cy="129.4"/><circle cx="168.6" cy="233.0"/><circle cx="390.7" cy="280.1"/><circle cx="118.2" cy="309.2"/><circle cx="333.5" cy="201.2"/><circle cx="337.7" cy="168.9"/><circle cx="129.1" cy="296.4"/><circle cx="258.2" cy="181.3"/><circle cx="352.1" cy="246.3"/><circle cx="213.7" cy="194.3"/><circle cx="319.9" cy="144.8"/><circle cx="320.2" cy="184.7"/><circle cx="323.8" cy="130.4"/><circle cx="366.4" cy="268.3"/><circle cx="227.9" cy="203.4"/><circle cx="134.0" cy="282.0"/><circle cx="274.7" cy="161.5"/><circle cx="349.1" cy="220.3"/><circle cx="387.5" cy="236.7"/><circle cx="363.5" cy="200.5"/><circle cx="256.8" cy="200.9"/><circle cx="328.9" cy="226.2"/><circle cx="358.4" cy="296.5"/><circle cx="252.9" cy="182.5"/><circle cx="334.6" cy="320.9"/><circle cx="367.4" cy="149.4"/><circle cx="301.6" cy="150.8"/><circle cx="218.9" cy="346.1"/><circle cx="146.5" cy="267.8"/><circle cx="349.2" cy="280.5"/><circle cx="295.4" cy="189.0"/><circle cx="288.1" cy="339.4"/><circle cx="178.1" cy="345.3"/><circle cx="352.6" cy="309.0"/><circle cx="236.5" cy="204.5"/><circle cx="247.5" cy="200.3"/><circle cx="334.4" cy="188.1"/><circle cx="295.9" cy="145.0"/><circle cx="344.6" cy="227.2"/><circle cx="106.2" cy="320.5"/><circle cx="287.8" cy="192.0"/><circle cx="319.4" cy="157.5"/><circle cx="282.8" cy="159.9"/><circle cx="204.5" cy="344.4"/><circle cx="231.4" cy="345.4"/><circle cx="295.2" cy="179.9"/><circle cx="338.4" cy="228.1"/><circle cx="114.3" cy="305.5"/><circle cx="292.9" cy="341.6"/><circle cx="264.2" cy="193.4"/><circle cx="209.4" cy="176.1"/><circle cx="342.3" cy="304.8"/><circle cx="205.8" cy="192.9"/><circle cx="349.6" cy="276.2"/><circle cx="338.6" cy="187.5"/><circle cx="330.3" cy="170.4"/><circle cx="331.1" cy="204.1"/><circle cx="353.0" cy="264.8"/><circle cx="307.4" cy="179.5"/><circle cx="379.6" cy="223.3"/><circle cx="246.3" cy="185.8"/><circle cx="138.7" cy="284.5"/><circle cx="306.0" cy="337.8"/><circle cx="274.5" cy="188.9"/><circle cx="286.7" cy="163.7"/><circle cx="325.0" cy="180.6"/><circle cx="338.2" cy="216.2"/><circle cx="342.8" cy="300.5"/><circle cx="378.9" cy="258.5"/><circle cx="293.8" cy="339.9"/><circle cx="130.1" cy="287.8"/><circle cx="214.8" cy="191.5"/><circle cx="105.4" cy="338.6"/><circle cx="345.4" cy="248.2"/><circle cx="356.0" cy="245.1"/><circle cx="222.5" cy="187.2"/><circle cx="366.4" cy="220.4"/><circle cx="385.0" cy="291.9"/><circle cx="361.1" cy="256.4"/><circle cx="152.2" cy="345.9"/><circle cx="241.1" cy="197.9"/><circle cx="264.4" cy="125.8"/><circle cx="125.2" cy="343.5"/><circle cx="274.4" cy="337.8"/><circle cx="330.5" cy="160.1"/><circle cx="288.1" cy="191.7"/><circle cx="217.2" cy="203.7"/><circle cx="351.4" cy="246.9"/><circle cx="354.3" cy="224.3"/><circle cx="98.4" cy="340.5"/><circle cx="182.7" cy="214.7"/><circle cx="335.3" cy="243.0"/><circle cx="299.4" cy="136.9"/><circle cx="343.6" cy="163.8"/><circle cx="276.9" cy="171.2"/><circle cx="356.2" cy="281.6"/><circle cx="370.7" cy="309.8"/><circle cx="377.8" cy="278.3"/><circle cx="219.0" cy="346.8"/><circle cx="258.3" cy="165.1"/><circle cx="339.6" cy="203.5"/><circle cx="287.0" cy="175.3"/><circle cx="355.4" cy="285.5"/><circle cx="336.0" cy="232.0"/><circle cx="328.1" cy="193.8"/><circle cx="384.7" cy="253.1"/><circle cx="257.0" cy="182.2"/><circle cx="251.6" cy="198.7"/><circle cx="347.7" cy="293.2"/><circle cx="216.8" cy="193.1"/><circle cx="332.3" cy="177.7"/><circle cx="340.5" cy="331.0"/><circle cx="267.3" cy="188.6"/><circle cx="232.5" cy="186.9"/><circle cx="356.8" cy="324.5"/><circle cx="314.8" cy="168.3"/><circle cx="281.8" cy="158.3"/><circle cx="310.3" cy="183.4"/><circle cx="300.1" cy="335.6"/><circle cx="123.5" cy="296.5"/><circle cx="270.3" cy="169.9"/><circle cx="392.8" cy="271.0"/><circle cx="211.2" cy="347.6"/><circle cx="345.6" cy="212.7"/><circle cx="322.7" cy="132.2"/><circle cx="301.9" cy="143.3"/><circle cx="337.3" cy="332.3"/><circle cx="280.5" cy="182.6"/><circle cx="104.7" cy="339.4"/><circle cx="303.9" cy="164.2"/><circle cx="163.3" cy="241.7"/><circle cx="387.7" cy="274.2"/><circle cx="309.6" cy="135.1"/><circle cx="336.3" cy="320.8"/><circle cx="347.6" cy="235.4"/><circle cx="364.4" cy="219.7"/><circle cx="94.6" cy="334.5"/><circle cx="353.8" cy="312.5"/><circle cx="335.2" cy="125.4"/><circle cx="251.5" cy="195.3"/><circle cx="216.6" cy="191.9"/><circle cx="227.6" cy="197.8"/><circle cx="92.2" cy="335.2"/><circle cx="158.9" cy="248.3"/><circle cx="103.2" cy="342.3"/><circle cx="281.7" cy="340.3"/><circle cx="263.8" cy="184.2"/><circle cx="326.5" cy="185.0"/><circle cx="203.8" cy="195.6"/><circle cx="347.3" cy="256.5"/><circle cx="282.0" cy="186.2"/><circle cx="178.6" cy="218.8"/><circle cx="347.2" cy="190.6"/><circle cx="368.5" cy="284.6"/><circle cx="327.3" cy="217.1"/><circle cx="348.4" cy="303.0"/><circle cx="171.5" cy="230.8"/><circle cx="373.2" cy="283.5"/><circle cx="343.3" cy="253.8"/><circle cx="96.5" cy="327.3"/><circle cx="337.8" cy="227.3"/><circle cx="351.6" cy="296.5"/><circle cx="324.0" cy="164.1"/><circle cx="343.0" cy="321.4"/><circle cx="332.5" cy="110.3"/><circle cx="338.0" cy="174.6"/><circle cx="225.6" cy="187.9"/><circle cx="349.5" cy="275.6"/><circle cx="340.2" cy="251.6"/><circle cx="146.6" cy="342.0"/><circle cx="182.7" cy="347.6"/><circle cx="223.9" cy="195.8"/><circle cx="345.0" cy="246.4"/><circle cx="120.0" cy="300.1"/><circle cx="310.8" cy="179.2"/><circle cx="207.5" cy="187.7"/><circle cx="247.2" cy="195.2"/><circle cx="325.7" cy="184.3"/><circle cx="355.4" cy="297.7"/><circle cx="374.2" cy="288.3"/><circle cx="369.5" cy="225.0"/><circle cx="273.6" cy="180.0"/><circle cx="299.9" cy="336.1"/><circle cx="273.7" cy="339.2"/><circle cx="239.5" cy="181.0"/><circle cx="100.0" cy="338.4"/><circle cx="345.0" cy="246.1"/><circle cx="185.9" cy="344.5"/><circle cx="346.0" cy="103.8"/><circle cx="293.7" cy="188.6"/><circle cx="352.0" cy="156.4"/><circle cx="331.5" cy="158.2"/><circle cx="352.2" cy="286.9"/><circle cx="281.8" cy="186.3"/><circle cx="353.5" cy="240.9"/><circle cx="336.4" cy="180.9"/><circle cx="349.3" cy="295.7"/><circle cx="373.6" cy="151.4"/><circle cx="347.9" cy="178.2"/><circle cx="210.4" cy="346.8"/><circle cx="228.5" cy="193.0"/><circle cx="350.8" cy="311.3"/><circle cx="284.5" cy="186.4"/><circle cx="356.5" cy="145.9"/><circle cx="181.7" cy="343.5"/><circle cx="350.5" cy="275.9"/><circle cx="249.2" cy="188.4"/><circle cx="184.1" cy="207.5"/><circle cx="145.6" cy="276.3"/><circle cx="344.6" cy="128.7"/><circle cx="391.5" cy="176.2"/><circle cx="302.0" cy="171.3"/><circle cx="216.3" cy="199.5"/><circle cx="220.1" cy="199.5"/><circle cx="388.0" cy="297.1"/><circle cx="334.1" cy="230.4"/><circle cx="171.1" cy="233.6"/><circle cx="98.7" cy="313.0"/><circle cx="322.2" cy="188.7"/><circle cx="142.3" cy="269.7"/><circle cx="383.1" cy="148.0"/><circle cx="340.0" cy="233.8"/><circle cx="252.7" cy="200.8"/><circle cx="279.6" cy="338.0"/><circle cx="379.4" cy="265.4"/><circle cx="336.2" cy="312.4"/><circle cx="274.9" cy="340.8"/><circle cx="345.7" cy="203.2"/><circle cx="242.8" cy="159.1"/><circle cx="337.0" cy="187.8"/><circle cx="293.0" cy="169.9"/><circle cx="157.0" cy="247.2"/><circle cx="215.9" cy="194.3"/><circle cx="392.5" cy="304.6"/><circle cx="288.6" cy="172.3"/><circle cx="331.7" cy="233.2"/><circle cx="376.8" cy="238.4"/><circle cx="263.6" cy="189.6"/><circle cx="262.2" cy="192.9"/><circle cx="253.2" cy="152.6"/><circle cx="346.8" cy="310.7"/><circle cx="375.4" cy="262.1"/><circle cx="339.9" cy="214.6"/><circle cx="293.5" cy="173.5"/><circle cx="235.3" cy="344.3"/><circle cx="173.8" cy="346.2"/><circle cx="138.5" cy="276.4"/><circle cx="230.9" cy="144.0"/><circle cx="345.9" cy="296.5"/><circle cx="282.3" cy="191.8"/><circle cx="353.6" cy="281.2"/><circle cx="334.7" cy="203.3"/><circle cx="132.9" cy="284.1"/><circle cx="385.7" cy="205.8"/><circle cx="335.3" cy="187.4"/><circle cx="218.5" cy="204.6"/><circle cx="113.8" cy="306.8"/><circle cx="319.8" cy="150.5"/><circle cx="332.7" cy="184.0"/><circle cx="361.1" cy="291.9"/><circle cx="359.5" cy="149.2"/><circle cx="341.6" cy="304.2"/><circle cx="359.8" cy="297.4"/><circle cx="303.5" cy="186.2"/><circle cx="344.6" cy="239.7"/><circle cx="331.9" cy="166.4"/><circle cx="340.2" cy="328.2"/><circle cx="407.4" cy="188.8"/><circle cx="335.8" cy="321.5"/><circle cx="374.1" cy="242.4"/><circle cx="283.3" cy="342.8"/><circle cx="343.0" cy="302.7"/><circle cx="371.5" cy="241.5"/><circle cx="357.0" cy="330.4"/><circle cx="365.1" cy="282.0"/><circle cx="335.0" cy="208.0"/><circle cx="343.3" cy="227.9"/><circle cx="367.4" cy="288.9"/><circle cx="348.6" cy="255.9"/><circle cx="326.7" cy="194.7"/><circle cx="270.9" cy="192.9"/><circle cx="349.8" cy="266.4"/><circle cx="370.9" cy="257.1"/><circle cx="121.2" cy="294.5"/><circle cx="330.6" cy="238.6"/><circle cx="184.8" cy="342.3"/><circle cx="247.8" cy="188.2"/><circle cx="260.7" cy="197.5"/><circle cx="296.8" cy="158.1"/><circle cx="258.6" cy="187.8"/><circle cx="323.6" cy="176.8"/><circle cx="271.1" cy="173.8"/><circle cx="342.5" cy="235.4"/><circle cx="268.7" cy="176.8"/><circle cx="361.3" cy="214.1"/><circle cx="228.9" cy="197.9"/><circle cx="303.5" cy="180.7"/><circle cx="316.6" cy="182.5"/><circle cx="95.2" cy="338.6"/><circle cx="272.3" cy="192.1"/><circle cx="226.2" cy="192.8"/><circle cx="363.2" cy="316.4"/><circle cx="223.8" cy="197.0"/><circle cx="287.4" cy="176.4"/><circle cx="269.9" cy="156.1"/><circle cx="148.5" cy="271.1"/><circle cx="352.6" cy="247.8"/><circle cx="265.3" cy="180.8"/><circle cx="290.5" cy="167.9"/><circle cx="259.7" cy="343.9"/><circle cx="335.0" cy="215.1"/><circle cx="330.3" cy="192.4"/><circle cx="333.2" cy="217.8"/><circle cx="260.5" cy="175.7"/><circle cx="346.6" cy="299.3"/><circle cx="362.1" cy="221.5"/><circle cx="313.2" cy="122.4"/><circle cx="218.6" cy="177.6"/><circle cx="233.9" cy="198.5"/><circle cx="333.3" cy="198.6"/><circle cx="122.8" cy="339.7"/><circle cx="375.7" cy="275.2"/><circle cx="225.2" cy="199.7"/><circle cx="181.3" cy="343.8"/><circle cx="112.6" cy="306.6"/><circle cx="158.4" cy="347.1"/><circle cx="242.9" cy="175.4"/><circle cx="296.9" cy="178.0"/><circle cx="381.3" cy="213.5"/><circle cx="350.1" cy="290.6"/><circle cx="218.0" cy="345.7"/><circle cx="202.1" cy="344.0"/><circle cx="340.4" cy="166.8"/><circle cx="305.6" cy="148.0"/><circle cx="285.9" cy="173.8"/><circle cx="331.8" cy="210.1"/><circle cx="342.8" cy="120.9"/><circle cx="347.4" cy="285.5"/><circle cx="261.8" cy="196.0"/><circle cx="115.4" cy="311.5"/><circle cx="109.6" cy="311.9"/><circle cx="261.9" cy="191.4"/><circle cx="246.9" cy="347.3"/><circle cx="380.6" cy="234.3"/><circle cx="335.6" cy="321.4"/><circle cx="98.0" cy="322.1"/><circle cx="122.0" cy="296.4"/><circle cx="334.1" cy="203.0"/><circle cx="369.1" cy="111.9"/><circle cx="344.5" cy="247.1"/><circle cx="341.1" cy="197.4"/><circle cx="99.6" cy="324.1"/><circle cx="134.0" cy="342.3"/><circle cx="207.9" cy="188.9"/><circle cx="309.7" cy="174.7"/><circle cx="191.4" cy="198.9"/><circle cx="135.6" cy="344.8"/><circle cx="329.8" cy="185.3"/><circle cx="337.1" cy="232.1"/><circle cx="254.6" cy="185.9"/><circle cx="276.0" cy="164.5"/><circle cx="273.8" cy="186.4"/><circle cx="177.5" cy="227.2"/><circle cx="315.2" cy="339.2"/><circle cx="308.0" cy="164.8"/><circle cx="132.3" cy="269.6"/><circle cx="352.2" cy="307.1"/><circle cx="320.5" cy="186.7"/><circle cx="241.0" cy="190.4"/><circle cx="402.9" cy="294.7"/><circle cx="359.7" cy="234.1"/><circle cx="124.4" cy="298.0"/><circle cx="260.1" cy="189.1"/><circle cx="390.2" cy="169.0"/><circle cx="252.5" cy="171.4"/><circle cx="197.9" cy="199.7"/><circle cx="259.0" cy="182.6"/><circle cx="236.3" cy="176.9"/><circle cx="160.5" cy="244.6"/><circle cx="253.8" cy="172.1"/><circle cx="370.6" cy="253.6"/><circle cx="349.2" cy="168.2"/><circle cx="361.6" cy="182.6"/><circle cx="381.1" cy="308.3"/><circle cx="350.3" cy="264.3"/><circle cx="303.6" cy="165.9"/><circle cx="356.9" cy="268.4"/><circle cx="333.9" cy="208.3"/><circle cx="366.7" cy="255.1"/><circle cx="366.4" cy="166.4"/><circle cx="347.6" cy="246.8"/><circle cx="352.0" cy="184.4"/><circle cx="373.9" cy="264.3"/><circle cx="230.6" cy="340.2"/><circle cx="300.4" cy="152.2"/><circle cx="296.5" cy="186.5"/><circle cx="339.5" cy="196.7"/><circle cx="326.5" cy="189.6"/><circle cx="367.7" cy="268.8"/><circle cx="271.7" cy="337.9"/><circle cx="337.2" cy="330.4"/><circle cx="224.0" cy="193.7"/><circle cx="353.6" cy="284.9"/><circle cx="294.2" cy="145.0"/><circle cx="253.2" cy="191.0"/><circle cx="344.4" cy="326.4"/><circle cx="367.9" cy="279.1"/><circle cx="321.5" cy="131.2"/><circle cx="141.4" cy="275.3"/><circle cx="356.7" cy="250.4"/><circle cx="166.7" cy="346.8"/><circle cx="390.0" cy="154.0"/><circle cx="254.8" cy="166.9"/><circle cx="224.3" cy="170.8"/><circle cx="202.1" cy="199.6"/><circle cx="301.4" cy="335.7"/><circle cx="310.2" cy="154.6"/><circle cx="233.2" cy="171.7"/><circle cx="273.0" cy="165.6"/><circle cx="323.5" cy="170.0"/><circle cx="304.6" cy="339.7"/><circle cx="370.6" cy="256.5"/><circle cx="339.0" cy="327.1"/><circle cx="253.9" cy="183.6"/><circle cx="346.8" cy="249.8"/><circle cx="252.0" cy="158.3"/><circle cx="341.3" cy="188.5"/><circle cx="357.9" cy="269.2"/><circle cx="289.5" cy="151.7"/><circle cx="300.9" cy="172.4"/><circle cx="302.9" cy="339.8"/><circle cx="314.9" cy="338.7"/><circle cx="359.9" cy="303.5"/><circle cx="229.0" cy="343.0"/><circle cx="375.1" cy="177.7"/><circle cx="260.0" cy="168.7"/><circle cx="211.7" cy="172.9"/><circle cx="347.1" cy="310.8"/><circle cx="333.7" cy="139.6"/><circle cx="330.6" cy="126.8"/><circle cx="224.8" cy="187.3"/><circle cx="279.3" cy="173.8"/><circle cx="276.7" cy="188.5"/><circle cx="359.4" cy="284.0"/><circle cx="352.4" cy="315.7"/><circle cx="321.1" cy="323.5"/><circle cx="337.3" cy="227.8"/><circle cx="279.8" cy="151.7"/><circle cx="188.9" cy="209.0"/><circle cx="383.4" cy="243.1"/><circle cx="160.9" cy="229.4"/><circle cx="166.9" cy="235.8"/><circle cx="208.0" cy="191.8"/><circle cx="289.5" cy="165.8"/><circle cx="303.7" cy="337.5"/><circle cx="191.5" cy="201.0"/><circle cx="178.6" cy="211.4"/><circle cx="361.1" cy="154.2"/><circle cx="139.1" cy="278.8"/><circle cx="186.7" cy="347.8"/><circle cx="326.6" cy="179.9"/><circle cx="387.9" cy="253.9"/><circle cx="219.5" cy="343.9"/><circle cx="349.2" cy="313.6"/><circle cx="291.2" cy="183.4"/><circle cx="332.5" cy="181.5"/><circle cx="346.3" cy="307.3"/><circle cx="326.0" cy="217.1"/><circle cx="309.2" cy="179.9"/><circle cx="352.7" cy="123.5"/><circle cx="235.4" cy="173.0"/><circle cx="254.1" cy="155.3"/><circle cx="179.4" cy="224.6"/><circle cx="369.9" cy="261.7"/><circle cx="367.4" cy="135.1"/><circle cx="347.7" cy="329.6"/><circle cx="348.8" cy="196.8"/><circle cx="372.3" cy="258.6"/><circle cx="284.3" cy="161.8"/><circle cx="170.3" cy="221.5"/><circle cx="380.2" cy="213.9"/><circle cx="292.3" cy="191.8"/><circle cx="373.8" cy="270.9"/><circle cx="340.5" cy="195.1"/><circle cx="282.0" cy="177.8"/><circle cx="356.7" cy="293.1"/><circle cx="395.1" cy="262.8"/><circle cx="365.6" cy="299.8"/><circle cx="189.7" cy="344.5"/><circle cx="119.9" cy="341.9"/><circle cx="388.8" cy="148.8"/><circle cx="263.7" cy="145.2"/><circle cx="307.4" cy="184.4"/><circle cx="232.6" cy="165.5"/><circle cx="355.7" cy="297.3"/><circle cx="239.8" cy="196.3"/><circle cx="275.4" cy="171.2"/><circle cx="180.0" cy="224.1"/><circle cx="311.3" cy="165.7"/><circle cx="362.7" cy="308.3"/><circle cx="372.4" cy="250.3"/><circle cx="272.5" cy="195.3"/><circle cx="182.6" cy="343.7"/><circle cx="307.6" cy="166.5"/><circle cx="278.8" cy="193.2"/><circle cx="335.2" cy="240.7"/><circle cx="292.0" cy="169.3"/><circle cx="293.6" cy="192.8"/><circle cx="167.0" cy="231.6"/><circle cx="355.0" cy="302.6"/><circle cx="277.7" cy="167.8"/><circle cx="337.4" cy="163.6"/><circle cx="210.5" cy="191.6"/><circle cx="336.3" cy="234.5"/><circle cx="371.0" cy="309.1"/><circle cx="386.1" cy="273.2"/><circle cx="225.9" cy="192.9"/><circle cx="289.9" cy="180.9"/><circle cx="299.8" cy="170.8"/><circle cx="233.1" cy="203.7"/><circle cx="377.0" cy="220.6"/><circle cx="367.1" cy="285.9"/><circle cx="374.5" cy="261.7"/><circle cx="218.4" cy="341.9"/><circle cx="265.4" cy="192.0"/><circle cx="295.5" cy="149.7"/><circle cx="122.1" cy="342.1"/><circle cx="246.2" cy="173.9"/><circle cx="387.4" cy="299.9"/><circle cx="370.9" cy="272.0"/><circle cx="352.5" cy="264.3"/><circle cx="139.7" cy="273.3"/><circle cx="191.0" cy="204.8"/><circle cx="350.6" cy="317.9"/><circle cx="351.5" cy="269.2"/><circle cx="295.0" cy="191.7"/><circle cx="219.1" cy="341.4"/><circle cx="333.8" cy="140.2"/><circle cx="274.6" cy="185.5"/><circle cx="393.6" cy="268.6"/><circle cx="315.8" cy="164.4"/><circle cx="140.6" cy="276.8"/><circle cx="254.3" cy="161.7"/><circle cx="322.6" cy="172.7"/><circle cx="325.3" cy="151.3"/><circle cx="232.2" cy="162.5"/><circle cx="282.8" cy="338.5"/><circle cx="329.7" cy="169.9"/><circle cx="273.6" cy="191.1"/><circle cx="202.5" cy="198.5"/><circle cx="234.8" cy="186.8"/><circle cx="336.7" cy="205.7"/><circle cx="304.3" cy="175.8"/><circle cx="380.7" cy="224.4"/><circle cx="343.1" cy="248.9"/><circle cx="350.3" cy="231.0"/><circle cx="241.6" cy="183.6"/><circle cx="363.2" cy="305.9"/><circle cx="101.9" cy="335.7"/><circle cx="383.5" cy="274.7"/><circle cx="201.4" cy="196.5"/><circle cx="177.9" cy="344.0"/><circle cx="348.8" cy="318.2"/><circle cx="368.3" cy="258.0"/><circle cx="299.1" cy="163.7"/><circle cx="298.4" cy="178.9"/><circle cx="197.4" cy="343.7"/><circle cx="249.8" cy="175.6"/><circle cx="306.8" cy="127.9"/><circle cx="360.8" cy="162.4"/><circle cx="253.0" cy="186.6"/><circle cx="273.8" cy="189.1"/><circle cx="358.9" cy="247.4"/><circle cx="352.4" cy="286.1"/><circle cx="136.1" cy="285.4"/><circle cx="366.1" cy="241.9"/><circle cx="392.0" cy="277.4"/><circle cx="158.7" cy="341.8"/><circle cx="244.0" cy="163.0"/><circle cx="154.4" cy="343.7"/><circle cx="102.6" cy="322.2"/><circle cx="259.1" cy="168.3"/><circle cx="346.5" cy="289.4"/><circle cx="335.0" cy="234.2"/><circle cx="344.5" cy="251.4"/><circle cx="295.0" cy="179.2"/><circle cx="333.9" cy="170.2"/><circle cx="183.9" cy="215.5"/><circle cx="229.4" cy="179.7"/><circle cx="213.5" cy="196.1"/><circle cx="208.2" cy="194.5"/><circle cx="342.3" cy="187.1"/><circle cx="251.4" cy="197.4"/><circle cx="331.0" cy="215.9"/><circle cx="236.7" cy="187.7"/><circle cx="330.0" cy="179.8"/><circle cx="366.6" cy="220.2"/><circle cx="310.8" cy="123.3"/><circle cx="133.0" cy="347.4"/><circle cx="249.5" cy="199.0"/><circle cx="341.1" cy="209.1"/><circle cx="142.6" cy="344.8"/><circle cx="235.5" cy="161.3"/><circle cx="281.7" cy="165.3"/><circle cx="358.6" cy="271.9"/><circle cx="279.6" cy="153.0"/><circle cx="302.0" cy="186.9"/><circle cx="232.2" cy="168.4"/><circle cx="197.7" cy="341.9"/><circle cx="328.3" cy="323.3"/><circle cx="208.4" cy="192.8"/><circle cx="234.4" cy="191.6"/><circle cx="249.9" cy="198.1"/><circle cx="101.6" cy="318.1"/><circle cx="275.5" cy="159.9"/><circle cx="336.8" cy="210.2"/><circle cx="254.7" cy="199.8"/><circle cx="108.7" cy="339.1"/><circle cx="353.5" cy="307.4"/><circle cx="244.2" cy="180.4"/><circle cx="327.3" cy="147.3"/><circle cx="368.0" cy="270.7"/><circle cx="355.9" cy="257.0"/><circle cx="275.7" cy="184.3"/><circle cx="155.8" cy="257.8"/><circle cx="284.4" cy="160.9"/><circle cx="147.3" cy="342.7"/><circle cx="224.9" cy="179.1"/><circle cx="338.9" cy="303.4"/><circle cx="335.2" cy="232.5"/><circle cx="356.7" cy="247.1"/><circle cx="340.1" cy="122.9"/><circle cx="273.8" cy="181.6"/><circle cx="126.2" cy="344.7"/><circle cx="332.6" cy="235.6"/><circle cx="360.6" cy="272.6"/><circle cx="343.8" cy="253.5"/><circle cx="287.5" cy="174.3"/><circle cx="379.9" cy="251.0"/><circle cx="354.9" cy="173.5"/><circle cx="126.8" cy="340.2"/><circle cx="304.8" cy="182.2"/><circle cx="259.1" cy="189.1"/><circle cx="157.9" cy="347.3"/><circle cx="97.3" cy="323.0"/><circle cx="129.8" cy="345.0"/><circle cx="287.8" cy="340.2"/><circle cx="305.3" cy="151.8"/><circle cx="162.4" cy="244.5"/><circle cx="220.7" cy="346.6"/><circle cx="396.7" cy="255.7"/><circle cx="288.6" cy="132.8"/><circle cx="337.9" cy="191.7"/><circle cx="372.6" cy="149.2"/><circle cx="366.0" cy="262.2"/><circle cx="280.3" cy="179.6"/><circle cx="99.9" cy="338.5"/><circle cx="156.2" cy="251.7"/><circle cx="166.3" cy="346.8"/><circle cx="309.2" cy="340.4"/><circle cx="98.1" cy="324.4"/><circle cx="389.1" cy="277.1"/><circle cx="300.8" cy="144.8"/><circle cx="362.8" cy="232.6"/><circle cx="362.7" cy="241.4"/><circle cx="161.4" cy="341.2"/><circle cx="358.5" cy="182.3"/><circle cx="318.1" cy="131.8"/><circle cx="353.1" cy="159.7"/><circle cx="112.1" cy="313.0"/><circle cx="338.7" cy="305.9"/><circle cx="211.1" cy="158.0"/><circle cx="328.2" cy="188.6"/><circle cx="327.9" cy="175.3"/><circle cx="405.9" cy="275.1"/><circle cx="266.6" cy="338.9"/><circle cx="280.6" cy="165.0"/><circle cx="94.1" cy="333.9"/><circle cx="195.3" cy="343.3"/><circle cx="349.1" cy="285.3"/><circle cx="363.2" cy="250.8"/><circle cx="318.6" cy="339.6"/><circle cx="338.4" cy="316.1"/><circle cx="209.7" cy="342.1"/><circle cx="312.3" cy="338.8"/><circle cx="356.5" cy="232.2"/><circle cx="253.2" cy="201.3"/><circle cx="336.3" cy="133.9"/><circle cx="269.8" cy="158.3"/><circle cx="349.4" cy="294.7"/><circle cx="375.9" cy="214.7"/><circle cx="341.0" cy="242.1"/><circle cx="348.5" cy="228.0"/><circle cx="287.6" cy="191.5"/><circle cx="387.3" cy="182.9"/><circle cx="131.3" cy="294.0"/><circle cx="344.9" cy="197.9"/><circle cx="302.1" cy="189.3"/><circle cx="241.5" cy="178.5"/><circle cx="331.9" cy="336.1"/><circle cx="241.3" cy="182.7"/><circle cx="321.2" cy="188.5"/><circle cx="285.8" cy="167.2"/><circle cx="375.5" cy="258.3"/><circle cx="369.9" cy="140.8"/><circle cx="152.9" cy="263.6"/><circle cx="239.9" cy="165.3"/><circle cx="394.0" cy="244.9"/><circle cx="371.1" cy="256.4"/><circle cx="391.1" cy="155.1"/><circle cx="314.5" cy="165.5"/><circle cx="334.9" cy="195.0"/><circle cx="233.6" cy="196.0"/><circle cx="301.4" cy="339.4"/><circle cx="356.5" cy="230.2"/><circle cx="272.2" cy="186.7"/><circle cx="342.1" cy="299.4"/><circle cx="365.4" cy="211.6"/><circle cx="271.9" cy="194.3"/><circle cx="254.6" cy="190.5"/><circle cx="274.8" cy="181.9"/><circle cx="355.8" cy="329.8"/><circle cx="299.4" cy="126.4"/><circle cx="143.8" cy="346.4"/><circle cx="267.3" cy="170.8"/><circle cx="356.5" cy="282.1"/><circle cx="238.3" cy="180.2"/><circle cx="213.7" cy="175.2"/><circle cx="377.1" cy="226.9"/><circle cx="328.2" cy="148.3"/><circle cx="287.6" cy="166.7"/><circle cx="280.1" cy="193.2"/><circle cx="358.7" cy="254.0"/><circle cx="271.9" cy="158.8"/><circle cx="350.7" cy="243.8"/><circle cx="341.4" cy="301.6"/><circle cx="268.2" cy="193.7"/><circle cx="170.6" cy="232.7"/><circle cx="265.2" cy="196.2"/><circle cx="103.3" cy="324.9"/><circle cx="361.8" cy="198.2"/><circle cx="241.7" cy="160.1"/><circle cx="352.1" cy="200.0"/><circle cx="367.1" cy="156.8"/><circle cx="372.7" cy="205.2"/><circle cx="385.3" cy="279.8"/><circle cx="180.4" cy="343.6"/><circle cx="273.0" cy="171.9"/><circle cx="379.2" cy="303.3"/><circle cx="371.9" cy="273.9"/><circle cx="394.7" cy="208.9"/><circle cx="251.4" cy="188.1"/><circle cx="244.8" cy="192.0"/><circle cx="205.8" cy="192.5"/><circle cx="340.4" cy="304.4"/><circle cx="156.6" cy="249.1"/><circle cx="186.4" cy="213.8"/><circle cx="174.0" cy="228.3"/><circle cx="390.2" cy="244.4"/><circle cx="340.3" cy="234.1"/><circle cx="339.3" cy="330.9"/><circle cx="228.0" cy="196.7"/><circle cx="226.6" cy="199.6"/><circle cx="390.7" cy="164.8"/><circle cx="370.1" cy="260.1"/><circle cx="379.2" cy="261.2"/><circle cx="333.1" cy="332.3"/><circle cx="193.7" cy="346.8"/><circle cx="311.9" cy="166.0"/><circle cx="253.9" cy="340.5"/><circle cx="328.4" cy="332.0"/><circle cx="175.9" cy="228.9"/><circle cx="335.0" cy="197.4"/><circle cx="318.2" cy="166.9"/><circle cx="233.6" cy="144.0"/><circle cx="359.4" cy="308.5"/><circle cx="296.9" cy="338.4"/><circle cx="213.6" cy="190.4"/><circle cx="296.1" cy="187.2"/><circle cx="149.0" cy="249.4"/><circle cx="178.8" cy="342.0"/><circle cx="332.8" cy="209.0"/><circle cx="321.5" cy="325.7"/><circle cx="344.7" cy="225.4"/><circle cx="335.5" cy="191.6"/><circle cx="311.8" cy="183.3"/><circle cx="267.5" cy="196.4"/><circle cx="266.0" cy="187.8"/><circle cx="237.4" cy="344.8"/><circle cx="337.4" cy="220.1"/><circle cx="122.3" cy="293.9"/><circle cx="196.0" cy="344.7"/><circle cx="121.4" cy="295.6"/><circle cx="322.4" cy="189.7"/><circle cx="355.0" cy="308.7"/><circle cx="353.5" cy="151.8"/><circle cx="233.8" cy="202.3"/><circle cx="269.6" cy="177.8"/><circle cx="307.2" cy="155.0"/><circle cx="357.4" cy="146.1"/><circle cx="290.1" cy="179.8"/><circle cx="375.2" cy="158.1"/><circle cx="311.3" cy="168.7"/><circle cx="159.4" cy="243.7"/><circle cx="336.2" cy="306.6"/><circle cx="373.3" cy="244.6"/><circle cx="371.8" cy="276.2"/><circle cx="225.6" cy="180.1"/><circle cx="381.0" cy="251.0"/><circle cx="162.7" cy="346.5"/><circle cx="337.2" cy="206.5"/><circle cx="96.5" cy="324.8"/><circle cx="118.2" cy="340.1"/><circle cx="278.2" cy="192.3"/><circle cx="157.1" cy="248.0"/><circle cx="343.0" cy="235.7"/><circle cx="264.7" cy="341.5"/><circle cx="219.5" cy="190.0"/><circle cx="328.4" cy="191.6"/><circle cx="384.6" cy="296.9"/><circle cx="285.7" cy="338.7"/><circle cx="331.5" cy="171.2"/><circle cx="348.8" cy="294.8"/><circle cx="211.8" cy="343.3"/><circle cx="314.8" cy="155.8"/><circle cx="333.5" cy="232.3"/><circle cx="132.1" cy="285.4"/><circle cx="345.1" cy="256.9"/><circle cx="223.4" cy="179.0"/><circle cx="209.7" cy="181.4"/><circle cx="321.3" cy="131.5"/><circle cx="358.2" cy="196.4"/><circle cx="348.1" cy="172.4"/><circle cx="233.0" cy="187.4"/><circle cx="385.0" cy="295.4"/><circle cx="324.7" cy="340.1"/><circle cx="354.6" cy="280.1"/><circle cx="356.4" cy="150.2"/><circle cx="247.9" cy="344.7"/><circle cx="295.3" cy="150.7"/><circle cx="219.8" cy="183.7"/><circle cx="324.0" cy="158.6"/><circle cx="266.2" cy="181.1"/><circle cx="375.3" cy="250.0"/><circle cx="369.5" cy="246.9"/><circle cx="97.6" cy="336.6"/><circle cx="252.4" cy="341.6"/><circle cx="388.3" cy="286.0"/><circle cx="330.8" cy="181.5"/><circle cx="240.4" cy="184.0"/><circle cx="397.6" cy="280.2"/><circle cx="325.4" cy="330.1"/><circle cx="329.9" cy="194.1"/><circle cx="252.0" cy="181.3"/><circle cx="340.4" cy="234.8"/><circle cx="371.8" cy="205.5"/><circle cx="339.0" cy="143.0"/><circle cx="371.8" cy="221.7"/><circle cx="264.7" cy="172.8"/><circle cx="357.8" cy="286.3"/><circle cx="209.3" cy="201.4"/><circle cx="240.1" cy="189.1"/><circle cx="372.7" cy="236.1"/><circle cx="260.2" cy="191.6"/><circle cx="367.5" cy="258.1"/><circle cx="249.7" cy="198.7"/><circle cx="299.0" cy="133.7"/><circle cx="239.4" cy="174.7"/><circle cx="152.3" cy="259.5"/><circle cx="326.5" cy="332.8"/><circle cx="194.2" cy="347.4"/><circle cx="349.0" cy="243.2"/><circle cx="358.2" cy="271.0"/><circle cx="314.9" cy="161.0"/><circle cx="349.0" cy="144.9"/><circle cx="331.7" cy="203.2"/><circle cx="307.8" cy="177.3"/><circle cx="275.9" cy="183.2"/><circle cx="306.7" cy="164.2"/><circle cx="261.9" cy="166.6"/><circle cx="295.4" cy="169.5"/><circle cx="382.2" cy="276.0"/><circle cx="349.4" cy="313.0"/><circle cx="342.2" cy="245.0"/><circle cx="286.4" cy="194.3"/><circle cx="336.6" cy="226.1"/><circle cx="135.3" cy="279.1"/><circle cx="265.9" cy="180.8"/><circle cx="360.1" cy="250.1"/><circle cx="92.2" cy="333.8"/><circle cx="307.2" cy="337.5"/><circle cx="228.2" cy="168.2"/><circle cx="332.7" cy="192.7"/><circle cx="359.4" cy="244.7"/><circle cx="375.4" cy="250.1"/><circle cx="129.9" cy="295.8"/><circle cx="355.9" cy="261.8"/><circle cx="134.2" cy="287.7"/><circle cx="374.7" cy="281.3"/><circle cx="190.7" cy="211.7"/><circle cx="363.5" cy="287.1"/><circle cx="197.6" cy="201.2"/><circle cx="350.5" cy="301.1"/><circle cx="315.9" cy="335.0"/><circle cx="138.9" cy="277.3"/><circle cx="174.1" cy="225.9"/><circle cx="284.0" cy="172.2"/><circle cx="225.4" cy="197.8"/><circle cx="291.4" cy="340.7"/><circle cx="366.4" cy="266.0"/><circle cx="187.0" cy="346.0"/><circle cx="341.9" cy="307.4"/><circle cx="340.7" cy="312.6"/><circle cx="221.7" cy="180.4"/><circle cx="333.0" cy="179.8"/><circle cx="133.3" cy="287.9"/><circle cx="236.3" cy="196.3"/><circle cx="361.9" cy="190.0"/><circle cx="339.2" cy="327.9"/><circle cx="249.0" cy="197.9"/><circle cx="384.1" cy="266.8"/><circle cx="345.9" cy="250.2"/><circle cx="247.8" cy="344.9"/><circle cx="329.7" cy="168.4"/><circle cx="214.0" cy="174.8"/><circle cx="373.4" cy="309.6"/><circle cx="282.7" cy="338.0"/><circle cx="288.9" cy="176.7"/><circle cx="302.3" cy="340.6"/><circle cx="192.7" cy="342.0"/><circle cx="292.3" cy="151.4"/><circle cx="340.4" cy="222.8"/><circle cx="102.0" cy="341.1"/><circle cx="338.4" cy="216.3"/><circle cx="258.3" cy="342.0"/><circle cx="344.8" cy="312.2"/><circle cx="297.1" cy="139.3"/><circle cx="298.4" cy="179.2"/><circle cx="352.4" cy="246.3"/><circle cx="109.9" cy="339.0"/><circle cx="126.1" cy="300.1"/><circle cx="340.7" cy="221.9"/><circle cx="201.2" cy="348.1"/><circle cx="378.9" cy="267.2"/><circle cx="130.9" cy="292.9"/><circle cx="354.7" cy="262.9"/><circle cx="350.3" cy="289.6"/><circle cx="249.3" cy="194.0"/><circle cx="284.8" cy="185.0"/><circle cx="340.6" cy="159.6"/><circle cx="302.6" cy="185.8"/><circle cx="398.0" cy="224.1"/><circle cx="327.1" cy="198.4"/><circle cx="356.8" cy="167.5"/><circle cx="354.4" cy="146.1"/><circle cx="181.5" cy="216.3"/><circle cx="325.1" cy="140.4"/><circle cx="341.9" cy="316.5"/><circle cx="346.7" cy="216.1"/><circle cx="128.9" cy="287.0"/><circle cx="350.8" cy="246.0"/><circle cx="314.0" cy="177.6"/><circle cx="356.7" cy="159.7"/><circle cx="364.8" cy="290.6"/><circle cx="321.8" cy="325.3"/><circle cx="332.4" cy="175.1"/><circle cx="178.0" cy="343.9"/><circle cx="337.5" cy="320.8"/><circle cx="406.5" cy="240.0"/><circle cx="346.4" cy="311.1"/><circle cx="211.1" cy="178.9"/><circle cx="316.2" cy="173.9"/><circle cx="227.8" cy="188.3"/><circle cx="360.5" cy="297.8"/><circle cx="101.5" cy="326.1"/><circle cx="217.7" cy="185.9"/><circle cx="350.0" cy="318.5"/><circle cx="373.4" cy="305.1"/><circle cx="368.0" cy="296.9"/><circle cx="222.1" cy="345.7"/><circle cx="362.5" cy="235.9"/><circle cx="284.7" cy="148.3"/><circle cx="378.1" cy="224.7"/><circle cx="145.2" cy="271.3"/><circle cx="230.7" cy="172.3"/><circle cx="369.8" cy="300.7"/><circle cx="366.0" cy="160.9"/><circle cx="303.0" cy="181.0"/><circle cx="106.5" cy="343.2"/><circle cx="272.0" cy="177.0"/><circle cx="179.4" cy="217.8"/><circle cx="276.8" cy="180.0"/><circle cx="297.3" cy="169.0"/><circle cx="115.7" cy="348.0"/><circle cx="110.6" cy="339.1"/><circle cx="289.9" cy="179.6"/><circle cx="363.8" cy="287.9"/><circle cx="330.5" cy="144.1"/><circle cx="373.8" cy="200.9"/><circle cx="306.9" cy="139.4"/><circle cx="293.7" cy="160.0"/><circle cx="345.4" cy="234.4"/><circle cx="285.2" cy="171.3"/><circle cx="310.1" cy="164.4"/><circle cx="339.9" cy="226.8"/><circle cx="335.2" cy="216.9"/><circle cx="209.6" cy="192.0"/><circle cx="247.4" cy="186.0"/><circle cx="344.1" cy="291.4"/><circle cx="155.2" cy="260.3"/><circle cx="337.9" cy="233.5"/><circle cx="330.9" cy="199.5"/><circle cx="309.9" cy="174.2"/><circle cx="238.0" cy="156.3"/><circle cx="244.2" cy="187.3"/><circle cx="315.8" cy="110.5"/><circle cx="124.7" cy="296.7"/><circle cx="289.9" cy="171.5"/><circle cx="351.0" cy="288.0"/><circle cx="338.0" cy="191.8"/><circle cx="340.8" cy="238.5"/><circle cx="203.7" cy="190.2"/><circle cx="321.0" cy="163.0"/><circle cx="225.5" cy="161.1"/><circle cx="373.7" cy="200.7"/><circle cx="196.9" cy="202.3"/><circle cx="349.8" cy="289.9"/><circle cx="136.7" cy="267.2"/><circle cx="261.4" cy="193.3"/><circle cx="178.6" cy="220.2"/><circle cx="331.6" cy="206.0"/><circle cx="370.4" cy="286.4"/><circle cx="349.5" cy="150.2"/><circle cx="380.9" cy="198.7"/><circle cx="378.1" cy="277.1"/><circle cx="295.7" cy="179.4"/><circle cx="364.5" cy="206.8"/><circle cx="330.7" cy="217.5"/><circle cx="143.2" cy="272.4"/><circle cx="371.5" cy="190.1"/><circle cx="200.7" cy="196.7"/><circle cx="362.1" cy="166.0"/><circle cx="376.6" cy="200.8"/><circle cx="288.0" cy="338.0"/><circle cx="160.8" cy="246.6"/><circle cx="216.2" cy="191.7"/><circle cx="333.9" cy="333.1"/><circle cx="171.3" cy="226.9"/><circle cx="124.1" cy="339.7"/><circle cx="327.4" cy="212.0"/><circle cx="297.7" cy="162.0"/><circle cx="259.5" cy="181.8"/><circle cx="161.4" cy="241.3"/><circle cx="247.6" cy="185.3"/><circle cx="325.7" cy="177.3"/><circle cx="377.1" cy="232.0"/><circle cx="349.7" cy="257.4"/><circle cx="309.5" cy="177.6"/><circle cx="362.9" cy="203.4"/><circle cx="382.0" cy="234.7"/><circle cx="373.2" cy="251.4"/><circle cx="255.0" cy="346.4"/><circle cx="151.6" cy="259.5"/><circle cx="305.0" cy="164.9"/><circle cx="301.1" cy="165.7"/><circle cx="332.7" cy="204.3"/><circle cx="297.6" cy="171.5"/><circle cx="318.1" cy="165.0"/><circle cx="117.6" cy="302.5"/><circle cx="140.6" cy="343.8"/><circle cx="264.0" cy="154.6"/><circle cx="361.5" cy="308.6"/><circle cx="320.8" cy="325.1"/><circle cx="369.7" cy="276.1"/><circle cx="238.4" cy="341.7"/><circle cx="272.3" cy="342.2"/><circle cx="242.5" cy="343.0"/><circle cx="301.8" cy="187.6"/><circle cx="304.4" cy="341.0"/><circle cx="346.6" cy="245.0"/><circle cx="359.9" cy="216.7"/><circle cx="329.5" cy="168.1"/><circle cx="302.7" cy="128.0"/><circle cx="274.9" cy="196.3"/><circle cx="340.5" cy="318.6"/><circle cx="375.2" cy="298.5"/><circle cx="211.5" cy="199.6"/><circle cx="333.7" cy="192.7"/><circle cx="198.8" cy="199.1"/><circle cx="305.1" cy="155.6"/><circle cx="345.7" cy="287.3"/><circle cx="246.7" cy="203.0"/><circle cx="249.1" cy="194.7"/><circle cx="271.6" cy="188.5"/><circle cx="348.1" cy="163.6"/><circle cx="341.6" cy="306.9"/><circle cx="347.5" cy="195.9"/><circle cx="311.6" cy="179.9"/><circle cx="222.9" cy="185.2"/><circle cx="344.0" cy="207.3"/><circle cx="381.7" cy="217.9"/><circle cx="218.0" cy="345.2"/><circle cx="270.1" cy="165.9"/><circle cx="349.4" cy="283.5"/><circle cx="279.3" cy="182.2"/><circle cx="364.6" cy="250.5"/><circle cx="358.9" cy="288.4"/><circle cx="333.3" cy="236.5"/><circle cx="153.0" cy="344.1"/><circle cx="395.6" cy="143.1"/><circle cx="283.1" cy="156.1"/><circle cx="103.4" cy="338.8"/><circle cx="322.1" cy="179.8"/><circle cx="210.3" cy="344.4"/><circle cx="154.6" cy="259.7"/><circle cx="343.3" cy="202.6"/><circle cx="172.5" cy="342.0"/><circle cx="207.8" cy="195.3"/><circle cx="211.5" cy="196.1"/><circle cx="232.1" cy="344.8"/><circle cx="331.0" cy="336.2"/><circle cx="346.8" cy="249.7"/><circle cx="353.0" cy="287.7"/><circle cx="342.0" cy="323.5"/><circle cx="246.7" cy="341.5"/><circle cx="340.9" cy="322.1"/><circle cx="242.2" cy="158.8"/><circle cx="319.9" cy="332.2"/><circle cx="95.0" cy="334.5"/><circle cx="228.5" cy="198.1"/><circle cx="342.4" cy="192.1"/><circle cx="363.5" cy="240.1"/><circle cx="332.5" cy="189.3"/><circle cx="364.8" cy="268.8"/><circle cx="318.5" cy="176.0"/><circle cx="330.0" cy="187.1"/><circle cx="369.1" cy="251.4"/><circle cx="331.1" cy="184.3"/><circle cx="329.6" cy="231.8"/><circle cx="198.5" cy="343.6"/><circle cx="223.4" cy="346.4"/><circle cx="316.8" cy="143.7"/><circle cx="273.0" cy="186.2"/><circle cx="244.1" cy="182.0"/><circle cx="291.1" cy="177.0"/><circle cx="183.2" cy="346.6"/><circle cx="335.1" cy="187.2"/><circle cx="223.8" cy="203.2"/><circle cx="339.7" cy="196.4"/><circle cx="333.7" cy="202.1"/><circle cx="346.1" cy="326.0"/><circle cx="382.4" cy="255.1"/><circle cx="231.8" cy="199.0"/><circle cx="336.4" cy="198.9"/><circle cx="338.3" cy="231.8"/><circle cx="348.8" cy="231.9"/><circle cx="258.6" cy="195.8"/><circle cx="341.2" cy="144.1"/><circle cx="100.1" cy="339.8"/><circle cx="114.9" cy="342.2"/><circle cx="324.7" cy="161.8"/><circle cx="247.2" cy="177.8"/><circle cx="231.2" cy="180.4"/><circle cx="173.7" cy="229.8"/><circle cx="313.2" cy="139.9"/><circle cx="349.3" cy="115.4"/><circle cx="257.0" cy="199.9"/><circle cx="384.6" cy="269.9"/><circle cx="143.6" cy="346.4"/><circle cx="316.5" cy="143.3"/><circle cx="192.2" cy="210.8"/><circle cx="359.4" cy="287.4"/><circle cx="290.0" cy="340.3"/><circle cx="297.3" cy="184.1"/><circle cx="233.8" cy="160.1"/><circle cx="346.7" cy="301.0"/><circle cx="185.1" cy="210.5"/><circle cx="330.0" cy="323.3"/><circle cx="297.8" cy="132.7"/><circle cx="127.2" cy="284.9"/><circle cx="279.8" cy="342.4"/><circle cx="298.3" cy="186.9"/><circle cx="238.0" cy="202.3"/><circle cx="391.9" cy="177.1"/><circle cx="292.6" cy="181.8"/><circle cx="298.5" cy="180.7"/><circle cx="298.9" cy="342.1"/><circle cx="353.0" cy="180.8"/><circle cx="287.5" cy="147.2"/><circle cx="208.8" cy="201.9"/><circle cx="130.4" cy="341.9"/><circle cx="153.6" cy="344.9"/><circle cx="169.4" cy="346.2"/><circle cx="99.8" cy="321.6"/><circle cx="288.9" cy="177.1"/><circle cx="378.3" cy="278.7"/><circle cx="359.5" cy="293.9"/><circle cx="337.6" cy="307.7"/><circle cx="146.0" cy="267.5"/><circle cx="333.1" cy="181.4"/><circle cx="326.5" cy="200.0"/><circle cx="229.3" cy="196.7"/><circle cx="292.3" cy="181.9"/><circle cx="330.6" cy="201.2"/><circle cx="225.8" cy="193.8"/><circle cx="285.0" cy="164.1"/><circle cx="391.5" cy="243.6"/><circle cx="197.5" cy="342.5"/><circle cx="320.6" cy="152.2"/><circle cx="259.4" cy="190.8"/><circle cx="399.5" cy="219.2"/><circle cx="316.7" cy="168.5"/><circle cx="330.2" cy="220.8"/><circle cx="320.9" cy="335.7"/><circle cx="338.1" cy="218.2"/><circle cx="235.9" cy="190.8"/><circle cx="252.8" cy="340.3"/><circle cx="147.1" cy="275.0"/><circle cx="109.4" cy="308.9"/><circle cx="317.6" cy="156.7"/><circle cx="350.2" cy="272.9"/><circle cx="162.0" cy="239.7"/><circle cx="385.3" cy="255.0"/><circle cx="351.0" cy="316.0"/><circle cx="354.2" cy="291.6"/><circle cx="334.6" cy="167.3"/><circle cx="325.1" cy="337.8"/><circle cx="106.3" cy="339.2"/><circle cx="359.7" cy="243.5"/><circle cx="229.5" cy="346.2"/><circle cx="329.1" cy="342.8"/><circle cx="363.4" cy="210.4"/><circle cx="145.4" cy="342.9"/><circle cx="384.3" cy="288.9"/><circle cx="387.7" cy="251.5"/><circle cx="294.4" cy="165.7"/><circle cx="285.3" cy="193.2"/><circle cx="208.6" cy="180.3"/><circle cx="303.7" cy="167.7"/><circle cx="334.9" cy="197.5"/><circle cx="254.0" cy="180.1"/><circle cx="340.7" cy="207.7"/><circle cx="250.6" cy="191.2"/><circle cx="230.5" cy="197.7"/><circle cx="334.3" cy="203.2"/><circle cx="146.5" cy="266.1"/><circle cx="311.1" cy="158.7"/><circle cx="204.6" cy="192.4"/><circle cx="353.6" cy="222.2"/><circle cx="277.6" cy="183.5"/><circle cx="354.2" cy="196.6"/><circle cx="343.7" cy="328.4"/><circle cx="143.3" cy="343.9"/><circle cx="207.0" cy="344.8"/><circle cx="321.0" cy="127.3"/><circle cx="381.1" cy="258.8"/><circle cx="366.3" cy="241.6"/><circle cx="360.4" cy="299.3"/><circle cx="151.7" cy="345.5"/><circle cx="302.4" cy="187.6"/><circle cx="326.8" cy="335.9"/><circle cx="368.0" cy="261.1"/><circle cx="346.9" cy="292.9"/><circle cx="356.2" cy="301.3"/><circle cx="239.9" cy="340.8"/><circle cx="398.8" cy="246.8"/><circle cx="361.1" cy="311.2"/><circle cx="354.6" cy="234.4"/><circle cx="153.7" cy="263.5"/><circle cx="313.8" cy="177.7"/><circle cx="225.4" cy="187.5"/><circle cx="389.0" cy="210.4"/><circle cx="277.3" cy="340.4"/><circle cx="333.0" cy="184.1"/><circle cx="361.4" cy="273.0"/><circle cx="235.5" cy="163.9"/><circle cx="260.5" cy="185.0"/><circle cx="288.2" cy="182.0"/><circle cx="164.9" cy="238.1"/><circle cx="219.5" cy="187.3"/><circle cx="339.7" cy="167.8"/><circle cx="221.2" cy="182.4"/><circle cx="392.5" cy="289.2"/><circle cx="336.8" cy="214.5"/><circle cx="200.8" cy="193.2"/><circle cx="368.1" cy="277.6"/><circle cx="339.4" cy="137.1"/><circle cx="247.9" cy="199.8"/><circle cx="253.4" cy="201.4"/><circle cx="202.9" cy="343.2"/><circle cx="381.0" cy="227.3"/><circle cx="196.4" cy="200.6"/><circle cx="322.4" cy="331.7"/><circle cx="180.0" cy="220.6"/><circle cx="368.8" cy="275.6"/><circle cx="334.6" cy="201.8"/><circle cx="350.5" cy="238.1"/><circle cx="344.0" cy="310.4"/><circle cx="253.3" cy="161.1"/><circle cx="362.3" cy="217.0"/><circle cx="246.1" cy="182.2"/><circle cx="365.6" cy="193.6"/><circle cx="360.8" cy="224.8"/><circle cx="268.0" cy="189.2"/><circle cx="284.7" cy="129.8"/><circle cx="270.2" cy="163.8"/><circle cx="408.0" cy="266.6"/><circle cx="197.2" cy="189.4"/><circle cx="320.1" cy="154.9"/><circle cx="365.9" cy="282.0"/><circle cx="281.3" cy="158.3"/><circle cx="125.3" cy="301.7"/><circle cx="271.8" cy="165.8"/><circle cx="116.4" cy="307.8"/><circle cx="329.3" cy="209.9"/><circle cx="188.5" cy="205.2"/><circle cx="325.6" cy="213.6"/><circle cx="113.7" cy="342.6"/><circle cx="276.9" cy="187.4"/><circle cx="347.5" cy="245.8"/><circle cx="298.1" cy="163.3"/><circle cx="359.7" cy="294.4"/><circle cx="290.2" cy="180.7"/><circle cx="385.7" cy="257.1"/><circle cx="121.7" cy="303.7"/><circle cx="360.8" cy="285.0"/><circle cx="229.5" cy="189.9"/><circle cx="268.5" cy="340.6"/><circle cx="247.1" cy="184.3"/><circle cx="349.3" cy="126.5"/><circle cx="386.2" cy="256.8"/><circle cx="347.9" cy="289.7"/><circle cx="265.4" cy="162.6"/><circle cx="373.1" cy="271.2"/><circle cx="174.9" cy="228.9"/><circle cx="329.0" cy="212.8"/><circle cx="378.3" cy="152.1"/><circle cx="349.1" cy="234.4"/><circle cx="356.7" cy="234.0"/><circle cx="223.0" cy="177.8"/><circle cx="228.5" cy="204.2"/><circle cx="241.6" cy="163.5"/><circle cx="323.2" cy="322.1"/><circle cx="358.3" cy="280.0"/><circle cx="310.4" cy="176.1"/><circle cx="176.0" cy="225.2"/><circle cx="211.0" cy="195.1"/><circle cx="131.1" cy="291.4"/><circle cx="231.1" cy="346.3"/><circle cx="305.1" cy="149.6"/><circle cx="366.7" cy="271.1"/><circle cx="322.9" cy="177.8"/><circle cx="255.3" cy="189.4"/><circle cx="215.2" cy="189.8"/><circle cx="386.4" cy="223.2"/><circle cx="338.3" cy="184.8"/><circle cx="124.3" cy="299.7"/><circle cx="291.5" cy="129.1"/><circle cx="176.6" cy="347.6"/><circle cx="319.7" cy="184.8"/><circle cx="379.8" cy="277.6"/><circle cx="124.7" cy="293.1"/><circle cx="353.8" cy="310.1"/><circle cx="240.5" cy="181.3"/><circle cx="337.5" cy="233.6"/><circle cx="246.9" cy="168.4"/><circle cx="376.0" cy="298.4"/><circle cx="282.4" cy="191.2"/><circle cx="393.0" cy="281.5"/><circle cx="273.3" cy="194.3"/><circle cx="223.0" cy="142.2"/><circle cx="307.4" cy="337.9"/><circle cx="269.6" cy="338.1"/><circle cx="332.6" cy="332.5"/><circle cx="283.2" cy="188.6"/><circle cx="344.4" cy="302.3"/><circle cx="236.1" cy="171.7"/><circle cx="186.6" cy="208.8"/><circle cx="350.6" cy="266.3"/><circle cx="134.8" cy="282.7"/><circle cx="145.7" cy="271.2"/><circle cx="323.7" cy="183.0"/><circle cx="385.5" cy="272.6"/><circle cx="265.9" cy="189.9"/><circle cx="168.3" cy="230.2"/><circle cx="333.3" cy="318.3"/><circle cx="192.4" cy="344.8"/><circle cx="269.7" cy="188.0"/><circle cx="312.1" cy="163.1"/><circle cx="327.8" cy="225.9"/><circle cx="218.6" cy="192.3"/><circle cx="361.5" cy="259.4"/><circle cx="330.8" cy="132.8"/><circle cx="251.2" cy="344.9"/><circle cx="335.1" cy="320.1"/><circle cx="340.9" cy="239.3"/><circle cx="331.7" cy="193.3"/><circle cx="352.2" cy="314.6"/><circle cx="317.9" cy="340.5"/><circle cx="351.1" cy="278.5"/><circle cx="325.1" cy="169.0"/><circle cx="267.7" cy="343.9"/><circle cx="184.9" cy="202.1"/><circle cx="302.0" cy="340.7"/><circle cx="350.4" cy="240.3"/><circle cx="362.4" cy="272.9"/><circle cx="290.8" cy="162.5"/><circle cx="322.0" cy="329.6"/><circle cx="258.0" cy="198.9"/><circle cx="153.1" cy="247.9"/><circle cx="326.1" cy="173.9"/><circle cx="181.9" cy="343.1"/><circle cx="346.8" cy="316.4"/><circle cx="356.7" cy="276.3"/><circle cx="217.1" cy="347.1"/><circle cx="319.2" cy="148.1"/><circle cx="215.6" cy="196.3"/><circle cx="345.5" cy="292.9"/><circle cx="348.3" cy="245.8"/><circle cx="338.4" cy="238.1"/><circle cx="286.5" cy="190.9"/><circle cx="219.3" cy="345.8"/><circle cx="324.0" cy="173.6"/><circle cx="172.9" cy="209.7"/><circle cx="371.1" cy="285.0"/><circle cx="362.6" cy="237.0"/><circle cx="365.4" cy="261.6"/><circle cx="254.4" cy="196.2"/><circle cx="328.7" cy="179.8"/><circle cx="245.4" cy="184.3"/><circle cx="345.7" cy="163.7"/><circle cx="337.8" cy="179.6"/><circle cx="168.1" cy="230.5"/><circle cx="371.9" cy="271.9"/><circle cx="329.3" cy="224.7"/><circle cx="144.6" cy="345.9"/><circle cx="131.0" cy="289.0"/><circle cx="359.3" cy="220.0"/><circle cx="358.6" cy="288.8"/><circle cx="310.6" cy="180.2"/><circle cx="226.8" cy="201.2"/><circle cx="304.5" cy="343.1"/><circle cx="293.4" cy="341.9"/><circle cx="326.3" cy="171.9"/><circle cx="181.4" cy="208.7"/><circle cx="330.8" cy="168.2"/><circle cx="193.3" cy="343.2"/><circle cx="101.5" cy="339.6"/><circle cx="318.2" cy="175.0"/><circle cx="376.3" cy="248.1"/><circle cx="201.8" cy="198.6"/><circle cx="337.9" cy="326.7"/><circle cx="202.3" cy="347.6"/><circle cx="351.9" cy="252.9"/><circle cx="401.0" cy="210.1"/><circle cx="354.0" cy="183.3"/><circle cx="329.8" cy="195.1"/><circle cx="347.9" cy="237.4"/><circle cx="340.1" cy="126.6"/><circle cx="346.7" cy="217.2"/><circle cx="262.5" cy="192.9"/><circle cx="229.0" cy="163.0"/><circle cx="330.2" cy="217.8"/><circle cx="368.3" cy="271.6"/><circle cx="369.0" cy="240.7"/><circle cx="342.9" cy="219.7"/><circle cx="375.2" cy="248.9"/><circle cx="293.1" cy="177.4"/><circle cx="265.0" cy="192.0"/><circle cx="282.5" cy="159.6"/><circle cx="371.2" cy="268.4"/><circle cx="338.4" cy="223.0"/><circle cx="341.3" cy="228.6"/><circle cx="243.7" cy="197.0"/><circle cx="377.4" cy="274.3"/><circle cx="350.9" cy="237.8"/><circle cx="370.1" cy="246.1"/><circle cx="263.8" cy="188.1"/><circle cx="305.2" cy="335.8"/><circle cx="166.3" cy="219.9"/><circle cx="227.0" cy="195.2"/><circle cx="409.4" cy="284.8"/><circle cx="314.2" cy="174.8"/><circle cx="292.2" cy="178.7"/><circle cx="381.9" cy="287.7"/><circle cx="299.0" cy="176.8"/><circle cx="315.2" cy="140.8"/><circle cx="327.3" cy="208.0"/><circle cx="324.0" cy="177.7"/><circle cx="359.0" cy="229.7"/><circle cx="307.8" cy="159.1"/><circle cx="295.7" cy="181.3"/><circle cx="277.8" cy="192.9"/><circle cx="137.7" cy="286.2"/><circle cx="294.9" cy="191.6"/><circle cx="359.4" cy="281.5"/><circle cx="349.6" cy="287.1"/><circle cx="388.0" cy="283.1"/><circle cx="361.8" cy="235.7"/><circle cx="339.0" cy="218.8"/><circle cx="148.2" cy="266.4"/><circle cx="377.6" cy="179.5"/><circle cx="350.5" cy="287.0"/><circle cx="229.9" cy="156.3"/><circle cx="343.8" cy="328.6"/><circle cx="155.3" cy="347.4"/><circle cx="152.5" cy="266.1"/><circle cx="355.5" cy="283.2"/><circle cx="327.5" cy="323.0"/><circle cx="371.7" cy="254.0"/><circle cx="324.4" cy="185.5"/><circle cx="360.0" cy="302.7"/><circle cx="355.6" cy="253.9"/><circle cx="340.3" cy="250.1"/><circle cx="99.6" cy="323.0"/><circle cx="97.6" cy="322.0"/><circle cx="337.4" cy="320.2"/><circle cx="347.9" cy="225.1"/><circle cx="374.2" cy="177.4"/><circle cx="351.8" cy="281.8"/><circle cx="353.0" cy="266.8"/><circle cx="324.4" cy="331.6"/><circle cx="381.0" cy="251.4"/><circle cx="167.2" cy="341.7"/><circle cx="176.3" cy="342.0"/><circle cx="336.8" cy="336.3"/><circle cx="311.2" cy="128.6"/><circle cx="157.2" cy="246.2"/><circle cx="347.7" cy="237.4"/><circle cx="341.4" cy="298.5"/><circle cx="300.0" cy="178.0"/><circle cx="183.4" cy="346.1"/><circle cx="312.6" cy="173.1"/><circle cx="254.1" cy="194.2"/><circle cx="362.5" cy="247.9"/><circle cx="349.0" cy="246.2"/><circle cx="280.4" cy="162.3"/><circle cx="362.1" cy="206.1"/><circle cx="256.1" cy="185.4"/><circle cx="183.4" cy="216.6"/><circle cx="202.5" cy="346.8"/><circle cx="302.4" cy="170.2"/><circle cx="142.2" cy="343.6"/><circle cx="343.0" cy="253.4"/><circle cx="247.1" cy="197.7"/><circle cx="389.4" cy="216.0"/><circle cx="180.3" cy="215.9"/><circle cx="118.0" cy="343.8"/><circle cx="305.8" cy="172.2"/><circle cx="167.3" cy="239.7"/><circle cx="331.2" cy="317.7"/><circle cx="319.8" cy="329.7"/><circle cx="227.3" cy="178.5"/><circle cx="232.7" cy="190.8"/><circle cx="368.2" cy="175.1"/><circle cx="379.3" cy="264.3"/><circle cx="325.8" cy="174.6"/><circle cx="223.6" cy="204.4"/><circle cx="363.7" cy="316.4"/><circle cx="156.9" cy="345.4"/><circle cx="351.3" cy="304.2"/><circle cx="362.7" cy="240.2"/><circle cx="269.1" cy="174.8"/><circle cx="338.3" cy="185.4"/><circle cx="269.3" cy="151.5"/><circle cx="348.0" cy="258.8"/><circle cx="330.5" cy="185.9"/><circle cx="303.2" cy="169.9"/><circle cx="340.8" cy="236.6"/><circle cx="336.7" cy="329.8"/><circle cx="226.8" cy="196.1"/><circle cx="335.5" cy="222.0"/><circle cx="114.0" cy="341.0"/><circle cx="366.5" cy="260.9"/><circle cx="342.0" cy="311.5"/><circle cx="353.0" cy="203.5"/><circle cx="303.5" cy="174.3"/><circle cx="314.1" cy="169.6"/><circle cx="350.7" cy="242.8"/><circle cx="178.0" cy="219.7"/><circle cx="350.3" cy="274.7"/><circle cx="375.3" cy="312.9"/><circle cx="397.1" cy="196.4"/><circle cx="324.2" cy="321.8"/><circle cx="377.3" cy="276.6"/><circle cx="342.7" cy="204.9"/><circle cx="338.9" cy="229.3"/><circle cx="158.6" cy="247.9"/><circle cx="225.8" cy="202.1"/><circle cx="292.7" cy="166.9"/><circle cx="376.4" cy="188.9"/><circle cx="390.5" cy="139.5"/><circle cx="368.7" cy="155.8"/><circle cx="353.5" cy="267.2"/><circle cx="332.6" cy="160.3"/><circle cx="343.5" cy="247.8"/><circle cx="119.6" cy="306.7"/><circle cx="346.4" cy="232.8"/><circle cx="200.3" cy="197.1"/><circle cx="350.0" cy="245.4"/><circle cx="338.0" cy="300.4"/><circle cx="327.8" cy="338.1"/><circle cx="310.2" cy="132.6"/><circle cx="300.5" cy="187.9"/><circle cx="346.3" cy="253.5"/><circle cx="212.9" cy="346.8"/><circle cx="368.5" cy="236.6"/><circle cx="294.9" cy="191.7"/><circle cx="184.6" cy="343.2"/><circle cx="277.9" cy="173.9"/><circle cx="207.3" cy="189.5"/><circle cx="245.9" cy="339.4"/><circle cx="120.9" cy="298.8"/><circle cx="350.0" cy="257.0"/><circle cx="344.5" cy="300.9"/><circle cx="387.4" cy="167.6"/><circle cx="296.9" cy="161.7"/><circle cx="327.2" cy="175.0"/><circle cx="395.0" cy="247.1"/><circle cx="359.7" cy="270.5"/><circle cx="328.9" cy="222.5"/><circle cx="388.4" cy="263.0"/><circle cx="298.5" cy="170.5"/><circle cx="265.3" cy="179.4"/><circle cx="359.7" cy="290.2"/><circle cx="308.5" cy="168.6"/><circle cx="380.3" cy="286.0"/><circle cx="246.2" cy="173.4"/><circle cx="218.2" cy="193.8"/><circle cx="362.8" cy="225.6"/><circle cx="319.3" cy="173.6"/><circle cx="380.6" cy="270.2"/><circle cx="185.4" cy="205.3"/><circle cx="367.3" cy="278.5"/><circle cx="361.5" cy="213.8"/><circle cx="365.4" cy="260.5"/><circle cx="332.9" cy="239.4"/><circle cx="346.2" cy="295.3"/><circle cx="348.0" cy="222.8"/><circle cx="330.7" cy="324.3"/><circle cx="402.8" cy="235.1"/><circle cx="339.5" cy="324.6"/><circle cx="255.9" cy="200.7"/><circle cx="365.1" cy="196.0"/><circle cx="359.4" cy="233.2"/><circle cx="385.9" cy="165.8"/><circle cx="342.9" cy="239.7"/><circle cx="114.9" cy="343.8"/><circle cx="163.3" cy="242.1"/><circle cx="363.9" cy="210.2"/><circle cx="330.0" cy="180.8"/><circle cx="342.6" cy="142.9"/><circle cx="352.0" cy="263.1"/><circle cx="321.5" cy="189.8"/><circle cx="336.3" cy="182.8"/><circle cx="350.1" cy="201.0"/><circle cx="257.3" cy="178.8"/><circle cx="355.7" cy="288.4"/><circle cx="314.0" cy="138.3"/><circle cx="352.8" cy="253.6"/><circle cx="181.5" cy="220.2"/><circle cx="343.3" cy="321.8"/><circle cx="278.8" cy="176.8"/><circle cx="361.5" cy="272.5"/><circle cx="231.4" cy="203.0"/><circle cx="297.1" cy="177.7"/><circle cx="247.8" cy="159.7"/><circle cx="300.9" cy="172.1"/><circle cx="192.0" cy="205.1"/><circle cx="359.4" cy="184.2"/><circle cx="358.7" cy="255.2"/><circle cx="262.5" cy="197.0"/><circle cx="359.3" cy="221.9"/><circle cx="92.3" cy="335.4"/><circle cx="244.8" cy="198.2"/><circle cx="271.7" cy="196.9"/><circle cx="97.6" cy="333.5"/><circle cx="358.2" cy="233.2"/><circle cx="404.0" cy="240.0"/><circle cx="334.0" cy="342.2"/><circle cx="355.6" cy="299.9"/><circle cx="349.4" cy="305.6"/><circle cx="340.8" cy="247.8"/><circle cx="305.4" cy="138.3"/><circle cx="358.7" cy="222.8"/><circle cx="394.8" cy="264.4"/><circle cx="184.4" cy="217.2"/><circle cx="352.1" cy="215.0"/><circle cx="390.9" cy="247.2"/><circle cx="332.8" cy="203.7"/><circle cx="97.2" cy="323.6"/><circle cx="352.3" cy="283.9"/><circle cx="142.9" cy="274.5"/><circle cx="106.4" cy="340.4"/><circle cx="347.7" cy="305.2"/><circle cx="200.2" cy="200.8"/><circle cx="347.7" cy="259.8"/><circle cx="161.4" cy="241.3"/><circle cx="298.2" cy="186.1"/><circle cx="357.5" cy="223.3"/><circle cx="369.0" cy="318.2"/><circle cx="329.1" cy="323.2"/><circle cx="365.0" cy="274.2"/><circle cx="348.4" cy="249.3"/><circle cx="359.0" cy="162.0"/><circle cx="357.9" cy="289.4"/><circle cx="248.9" cy="183.1"/><circle cx="153.6" cy="251.9"/><circle cx="354.8" cy="276.3"/><circle cx="347.5" cy="300.0"/><circle cx="132.7" cy="292.3"/><circle cx="382.8" cy="293.7"/><circle cx="302.8" cy="177.8"/><circle cx="94.4" cy="347.0"/><circle cx="241.7" cy="193.8"/><circle cx="358.8" cy="261.6"/><circle cx="379.3" cy="213.6"/><circle cx="369.4" cy="223.3"/><circle cx="102.7" cy="338.6"/><circle cx="268.6" cy="155.6"/><circle cx="209.6" cy="202.7"/><circle cx="305.9" cy="165.1"/><circle cx="321.1" cy="189.0"/><circle cx="114.3" cy="306.6"/><circle cx="263.1" cy="190.5"/><circle cx="263.8" cy="150.4"/><circle cx="365.7" cy="279.4"/><circle cx="294.0" cy="337.0"/><circle cx="350.2" cy="297.9"/><circle cx="273.1" cy="197.7"/><circle cx="365.3" cy="235.2"/><circle cx="287.9" cy="171.9"/><circle cx="202.0" cy="346.9"/><circle cx="298.3" cy="335.7"/><circle cx="233.4" cy="177.6"/><circle cx="190.9" cy="209.0"/><circle cx="333.7" cy="329.2"/><circle cx="339.5" cy="322.6"/><circle cx="340.4" cy="326.7"/><circle cx="317.4" cy="158.8"/><circle cx="119.0" cy="300.8"/><circle cx="148.9" cy="264.0"/><circle cx="157.0" cy="236.2"/><circle cx="161.4" cy="243.9"/><circle cx="292.6" cy="137.1"/><circle cx="232.8" cy="184.3"/><circle cx="212.5" cy="178.8"/><circle cx="174.0" cy="225.4"/><circle cx="340.7" cy="164.2"/><circle cx="235.8" cy="194.7"/><circle cx="325.4" cy="207.0"/><circle cx="348.1" cy="146.1"/><circle cx="338.8" cy="218.9"/><circle cx="299.6" cy="338.8"/><circle cx="336.1" cy="235.2"/><circle cx="152.7" cy="260.5"/><circle cx="388.8" cy="271.4"/><circle cx="253.1" cy="195.1"/><circle cx="345.4" cy="227.6"/><circle cx="339.4" cy="328.0"/><circle cx="308.1" cy="174.3"/><circle cx="151.0" cy="256.9"/><circle cx="341.5" cy="218.3"/><circle cx="233.9" cy="184.0"/><circle cx="386.6" cy="306.5"/><circle cx="222.5" cy="201.4"/><circle cx="102.7" cy="339.4"/><circle cx="358.8" cy="263.5"/><circle cx="321.2" cy="187.9"/><circle cx="361.8" cy="259.1"/><circle cx="338.2" cy="324.3"/><circle cx="363.6" cy="209.0"/><circle cx="348.6" cy="301.3"/><circle cx="363.6" cy="179.2"/><circle cx="160.8" cy="237.8"/><circle cx="259.0" cy="146.0"/><circle cx="213.1" cy="342.4"/><circle cx="162.3" cy="239.9"/><circle cx="114.7" cy="307.3"/><circle cx="251.5" cy="166.0"/><circle cx="379.7" cy="298.4"/><circle cx="159.4" cy="238.6"/><circle cx="132.9" cy="345.2"/><circle cx="183.7" cy="343.2"/><circle cx="122.2" cy="305.8"/><circle cx="230.7" cy="185.1"/><circle cx="182.2" cy="343.7"/><circle cx="345.1" cy="217.7"/><circle cx="294.2" cy="171.8"/><circle cx="374.9" cy="279.3"/><circle cx="319.7" cy="166.7"/><circle cx="345.8" cy="284.0"/><circle cx="335.8" cy="191.1"/><circle cx="303.1" cy="185.5"/><circle cx="354.4" cy="239.1"/><circle cx="362.9" cy="256.9"/><circle cx="357.3" cy="297.6"/><circle cx="226.9" cy="186.6"/><circle cx="349.8" cy="244.3"/><circle cx="253.5" cy="190.3"/><circle cx="272.2" cy="175.0"/><circle cx="373.5" cy="263.9"/><circle cx="354.7" cy="252.4"/><circle cx="349.5" cy="232.1"/><circle cx="354.4" cy="279.4"/><circle cx="346.5" cy="211.8"/><circle cx="319.0" cy="167.7"/><circle cx="114.3" cy="308.9"/><circle cx="349.8" cy="211.0"/><circle cx="243.1" cy="183.7"/><circle cx="367.0" cy="283.3"/><circle cx="304.9" cy="172.7"/><circle cx="322.9" cy="164.4"/><circle cx="384.7" cy="202.0"/><circle cx="366.0" cy="244.0"/><circle cx="405.2" cy="275.9"/><circle cx="374.7" cy="269.8"/><circle cx="293.9" cy="180.0"/><circle cx="344.6" cy="196.8"/><circle cx="344.0" cy="170.9"/><circle cx="343.8" cy="139.7"/><circle cx="369.8" cy="284.8"/><circle cx="298.3" cy="174.1"/><circle cx="332.9" cy="204.5"/><circle cx="350.0" cy="171.4"/><circle cx="360.9" cy="283.2"/><circle cx="230.4" cy="200.9"/><circle cx="355.8" cy="272.1"/><circle cx="223.6" cy="181.3"/><circle cx="322.1" cy="166.3"/><circle cx="245.0" cy="190.9"/><circle cx="398.4" cy="308.8"/><circle cx="175.0" cy="347.6"/><circle cx="329.9" cy="169.5"/><circle cx="353.7" cy="222.5"/><circle cx="382.1" cy="281.9"/><circle cx="351.1" cy="256.3"/><circle cx="349.7" cy="316.0"/><circle cx="241.7" cy="340.1"/><circle cx="211.2" cy="194.6"/><circle cx="206.9" cy="344.4"/><circle cx="374.1" cy="260.8"/><circle cx="329.4" cy="126.2"/><circle cx="230.9" cy="197.1"/><circle cx="179.7" cy="221.8"/><circle cx="279.6" cy="196.4"/><circle cx="272.9" cy="339.5"/><circle cx="319.8" cy="339.4"/><circle cx="295.5" cy="187.4"/><circle cx="294.5" cy="174.2"/><circle cx="98.4" cy="341.4"/><circle cx="329.0" cy="177.3"/><circle cx="298.1" cy="158.4"/><circle cx="391.4" cy="157.9"/><circle cx="345.9" cy="296.6"/><circle cx="341.4" cy="317.8"/><circle cx="261.2" cy="338.8"/><circle cx="297.2" cy="340.0"/><circle cx="367.7" cy="234.5"/><circle cx="269.4" cy="198.9"/><circle cx="288.5" cy="178.4"/><circle cx="304.9" cy="180.8"/><circle cx="337.5" cy="211.9"/><circle cx="99.9" cy="327.4"/><circle cx="381.8" cy="249.7"/><circle cx="244.2" cy="172.3"/><circle cx="335.2" cy="226.0"/><circle cx="284.8" cy="189.8"/><circle cx="406.5" cy="266.9"/><circle cx="342.9" cy="335.2"/><circle cx="265.2" cy="142.6"/><circle cx="330.3" cy="333.8"/><circle cx="163.0" cy="347.3"/><circle cx="323.4" cy="173.7"/><circle cx="206.6" cy="190.1"/><circle cx="111.6" cy="309.1"/><circle cx="347.6" cy="314.0"/><circle cx="326.2" cy="158.5"/><circle cx="249.5" cy="200.3"/><circle cx="297.2" cy="172.7"/><circle cx="138.1" cy="277.7"/><circle cx="348.2" cy="166.7"/><circle cx="261.0" cy="342.4"/><circle cx="325.9" cy="160.4"/><circle cx="349.3" cy="320.8"/><circle cx="222.6" cy="203.9"/><circle cx="359.3" cy="168.1"/><circle cx="379.1" cy="283.9"/><circle cx="231.5" cy="341.8"/><circle cx="243.8" cy="149.6"/><circle cx="283.8" cy="156.0"/><circle cx="166.0" cy="239.3"/><circle cx="347.6" cy="110.8"/><circle cx="329.0" cy="203.8"/><circle cx="334.5" cy="215.0"/><circle cx="374.9" cy="284.1"/><circle cx="149.1" cy="342.6"/><circle cx="242.1" cy="194.2"/><circle cx="392.2" cy="190.6"/><circle cx="343.3" cy="220.5"/><circle cx="369.9" cy="176.4"/><circle cx="342.1" cy="231.5"/><circle cx="280.0" cy="192.9"/><circle cx="273.7" cy="167.9"/><circle cx="374.2" cy="237.5"/><circle cx="277.4" cy="194.3"/><circle cx="405.8" cy="321.7"/><circle cx="309.9" cy="155.4"/><circle cx="298.5" cy="173.0"/><circle cx="290.9" cy="191.9"/><circle cx="364.5" cy="152.7"/><circle cx="349.6" cy="264.6"/><circle cx="353.6" cy="197.9"/><circle cx="96.7" cy="339.5"/><circle cx="123.6" cy="298.0"/><circle cx="330.2" cy="181.3"/><circle cx="293.1" cy="181.0"/><circle cx="139.5" cy="279.9"/><circle cx="313.9" cy="178.4"/><circle cx="153.5" cy="262.3"/><circle cx="306.6" cy="335.8"/><circle cx="243.6" cy="172.0"/><circle cx="181.3" cy="223.6"/><circle cx="251.7" cy="197.7"/><circle cx="268.4" cy="186.7"/><circle cx="317.4" cy="148.4"/><circle cx="383.3" cy="298.7"/><circle cx="115.0" cy="304.4"/><circle cx="353.8" cy="255.8"/><circle cx="353.7" cy="225.7"/><circle cx="352.8" cy="255.7"/><circle cx="280.8" cy="132.0"/><circle cx="178.2" cy="222.4"/><circle cx="355.1" cy="265.5"/><circle cx="230.6" cy="341.2"/><circle cx="357.3" cy="212.5"/><circle cx="172.2" cy="231.9"/><circle cx="372.8" cy="243.2"/><circle cx="341.5" cy="305.8"/><circle cx="201.7" cy="193.4"/><circle cx="289.4" cy="166.9"/><circle cx="171.1" cy="346.9"/><circle cx="353.2" cy="236.0"/><circle cx="264.5" cy="179.0"/><circle cx="342.4" cy="299.8"/><circle cx="354.9" cy="275.2"/><circle cx="319.4" cy="139.4"/><circle cx="323.2" cy="336.4"/><circle cx="315.5" cy="153.2"/><circle cx="268.7" cy="168.6"/><circle cx="298.2" cy="182.6"/><circle cx="176.9" cy="349.5"/><circle cx="350.1" cy="275.8"/><circle cx="259.4" cy="177.1"/><circle cx="285.3" cy="166.3"/><circle cx="373.6" cy="279.2"/><circle cx="383.9" cy="250.4"/><circle cx="185.2" cy="213.4"/><circle cx="186.3" cy="210.0"/><circle cx="333.8" cy="156.8"/><circle cx="268.9" cy="339.2"/><circle cx="238.3" cy="203.3"/><circle cx="347.5" cy="236.9"/><circle cx="367.2" cy="224.3"/><circle cx="344.2" cy="290.8"/><circle cx="339.3" cy="234.6"/><circle cx="253.5" cy="192.2"/><circle cx="224.9" cy="186.6"/><circle cx="334.5" cy="215.0"/><circle cx="329.5" cy="213.6"/><circle cx="334.7" cy="323.8"/><circle cx="303.4" cy="127.7"/><circle cx="317.2" cy="158.8"/><circle cx="288.3" cy="149.8"/><circle cx="327.4" cy="197.2"/><circle cx="292.3" cy="155.6"/><circle cx="337.1" cy="227.5"/><circle cx="178.9" cy="224.3"/><circle cx="395.5" cy="278.8"/><circle cx="339.4" cy="130.4"/><circle cx="265.3" cy="163.9"/><circle cx="351.7" cy="324.7"/><circle cx="349.3" cy="153.9"/><circle cx="262.9" cy="175.6"/><circle cx="271.6" cy="180.3"/><circle cx="365.1" cy="281.2"/><circle cx="263.6" cy="190.4"/><circle cx="140.7" cy="275.1"/><circle cx="347.4" cy="322.8"/><circle cx="332.7" cy="229.1"/><circle cx="292.7" cy="186.3"/><circle cx="273.9" cy="185.8"/><circle cx="193.5" cy="341.8"/><circle cx="325.2" cy="331.5"/><circle cx="232.1" cy="196.0"/><circle cx="329.7" cy="332.4"/><circle cx="317.7" cy="139.2"/><circle cx="340.9" cy="320.2"/><circle cx="227.1" cy="153.2"/><circle cx="356.1" cy="245.9"/><circle cx="343.9" cy="216.8"/><circle cx="343.0" cy="191.6"/><circle cx="190.9" cy="344.8"/><circle cx="359.0" cy="256.5"/><circle cx="238.9" cy="195.9"/><circle cx="282.0" cy="160.3"/><circle cx="398.8" cy="258.6"/><circle cx="301.2" cy="154.5"/><circle cx="329.8" cy="158.7"/><circle cx="349.3" cy="259.1"/><circle cx="294.3" cy="164.7"/><circle cx="279.5" cy="187.0"/><circle cx="363.4" cy="265.2"/><circle cx="363.8" cy="224.9"/><circle cx="395.7" cy="253.3"/><circle cx="364.4" cy="278.6"/><circle cx="205.7" cy="191.0"/><circle cx="357.4" cy="230.6"/><circle cx="390.1" cy="268.2"/><circle cx="282.0" cy="178.8"/><circle cx="328.8" cy="209.5"/><circle cx="329.0" cy="178.7"/><circle cx="107.2" cy="340.5"/><circle cx="393.2" cy="242.1"/><circle cx="384.7" cy="301.6"/><circle cx="130.1" cy="282.1"/><circle cx="224.3" cy="198.7"/><circle cx="294.0" cy="137.0"/><circle cx="238.6" cy="345.8"/><circle cx="386.7" cy="251.0"/><circle cx="345.9" cy="248.9"/><circle cx="287.0" cy="189.0"/><circle cx="268.0" cy="164.8"/><circle cx="95.8" cy="332.5"/><circle cx="149.4" cy="257.9"/><circle cx="240.3" cy="345.8"/><circle cx="362.0" cy="278.4"/><circle cx="339.7" cy="313.8"/><circle cx="342.3" cy="320.6"/><circle cx="294.1" cy="172.5"/><circle cx="293.7" cy="188.1"/><circle cx="353.9" cy="144.8"/><circle cx="340.4" cy="329.4"/><circle cx="259.3" cy="342.6"/><circle cx="124.0" cy="299.2"/><circle cx="365.3" cy="222.8"/><circle cx="359.6" cy="263.3"/><circle cx="346.0" cy="228.7"/><circle cx="386.3" cy="273.0"/><circle cx="290.8" cy="120.7"/><circle cx="317.9" cy="148.8"/><circle cx="389.0" cy="183.8"/><circle cx="356.8" cy="200.9"/><circle cx="233.3" cy="340.8"/><circle cx="340.1" cy="237.0"/><circle cx="153.3" cy="259.5"/><circle cx="347.0" cy="237.9"/><circle cx="366.9" cy="281.6"/><circle cx="180.8" cy="218.0"/><circle cx="296.3" cy="131.7"/><circle cx="246.9" cy="176.0"/><circle cx="290.8" cy="149.8"/><circle cx="265.0" cy="191.0"/><circle cx="305.3" cy="340.1"/><circle cx="355.2" cy="218.9"/><circle cx="382.6" cy="260.8"/><circle cx="337.5" cy="234.6"/><circle cx="167.7" cy="347.1"/><circle cx="407.3" cy="236.2"/><circle cx="357.3" cy="261.0"/><circle cx="299.2" cy="129.4"/><circle cx="297.9" cy="167.4"/><circle cx="309.4" cy="170.0"/><circle cx="276.0" cy="185.3"/><circle cx="385.4" cy="229.4"/><circle cx="313.4" cy="148.1"/><circle cx="281.4" cy="191.1"/><circle cx="235.7" cy="200.1"/><circle cx="353.7" cy="276.7"/><circle cx="351.0" cy="182.1"/><circle cx="248.0" cy="188.4"/><circle cx="341.2" cy="306.7"/><circle cx="395.9" cy="261.0"/><circle cx="378.1" cy="233.3"/><circle cx="135.1" cy="342.8"/><circle cx="231.9" cy="195.5"/><circle cx="338.5" cy="179.0"/><circle cx="327.3" cy="144.7"/><circle cx="328.8" cy="177.7"/><circle cx="343.2" cy="228.9"/><circle cx="249.5" cy="186.9"/><circle cx="274.8" cy="197.4"/><circle cx="256.0" cy="180.5"/><circle cx="195.3" cy="174.4"/><circle cx="395.7" cy="148.5"/><circle cx="205.9" cy="190.8"/><circle cx="350.8" cy="309.9"/><circle cx="213.6" cy="345.7"/><circle cx="289.8" cy="176.4"/><circle cx="329.4" cy="162.2"/><circle cx="357.1" cy="261.5"/><circle cx="385.0" cy="258.4"/><circle cx="261.3" cy="343.6"/><circle cx="124.4" cy="341.6"/><circle cx="373.1" cy="190.5"/><circle cx="364.3" cy="305.7"/><circle cx="254.4" cy="141.4"/><circle cx="284.2" cy="151.2"/><circle cx="272.3" cy="342.4"/><circle cx="346.1" cy="152.4"/><circle cx="403.8" cy="220.5"/><circle cx="186.9" cy="344.6"/><circle cx="180.6" cy="220.8"/><circle cx="141.5" cy="277.4"/><circle cx="279.8" cy="163.0"/><circle cx="274.6" cy="190.7"/><circle cx="355.9" cy="132.2"/><circle cx="212.6" cy="345.7"/><circle cx="384.6" cy="217.6"/><circle cx="326.2" cy="210.2"/><circle cx="252.0" cy="194.0"/><circle cx="338.8" cy="301.4"/><circle cx="307.3" cy="158.1"/><circle cx="134.0" cy="287.5"/><circle cx="350.6" cy="288.3"/><circle cx="217.6" cy="204.6"/><circle cx="214.3" cy="196.0"/><circle cx="175.0" cy="343.1"/><circle cx="341.4" cy="248.0"/><circle cx="219.4" cy="199.0"/><circle cx="381.7" cy="241.1"/><circle cx="193.0" cy="201.7"/><circle cx="229.1" cy="204.2"/><circle cx="321.0" cy="127.9"/><circle cx="370.1" cy="216.9"/><circle cx="234.0" cy="188.2"/><circle cx="373.3" cy="247.7"/><circle cx="338.8" cy="184.5"/><circle cx="366.0" cy="280.1"/><circle cx="346.7" cy="213.1"/><circle cx="157.6" cy="249.2"/><circle cx="345.5" cy="146.0"/><circle cx="308.3" cy="187.4"/><circle cx="176.5" cy="342.0"/><circle cx="232.1" cy="179.4"/><circle cx="338.3" cy="249.6"/><circle cx="229.9" cy="190.4"/><circle cx="343.3" cy="154.6"/><circle cx="347.9" cy="122.1"/><circle cx="354.6" cy="261.8"/><circle cx="325.3" cy="149.5"/><circle cx="168.7" cy="233.2"/><circle cx="334.2" cy="213.7"/><circle cx="237.6" cy="172.5"/><circle cx="341.6" cy="314.3"/><circle cx="179.1" cy="344.1"/><circle cx="330.7" cy="154.1"/><circle cx="276.5" cy="182.1"/><circle cx="383.4" cy="291.9"/><circle cx="328.4" cy="337.4"/><circle cx="331.6" cy="148.9"/><circle cx="344.8" cy="195.2"/><circle cx="339.4" cy="329.8"/><circle cx="266.4" cy="173.8"/><circle cx="125.7" cy="298.0"/><circle cx="307.8" cy="176.6"/><circle cx="144.1" cy="270.8"/><circle cx="374.0" cy="256.0"/><circle cx="261.3" cy="340.1"/><circle cx="353.6" cy="224.8"/><circle cx="334.7" cy="193.3"/><circle cx="314.1" cy="179.4"/><circle cx="378.4" cy="172.7"/><circle cx="269.1" cy="342.8"/><circle cx="371.3" cy="219.8"/><circle cx="245.3" cy="197.6"/><circle cx="374.8" cy="144.6"/><circle cx="141.9" cy="279.6"/><circle cx="309.6" cy="336.7"/><circle cx="365.6" cy="302.7"/><circle cx="113.3" cy="344.6"/><circle cx="337.6" cy="243.1"/><circle cx="361.8" cy="254.9"/><circle cx="254.6" cy="201.3"/><circle cx="343.9" cy="216.9"/><circle cx="379.8" cy="225.4"/><circle cx="341.8" cy="214.6"/><circle cx="334.1" cy="317.6"/><circle cx="214.8" cy="344.1"/><circle cx="320.3" cy="334.9"/><circle cx="282.0" cy="191.4"/><circle cx="217.8" cy="343.7"/><circle cx="355.6" cy="232.4"/><circle cx="267.7" cy="182.7"/><circle cx="321.7" cy="329.0"/><circle cx="335.4" cy="162.9"/><circle cx="353.0" cy="303.5"/><circle cx="368.9" cy="258.9"/><circle cx="370.0" cy="283.5"/><circle cx="234.8" cy="190.2"/><circle cx="266.6" cy="190.5"/><circle cx="264.6" cy="188.0"/><circle cx="342.2" cy="237.3"/><circle cx="338.6" cy="194.0"/><circle cx="208.9" cy="188.0"/><circle cx="371.7" cy="201.6"/><circle cx="252.4" cy="166.4"/><circle cx="366.6" cy="343.0"/><circle cx="352.0" cy="252.7"/><circle cx="383.7" cy="273.0"/><circle cx="349.4" cy="171.0"/><circle cx="188.0" cy="347.3"/><circle cx="223.1" cy="344.4"/><circle cx="336.4" cy="140.0"/><circle cx="343.2" cy="330.5"/><circle cx="225.3" cy="202.5"/><circle cx="141.5" cy="343.1"/><circle cx="334.0" cy="221.3"/><circle cx="271.4" cy="339.8"/><circle cx="277.9" cy="188.4"/><circle cx="345.3" cy="325.9"/><circle cx="122.7" cy="345.3"/><circle cx="371.0" cy="283.6"/><circle cx="378.1" cy="156.2"/><circle cx="250.2" cy="199.1"/><circle cx="323.1" cy="192.4"/><circle cx="342.9" cy="320.2"/><circle cx="275.2" cy="182.0"/><circle cx="334.9" cy="213.6"/><circle cx="324.7" cy="339.3"/><circle cx="263.5" cy="174.2"/><circle cx="242.3" cy="198.1"/><circle cx="118.2" cy="307.4"/><circle cx="131.0" cy="284.9"/><circle cx="272.0" cy="191.3"/><circle cx="293.5" cy="163.8"/><circle cx="267.8" cy="196.3"/><circle cx="350.7" cy="177.3"/><circle cx="354.3" cy="219.4"/><circle cx="345.0" cy="300.6"/><circle cx="242.4" cy="161.5"/><circle cx="349.3" cy="284.7"/><circle cx="359.8" cy="214.4"/><circle cx="232.6" cy="344.4"/><circle cx="202.3" cy="344.7"/><circle cx="340.4" cy="171.9"/><circle cx="390.8" cy="232.8"/><circle cx="224.4" cy="170.9"/><circle cx="281.0" cy="181.1"/><circle cx="364.8" cy="145.2"/><circle cx="147.3" cy="250.0"/><circle cx="141.0" cy="274.4"/><circle cx="237.0" cy="182.7"/><circle cx="379.8" cy="220.0"/><circle cx="371.5" cy="248.0"/><circle cx="192.0" cy="344.2"/><circle cx="373.0" cy="261.5"/><circle cx="348.9" cy="259.3"/><circle cx="342.6" cy="226.6"/><circle cx="363.8" cy="253.4"/><circle cx="336.0" cy="169.1"/><circle cx="322.8" cy="169.8"/><circle cx="368.9" cy="257.0"/><circle cx="172.4" cy="345.3"/><circle cx="145.5" cy="342.2"/><circle cx="353.4" cy="309.5"/><circle cx="328.3" cy="334.4"/><circle cx="339.6" cy="189.1"/><circle cx="255.3" cy="201.4"/><circle cx="271.1" cy="181.7"/><circle cx="266.7" cy="186.2"/><circle cx="383.2" cy="159.2"/><circle cx="324.3" cy="175.6"/><circle cx="279.6" cy="187.0"/><circle cx="170.5" cy="226.4"/><circle cx="333.1" cy="322.7"/><circle cx="354.1" cy="149.2"/><circle cx="202.3" cy="192.6"/><circle cx="328.5" cy="232.4"/><circle cx="398.8" cy="244.6"/><circle cx="315.1" cy="335.4"/><circle cx="314.3" cy="165.7"/><circle cx="100.3" cy="322.4"/><circle cx="322.6" cy="334.9"/><circle cx="181.4" cy="195.3"/><circle cx="358.2" cy="294.0"/><circle cx="340.3" cy="158.4"/><circle cx="389.1" cy="271.2"/><circle cx="348.8" cy="234.9"/><circle cx="230.4" cy="191.0"/><circle cx="278.2" cy="175.0"/><circle cx="170.8" cy="232.4"/><circle cx="216.2" cy="187.3"/><circle cx="161.2" cy="343.3"/><circle cx="94.1" cy="328.8"/><circle cx="162.0" cy="341.5"/><circle cx="354.8" cy="129.1"/><circle cx="375.3" cy="260.8"/><circle cx="225.1" cy="196.4"/><circle cx="218.4" cy="195.2"/><circle cx="274.0" cy="156.0"/><circle cx="107.8" cy="340.5"/><circle cx="322.3" cy="166.7"/><circle cx="307.1" cy="167.7"/><circle cx="158.6" cy="240.6"/><circle cx="358.6" cy="255.6"/><circle cx="189.2" cy="212.4"/><circle cx="259.7" cy="183.6"/><circle cx="365.0" cy="264.3"/><circle cx="336.7" cy="305.3"/><circle cx="236.2" cy="170.4"/><circle cx="127.6" cy="345.4"/><circle cx="209.8" cy="341.2"/><circle cx="324.9" cy="172.2"/><circle cx="358.7" cy="274.2"/><circle cx="358.8" cy="241.4"/><circle cx="350.1" cy="247.8"/><circle cx="332.2" cy="204.5"/><circle cx="355.0" cy="294.8"/><circle cx="182.7" cy="215.5"/><circle cx="259.7" cy="194.6"/><circle cx="282.2" cy="157.3"/><circle cx="350.4" cy="274.6"/><circle cx="290.8" cy="182.3"/><circle cx="359.8" cy="220.8"/><circle cx="164.0" cy="344.7"/><circle cx="280.1" cy="168.3"/><circle cx="330.9" cy="191.0"/><circle cx="314.4" cy="335.1"/><circle cx="347.8" cy="196.4"/><circle cx="282.1" cy="190.1"/><circle cx="346.2" cy="233.3"/><circle cx="276.6" cy="187.9"/><circle cx="375.4" cy="285.0"/><circle cx="302.7" cy="338.2"/><circle cx="148.7" cy="268.0"/><circle cx="359.4" cy="288.3"/><circle cx="271.2" cy="338.8"/><circle cx="203.4" cy="196.5"/><circle cx="232.0" cy="194.1"/><circle cx="134.3" cy="341.7"/><circle cx="371.7" cy="285.1"/><circle cx="323.8" cy="326.7"/><circle cx="333.1" cy="216.6"/><circle cx="367.6" cy="244.4"/><circle cx="310.4" cy="168.8"/><circle cx="335.4" cy="208.1"/><circle cx="305.2" cy="143.6"/><circle cx="262.4" cy="188.5"/><circle cx="376.2" cy="258.9"/><circle cx="339.5" cy="166.6"/><circle cx="256.9" cy="179.4"/><circle cx="333.9" cy="224.7"/><circle cx="276.1" cy="187.4"/><circle cx="323.8" cy="190.1"/><circle cx="219.2" cy="187.3"/><circle cx="98.8" cy="337.3"/><circle cx="352.7" cy="127.2"/><circle cx="359.8" cy="251.9"/><circle cx="214.6" cy="347.2"/><circle cx="103.3" cy="340.3"/><circle cx="256.1" cy="160.6"/><circle cx="169.2" cy="231.4"/><circle cx="265.7" cy="185.2"/><circle cx="332.1" cy="333.7"/><circle cx="362.3" cy="269.0"/><circle cx="360.4" cy="281.3"/><circle cx="214.7" cy="203.1"/><circle cx="355.2" cy="267.5"/><circle cx="92.8" cy="334.9"/><circle cx="360.1" cy="208.1"/><circle cx="329.3" cy="195.7"/><circle cx="186.0" cy="208.8"/><circle cx="370.9" cy="298.7"/><circle cx="334.1" cy="311.4"/><circle cx="360.1" cy="255.5"/><circle cx="204.8" cy="346.8"/><circle cx="311.4" cy="176.0"/><circle cx="330.5" cy="330.5"/><circle cx="240.8" cy="189.5"/><circle cx="400.5" cy="306.5"/><circle cx="304.9" cy="171.6"/><circle cx="363.2" cy="267.9"/><circle cx="300.1" cy="183.7"/><circle cx="367.5" cy="240.2"/><circle cx="236.5" cy="204.3"/><circle cx="278.5" cy="172.6"/><circle cx="297.7" cy="170.5"/><circle cx="344.7" cy="178.6"/><circle cx="191.6" cy="205.5"/><circle cx="365.2" cy="259.2"/><circle cx="325.5" cy="330.2"/><circle cx="351.5" cy="296.0"/><circle cx="350.5" cy="278.3"/><circle cx="168.2" cy="216.9"/><circle cx="345.9" cy="306.9"/><circle cx="262.9" cy="338.6"/><circle cx="277.5" cy="145.1"/><circle cx="388.3" cy="250.3"/><circle cx="155.5" cy="252.3"/><circle cx="388.9" cy="158.7"/><circle cx="188.4" cy="214.2"/><circle cx="282.1" cy="188.7"/><circle cx="135.6" cy="280.7"/><circle cx="346.0" cy="236.1"/><circle cx="232.1" cy="346.2"/><circle cx="351.1" cy="261.9"/><circle cx="143.3" cy="275.6"/><circle cx="375.3" cy="261.2"/><circle cx="301.4" cy="338.6"/><circle cx="306.2" cy="155.9"/><circle cx="274.6" cy="180.7"/><circle cx="344.7" cy="289.9"/><circle cx="353.9" cy="288.6"/><circle cx="382.5" cy="270.8"/><circle cx="97.7" cy="329.6"/><circle cx="235.3" cy="191.8"/><circle cx="283.0" cy="337.1"/><circle cx="229.5" cy="163.6"/><circle cx="334.5" cy="155.7"/><circle cx="324.3" cy="140.2"/><circle cx="391.0" cy="205.8"/><circle cx="345.8" cy="139.3"/><circle cx="194.5" cy="200.9"/><circle cx="215.0" cy="194.7"/><circle cx="352.9" cy="191.3"/><circle cx="150.6" cy="259.5"/><circle cx="318.2" cy="146.5"/><circle cx="226.9" cy="166.0"/><circle cx="230.6" cy="195.7"/><circle cx="302.3" cy="161.9"/><circle cx="314.9" cy="174.8"/><circle cx="333.1" cy="222.6"/><circle cx="361.8" cy="271.0"/><circle cx="376.7" cy="264.7"/><circle cx="324.6" cy="330.6"/><circle cx="257.3" cy="186.9"/><circle cx="321.8" cy="192.2"/><circle cx="351.5" cy="305.3"/><circle cx="206.6" cy="191.5"/><circle cx="332.2" cy="176.2"/><circle cx="173.0" cy="223.0"/><circle cx="308.2" cy="179.5"/><circle cx="213.9" cy="184.6"/><circle cx="343.4" cy="318.7"/><circle cx="372.8" cy="282.2"/><circle cx="326.1" cy="206.7"/><circle cx="362.1" cy="166.6"/><circle cx="379.5" cy="306.9"/><circle cx="322.0" cy="169.7"/><circle cx="285.3" cy="186.1"/><circle cx="223.4" cy="346.8"/><circle cx="96.6" cy="325.5"/><circle cx="359.6" cy="255.0"/><circle cx="190.0" cy="212.8"/><circle cx="226.7" cy="183.5"/><circle cx="258.9" cy="185.3"/><circle cx="109.7" cy="339.3"/><circle cx="380.2" cy="222.8"/><circle cx="233.5" cy="196.8"/><circle cx="332.0" cy="318.2"/><circle cx="333.4" cy="148.9"/><circle cx="290.5" cy="183.4"/><circle cx="349.0" cy="182.4"/><circle cx="262.6" cy="198.2"/><circle cx="232.0" cy="163.0"/><circle cx="351.7" cy="202.3"/><circle cx="356.0" cy="257.7"/><circle cx="133.3" cy="345.1"/><circle cx="107.5" cy="314.5"/><circle cx="258.2" cy="186.3"/><circle cx="342.7" cy="165.1"/><circle cx="369.8" cy="282.6"/><circle cx="341.3" cy="300.1"/><circle cx="284.8" cy="180.4"/><circle cx="359.4" cy="288.3"/><circle cx="332.7" cy="153.1"/><circle cx="277.2" cy="182.7"/><circle cx="226.5" cy="186.2"/><circle cx="157.2" cy="249.5"/><circle cx="256.6" cy="140.6"/><circle cx="352.8" cy="153.5"/><circle cx="222.0" cy="197.1"/><circle cx="264.1" cy="182.9"/><circle cx="334.8" cy="235.7"/><circle cx="327.9" cy="192.3"/><circle cx="353.7" cy="163.6"/><circle cx="259.1" cy="197.5"/><circle cx="132.6" cy="283.8"/><circle cx="377.2" cy="240.4"/><circle cx="342.9" cy="325.8"/><circle cx="333.7" cy="114.5"/><circle cx="305.3" cy="139.6"/><circle cx="326.8" cy="199.1"/><circle cx="377.8" cy="267.8"/><circle cx="398.5" cy="287.3"/><circle cx="360.9" cy="266.1"/><circle cx="355.5" cy="256.4"/><circle cx="220.8" cy="197.9"/><circle cx="258.6" cy="199.1"/><circle cx="251.2" cy="344.1"/><circle cx="348.6" cy="236.5"/><circle cx="210.1" cy="347.5"/><circle cx="224.7" cy="341.8"/><circle cx="301.2" cy="167.3"/><circle cx="270.4" cy="180.4"/><circle cx="159.9" cy="246.8"/><circle cx="336.6" cy="189.1"/><circle cx="282.9" cy="171.3"/><circle cx="302.1" cy="176.8"/><circle cx="345.7" cy="183.5"/><circle cx="250.7" cy="181.1"/><circle cx="210.5" cy="341.7"/><circle cx="333.7" cy="333.3"/><circle cx="357.9" cy="209.7"/><circle cx="338.6" cy="133.9"/><circle cx="218.9" cy="194.4"/><circle cx="172.3" cy="345.3"/><circle cx="253.8" cy="169.4"/><circle cx="398.7" cy="190.9"/><circle cx="109.2" cy="309.7"/><circle cx="346.6" cy="322.0"/><circle cx="228.0" cy="341.9"/><circle cx="304.1" cy="342.7"/><circle cx="306.2" cy="120.7"/><circle cx="326.0" cy="196.1"/><circle cx="363.2" cy="228.3"/><circle cx="243.4" cy="342.1"/><circle cx="311.6" cy="175.0"/><circle cx="119.0" cy="293.5"/><circle cx="364.1" cy="151.5"/><circle cx="341.6" cy="321.3"/><circle cx="300.7" cy="336.7"/><circle cx="199.4" cy="344.4"/><circle cx="224.7" cy="191.9"/><circle cx="330.5" cy="337.4"/><circle cx="288.3" cy="152.9"/><circle cx="362.4" cy="243.8"/><circle cx="380.9" cy="224.6"/><circle cx="355.5" cy="196.9"/><circle cx="173.4" cy="228.2"/><circle cx="376.5" cy="252.1"/><circle cx="382.0" cy="170.5"/><circle cx="363.0" cy="288.8"/><circle cx="367.5" cy="165.9"/><circle cx="257.5" cy="180.8"/><circle cx="378.9" cy="197.2"/><circle cx="339.4" cy="318.2"/><circle cx="311.5" cy="166.5"/><circle cx="317.1" cy="157.9"/><circle cx="265.0" cy="175.6"/><circle cx="355.6" cy="204.2"/><circle cx="381.1" cy="216.5"/><circle cx="134.1" cy="283.1"/><circle cx="343.0" cy="325.1"/><circle cx="129.2" cy="287.9"/><circle cx="388.7" cy="282.0"/><circle cx="338.3" cy="219.0"/><circle cx="117.8" cy="345.3"/><circle cx="368.7" cy="238.8"/><circle cx="261.5" cy="187.5"/><circle cx="332.8" cy="216.5"/><circle cx="217.0" cy="198.7"/><circle cx="134.3" cy="287.3"/><circle cx="366.9" cy="295.1"/><circle cx="350.4" cy="294.7"/><circle cx="385.9" cy="201.1"/><circle cx="334.4" cy="219.0"/><circle cx="172.4" cy="227.0"/><circle cx="196.1" cy="201.9"/><circle cx="182.7" cy="222.8"/><circle cx="149.8" cy="266.7"/><circle cx="116.5" cy="340.2"/><circle cx="381.8" cy="260.1"/><circle cx="301.5" cy="178.2"/><circle cx="336.9" cy="313.8"/><circle cx="151.2" cy="264.3"/><circle cx="390.1" cy="299.0"/><circle cx="159.4" cy="245.1"/><circle cx="333.7" cy="228.7"/><circle cx="281.0" cy="193.6"/><circle cx="222.2" cy="200.8"/><circle cx="383.4" cy="312.4"/><circle cx="259.2" cy="183.0"/><circle cx="166.6" cy="341.3"/><circle cx="192.1" cy="201.0"/><circle cx="236.9" cy="192.8"/><circle cx="330.4" cy="185.8"/><circle cx="118.6" cy="302.1"/><circle cx="179.1" cy="219.9"/><circle cx="128.5" cy="287.9"/><circle cx="106.4" cy="341.5"/><circle cx="385.5" cy="181.6"/><circle cx="290.2" cy="342.0"/><circle cx="372.4" cy="272.6"/><circle cx="251.8" cy="339.3"/><circle cx="340.4" cy="149.9"/><circle cx="336.7" cy="238.8"/><circle cx="279.2" cy="183.8"/><circle cx="368.2" cy="276.1"/><circle cx="275.1" cy="337.5"/><circle cx="390.4" cy="271.8"/><circle cx="326.9" cy="321.2"/><circle cx="313.1" cy="165.8"/><circle cx="323.1" cy="167.9"/><circle cx="317.9" cy="156.5"/><circle cx="326.9" cy="157.2"/><circle cx="111.6" cy="309.3"/><circle cx="300.1" cy="133.9"/><circle cx="340.5" cy="219.1"/><circle cx="220.8" cy="204.2"/><circle cx="104.0" cy="338.5"/><circle cx="354.2" cy="145.5"/><circle cx="224.1" cy="170.1"/><circle cx="296.1" cy="130.1"/><circle cx="367.1" cy="264.0"/><circle cx="388.5" cy="178.0"/><circle cx="329.7" cy="333.9"/><circle cx="154.3" cy="246.5"/><circle cx="302.8" cy="174.9"/><circle cx="195.3" cy="347.2"/><circle cx="357.1" cy="236.7"/><circle cx="239.1" cy="154.5"/><circle cx="326.9" cy="196.2"/><circle cx="364.5" cy="265.5"/><circle cx="132.0" cy="284.4"/><circle cx="359.4" cy="232.3"/><circle cx="266.1" cy="151.7"/><circle cx="339.9" cy="222.3"/><circle cx="388.6" cy="185.5"/><circle cx="318.8" cy="168.5"/><circle cx="363.4" cy="296.9"/><circle cx="372.5" cy="245.9"/><circle cx="273.4" cy="157.4"/><circle cx="301.9" cy="150.0"/><circle cx="342.5" cy="173.9"/><circle cx="241.1" cy="185.7"/><circle cx="350.7" cy="214.1"/><circle cx="101.2" cy="335.4"/><circle cx="333.9" cy="318.9"/><circle cx="330.7" cy="208.1"/><circle cx="367.8" cy="228.6"/><circle cx="351.1" cy="315.0"/><circle cx="289.6" cy="339.1"/><circle cx="368.4" cy="250.3"/><circle cx="389.4" cy="280.9"/><circle cx="332.8" cy="239.6"/><circle cx="219.6" cy="342.8"/><circle cx="333.3" cy="186.0"/><circle cx="335.3" cy="187.4"/><circle cx="356.9" cy="200.3"/><circle cx="237.7" cy="197.7"/><circle cx="350.8" cy="315.9"/><circle cx="331.5" cy="203.5"/><circle cx="365.2" cy="311.6"/><circle cx="394.4" cy="235.8"/><circle cx="367.7" cy="272.5"/><circle cx="261.6" cy="171.2"/><circle cx="207.6" cy="192.1"/><circle cx="262.7" cy="198.7"/><circle cx="381.2" cy="247.4"/><circle cx="363.5" cy="184.0"/><circle cx="275.9" cy="339.1"/><circle cx="306.1" cy="187.0"/><circle cx="332.5" cy="237.9"/><circle cx="350.1" cy="293.2"/><circle cx="345.5" cy="284.9"/><circle cx="381.8" cy="237.4"/><circle cx="288.9" cy="165.3"/><circle cx="360.0" cy="146.4"/><circle cx="322.8" cy="129.3"/><circle cx="342.1" cy="312.0"/><circle cx="343.1" cy="322.8"/><circle cx="364.7" cy="278.0"/><circle cx="313.1" cy="149.1"/><circle cx="359.4" cy="219.6"/><circle cx="349.8" cy="254.3"/><circle cx="216.5" cy="345.3"/><circle cx="331.7" cy="172.5"/><circle cx="369.3" cy="274.2"/><circle cx="344.5" cy="221.0"/><circle cx="121.2" cy="342.4"/><circle cx="346.7" cy="199.4"/><circle cx="340.5" cy="154.6"/><circle cx="353.9" cy="271.5"/><circle cx="213.1" cy="202.6"/><circle cx="354.8" cy="258.5"/><circle cx="277.2" cy="170.8"/><circle cx="330.8" cy="332.0"/><circle cx="335.5" cy="112.6"/><circle cx="329.3" cy="332.6"/><circle cx="349.3" cy="197.1"/><circle cx="254.0" cy="179.7"/><circle cx="364.7" cy="230.1"/><circle cx="338.0" cy="240.4"/><circle cx="242.7" cy="193.2"/><circle cx="247.1" cy="342.6"/><circle cx="196.0" cy="193.5"/><circle cx="365.6" cy="278.4"/><circle cx="387.6" cy="303.4"/><circle cx="364.1" cy="262.8"/><circle cx="365.3" cy="321.7"/><circle cx="180.8" cy="345.9"/><circle cx="361.8" cy="163.0"/><circle cx="341.1" cy="231.6"/><circle cx="274.0" cy="190.3"/><circle cx="358.4" cy="233.8"/><circle cx="349.8" cy="260.7"/><circle cx="278.0" cy="174.5"/><circle cx="347.7" cy="322.8"/><circle cx="369.4" cy="258.1"/><circle cx="358.4" cy="236.1"/><circle cx="149.6" cy="271.2"/><circle cx="356.5" cy="322.6"/><circle cx="356.4" cy="297.4"/><circle cx="387.1" cy="198.6"/><circle cx="200.7" cy="191.0"/><circle cx="336.6" cy="211.1"/><circle cx="218.4" cy="190.1"/><circle cx="349.7" cy="123.4"/><circle cx="352.1" cy="278.5"/><circle cx="264.6" cy="179.4"/><circle cx="331.9" cy="212.8"/><circle cx="329.7" cy="232.0"/><circle cx="308.1" cy="122.4"/><circle cx="338.6" cy="219.5"/><circle cx="124.7" cy="345.0"/><circle cx="380.9" cy="210.6"/><circle cx="360.9" cy="252.4"/><circle cx="270.7" cy="178.5"/><circle cx="95.6" cy="326.3"/><circle cx="103.2" cy="324.2"/><circle cx="213.9" cy="197.3"/><circle cx="349.9" cy="248.9"/><circle cx="225.1" cy="193.9"/><circle cx="264.3" cy="186.2"/><circle cx="155.0" cy="258.5"/><circle cx="342.7" cy="134.1"/><circle cx="236.5" cy="160.9"/><circle cx="314.4" cy="336.6"/><circle cx="268.7" cy="190.4"/><circle cx="194.8" cy="198.8"/><circle cx="287.2" cy="178.4"/><circle cx="196.4" cy="196.4"/><circle cx="384.2" cy="163.2"/><circle cx="362.7" cy="218.1"/><circle cx="340.4" cy="157.7"/><circle cx="382.1" cy="210.9"/><circle cx="350.2" cy="265.6"/><circle cx="267.0" cy="197.1"/><circle cx="191.5" cy="207.3"/><circle cx="344.3" cy="290.7"/><circle cx="339.6" cy="324.3"/><circle cx="182.5" cy="346.4"/><circle cx="333.8" cy="196.6"/><circle cx="334.1" cy="311.2"/><circle cx="302.1" cy="145.7"/><circle cx="145.3" cy="247.9"/><circle cx="322.1" cy="188.3"/><circle cx="360.5" cy="232.7"/><circle cx="246.4" cy="188.8"/><circle cx="355.4" cy="239.5"/><circle cx="275.8" cy="182.5"/><circle cx="322.3" cy="190.4"/><circle cx="358.1" cy="214.3"/><circle cx="366.6" cy="272.5"/><circle cx="351.5" cy="251.8"/><circle cx="327.3" cy="334.7"/><circle cx="110.3" cy="316.9"/><circle cx="320.7" cy="132.5"/><circle cx="360.4" cy="139.7"/><circle cx="266.4" cy="170.1"/><circle cx="283.7" cy="168.7"/><circle cx="337.6" cy="333.1"/><circle cx="301.5" cy="178.8"/><circle cx="354.7" cy="298.2"/><circle cx="234.5" cy="187.0"/><circle cx="327.1" cy="328.6"/><circle cx="343.5" cy="221.5"/><circle cx="330.8" cy="240.1"/><circle cx="324.4" cy="334.4"/><circle cx="362.8" cy="156.3"/><circle cx="267.6" cy="153.1"/><circle cx="368.8" cy="282.1"/><circle cx="117.9" cy="306.1"/><circle cx="351.7" cy="156.1"/><circle cx="321.8" cy="326.7"/><circle cx="249.1" cy="175.2"/><circle cx="305.9" cy="170.0"/><circle cx="340.9" cy="196.3"/><circle cx="325.4" cy="119.0"/><circle cx="284.6" cy="192.4"/><circle cx="210.3" cy="187.8"/><circle cx="368.5" cy="249.0"/><circle cx="251.0" cy="190.4"/><circle cx="313.3" cy="336.4"/><circle cx="317.7" cy="116.3"/><circle cx="372.3" cy="188.0"/><circle cx="242.3" cy="200.5"/><circle cx="336.4" cy="322.7"/><circle cx="346.2" cy="251.6"/><circle cx="293.4" cy="185.8"/><circle cx="296.9" cy="181.0"/><circle cx="351.6" cy="195.0"/><circle cx="281.8" cy="180.9"/><circle cx="325.2" cy="204.4"/><circle cx="387.2" cy="188.9"/><circle cx="264.0" cy="341.3"/><circle cx="308.6" cy="182.7"/><circle cx="244.8" cy="192.5"/><circle cx="395.6" cy="256.2"/><circle cx="377.1" cy="221.6"/><circle cx="350.2" cy="188.8"/><circle cx="339.6" cy="323.8"/><circle cx="342.9" cy="244.5"/><circle cx="333.1" cy="207.6"/><circle cx="336.7" cy="323.6"/><circle cx="212.3" cy="204.0"/><circle cx="216.8" cy="204.4"/><circle cx="390.4" cy="276.5"/><circle cx="343.2" cy="248.1"/><circle cx="112.0" cy="339.7"/><circle cx="101.1" cy="322.7"/><circle cx="367.9" cy="270.4"/><circle cx="381.6" cy="173.6"/><circle cx="286.5" cy="148.2"/><circle cx="370.7" cy="172.4"/><circle cx="351.9" cy="173.1"/><circle cx="286.1" cy="164.9"/><circle cx="122.9" cy="295.9"/><circle cx="355.5" cy="236.9"/><circle cx="313.0" cy="165.1"/><circle cx="356.6" cy="260.9"/><circle cx="378.0" cy="254.8"/><circle cx="339.6" cy="241.5"/><circle cx="356.6" cy="166.2"/><circle cx="330.0" cy="152.9"/><circle cx="231.4" cy="346.5"/><circle cx="327.2" cy="204.6"/><circle cx="289.2" cy="340.2"/><circle cx="95.6" cy="331.9"/><circle cx="285.5" cy="194.3"/><circle cx="155.1" cy="256.1"/><circle cx="365.5" cy="267.2"/><circle cx="327.4" cy="167.4"/><circle cx="382.8" cy="271.8"/><circle cx="331.1" cy="171.1"/><circle cx="291.5" cy="175.9"/><circle cx="325.0" cy="141.9"/><circle cx="132.9" cy="289.6"/><circle cx="361.6" cy="230.8"/><circle cx="261.9" cy="340.6"/><circle cx="210.7" cy="198.4"/><circle cx="138.0" cy="285.1"/><circle cx="296.0" cy="133.2"/><circle cx="347.9" cy="297.2"/><circle cx="330.7" cy="319.7"/><circle cx="247.2" cy="344.1"/><circle cx="350.0" cy="262.5"/><circle cx="155.3" cy="249.8"/><circle cx="338.6" cy="305.2"/><circle cx="342.7" cy="161.1"/><circle cx="376.9" cy="288.4"/><circle cx="349.4" cy="251.8"/><circle cx="347.6" cy="170.5"/><circle cx="87.4" cy="336.1"/><circle cx="171.6" cy="344.4"/><circle cx="343.8" cy="243.4"/><circle cx="279.8" cy="341.3"/><circle cx="311.0" cy="159.3"/><circle cx="145.8" cy="345.6"/><circle cx="111.9" cy="343.3"/><circle cx="218.0" cy="195.6"/><circle cx="219.0" cy="175.7"/><circle cx="233.0" cy="194.1"/><circle cx="373.2" cy="230.4"/><circle cx="353.1" cy="217.6"/><circle cx="347.1" cy="317.8"/><circle cx="362.3" cy="256.8"/><circle cx="129.2" cy="292.7"/><circle cx="282.2" cy="193.2"/><circle cx="292.8" cy="139.3"/><circle cx="335.7" cy="232.6"/><circle cx="336.7" cy="194.4"/><circle cx="296.6" cy="151.3"/><circle cx="264.9" cy="338.7"/><circle cx="311.0" cy="174.9"/><circle cx="338.7" cy="236.8"/><circle cx="334.2" cy="310.2"/><circle cx="337.8" cy="223.2"/><circle cx="355.7" cy="278.8"/><circle cx="363.1" cy="261.7"/><circle cx="362.1" cy="284.8"/><circle cx="264.2" cy="198.3"/><circle cx="157.4" cy="253.9"/><circle cx="297.1" cy="174.3"/><circle cx="387.8" cy="253.5"/><circle cx="236.7" cy="169.2"/><circle cx="354.6" cy="216.5"/><circle cx="329.8" cy="233.4"/><circle cx="151.1" cy="258.3"/><circle cx="349.9" cy="249.0"/><circle cx="322.8" cy="137.9"/><circle cx="350.5" cy="280.7"/><circle cx="218.7" cy="201.8"/><circle cx="348.6" cy="245.6"/><circle cx="142.0" cy="272.8"/><circle cx="320.3" cy="147.7"/><circle cx="342.5" cy="228.5"/><circle cx="228.7" cy="182.7"/><circle cx="358.8" cy="288.3"/><circle cx="379.1" cy="293.1"/><circle cx="366.8" cy="233.3"/><circle cx="354.3" cy="289.4"/><circle cx="375.4" cy="247.6"/><circle cx="384.1" cy="265.7"/><circle cx="391.8" cy="290.9"/><circle cx="268.6" cy="182.5"/><circle cx="276.8" cy="339.8"/><circle cx="340.4" cy="204.1"/><circle cx="366.8" cy="285.4"/><circle cx="358.1" cy="285.2"/><circle cx="354.5" cy="191.7"/><circle cx="344.5" cy="232.1"/><circle cx="332.7" cy="186.3"/><circle cx="298.6" cy="338.2"/><circle cx="337.3" cy="198.5"/><circle cx="387.7" cy="180.9"/><circle cx="260.1" cy="186.1"/><circle cx="370.6" cy="192.5"/><circle cx="226.8" cy="196.9"/><circle cx="338.0" cy="164.5"/><circle cx="350.1" cy="255.2"/><circle cx="341.7" cy="294.1"/><circle cx="285.1" cy="123.5"/><circle cx="312.7" cy="173.7"/><circle cx="300.8" cy="188.7"/><circle cx="178.0" cy="227.7"/><circle cx="315.3" cy="133.3"/><circle cx="350.6" cy="342.2"/><circle cx="339.0" cy="332.4"/><circle cx="304.7" cy="339.9"/><circle cx="288.8" cy="190.7"/><circle cx="227.2" cy="169.6"/><circle cx="366.0" cy="317.2"/><circle cx="259.2" cy="191.3"/><circle cx="228.4" cy="204.2"/><circle cx="251.5" cy="190.7"/><circle cx="199.3" cy="202.1"/><circle cx="331.1" cy="330.9"/><circle cx="386.6" cy="219.8"/><circle cx="388.1" cy="249.8"/><circle cx="378.1" cy="310.6"/><circle cx="267.7" cy="174.4"/><circle cx="328.7" cy="183.3"/><circle cx="241.7" cy="189.2"/><circle cx="347.9" cy="302.8"/><circle cx="283.8" cy="188.6"/><circle cx="353.6" cy="115.4"/><circle cx="340.9" cy="204.6"/><circle cx="337.7" cy="333.1"/><circle cx="351.8" cy="153.8"/><circle cx="329.8" cy="200.7"/><circle cx="96.2" cy="324.1"/><circle cx="283.9" cy="178.8"/><circle cx="309.7" cy="126.2"/><circle cx="229.3" cy="195.1"/><circle cx="387.9" cy="276.1"/><circle cx="345.7" cy="229.0"/><circle cx="335.5" cy="319.1"/><circle cx="146.1" cy="270.1"/><circle cx="310.3" cy="146.6"/><circle cx="242.7" cy="181.6"/><circle cx="365.1" cy="286.2"/><circle cx="274.8" cy="172.5"/><circle cx="177.5" cy="220.2"/><circle cx="332.4" cy="202.7"/><circle cx="250.3" cy="188.6"/><circle cx="209.1" cy="181.0"/><circle cx="284.3" cy="185.9"/><circle cx="358.3" cy="216.9"/><circle cx="238.5" cy="186.2"/><circle cx="352.9" cy="263.0"/><circle cx="380.4" cy="162.4"/><circle cx="267.4" cy="171.9"/><circle cx="341.1" cy="151.8"/><circle cx="150.8" cy="269.8"/><circle cx="122.0" cy="297.3"/><circle cx="283.3" cy="191.2"/><circle cx="377.6" cy="147.3"/><circle cx="335.3" cy="183.2"/><circle cx="363.9" cy="277.6"/><circle cx="117.7" cy="299.2"/><circle cx="295.3" cy="176.4"/><circle cx="260.2" cy="186.0"/><circle cx="363.1" cy="280.2"/><circle cx="270.1" cy="168.4"/><circle cx="385.0" cy="303.8"/><circle cx="290.1" cy="152.9"/><circle cx="323.2" cy="339.7"/><circle cx="111.1" cy="344.6"/><circle cx="347.0" cy="139.0"/><circle cx="110.4" cy="341.7"/><circle cx="174.3" cy="223.5"/><circle cx="365.3" cy="287.3"/><circle cx="336.8" cy="237.3"/><circle cx="237.5" cy="172.6"/><circle cx="353.6" cy="273.0"/><circle cx="242.4" cy="197.5"/><circle cx="382.9" cy="303.3"/><circle cx="295.6" cy="172.8"/><circle cx="369.0" cy="281.4"/><circle cx="357.4" cy="120.4"/><circle cx="366.9" cy="193.1"/><circle cx="306.6" cy="146.3"/><circle cx="371.8" cy="154.5"/><circle cx="189.5" cy="345.5"/><circle cx="264.0" cy="197.1"/><circle cx="280.7" cy="181.3"/><circle cx="331.6" cy="231.4"/><circle cx="256.1" cy="341.1"/><circle cx="114.5" cy="308.2"/><circle cx="125.3" cy="297.7"/><circle cx="343.9" cy="243.7"/><circle cx="366.4" cy="262.8"/><circle cx="321.8" cy="342.1"/><circle cx="381.8" cy="293.6"/><circle cx="330.6" cy="213.0"/><circle cx="285.0" cy="161.6"/><circle cx="335.2" cy="188.0"/><circle cx="305.5" cy="185.5"/><circle cx="119.9" cy="305.1"/><circle cx="338.8" cy="237.6"/><circle cx="304.2" cy="153.1"/><circle cx="218.2" cy="344.4"/><circle cx="262.4" cy="194.0"/><circle cx="252.3" cy="195.1"/><circle cx="380.2" cy="220.0"/><circle cx="280.3" cy="196.7"/><circle cx="314.3" cy="177.1"/><circle cx="378.0" cy="236.5"/><circle cx="284.7" cy="176.6"/><circle cx="233.5" cy="184.3"/><circle cx="209.6" cy="202.0"/><circle cx="356.5" cy="280.5"/><circle cx="295.3" cy="138.1"/><circle cx="341.8" cy="219.3"/><circle cx="369.7" cy="252.5"/><circle cx="275.7" cy="137.2"/><circle cx="172.4" cy="228.7"/><circle cx="95.5" cy="331.3"/><circle cx="151.3" cy="250.1"/><circle cx="139.0" cy="280.7"/><circle cx="231.8" cy="343.7"/><circle cx="334.4" cy="320.5"/><circle cx="362.8" cy="293.8"/><circle cx="348.0" cy="310.9"/><circle cx="358.3" cy="249.2"/><circle cx="251.9" cy="343.7"/><circle cx="397.1" cy="155.3"/><circle cx="368.6" cy="298.4"/><circle cx="355.8" cy="161.4"/><circle cx="232.3" cy="344.4"/><circle cx="239.1" cy="192.7"/><circle cx="360.8" cy="278.8"/><circle cx="123.4" cy="346.7"/><circle cx="361.4" cy="231.3"/><circle cx="385.8" cy="274.0"/><circle cx="344.5" cy="288.7"/><circle cx="356.6" cy="206.3"/><circle cx="348.6" cy="222.1"/><circle cx="277.7" cy="163.9"/><circle cx="393.7" cy="190.9"/><circle cx="317.8" cy="183.3"/><circle cx="354.2" cy="129.8"/><circle cx="105.7" cy="339.0"/><circle cx="214.1" cy="191.7"/><circle cx="367.7" cy="226.8"/><circle cx="229.2" cy="192.9"/><circle cx="327.8" cy="210.0"/><circle cx="301.4" cy="342.1"/><circle cx="378.0" cy="247.5"/><circle cx="376.6" cy="171.0"/><circle cx="233.2" cy="201.7"/><circle cx="298.7" cy="121.0"/><circle cx="334.2" cy="201.3"/><circle cx="368.8" cy="279.9"/><circle cx="349.8" cy="300.6"/><circle cx="248.9" cy="192.1"/><circle cx="233.4" cy="171.0"/><circle cx="227.7" cy="150.5"/><circle cx="353.1" cy="294.4"/><circle cx="150.3" cy="346.6"/><circle cx="298.4" cy="338.3"/><circle cx="339.7" cy="299.1"/><circle cx="328.1" cy="190.2"/><circle cx="179.3" cy="223.1"/><circle cx="276.8" cy="171.2"/><circle cx="155.4" cy="347.0"/><circle cx="248.9" cy="184.4"/><circle cx="363.2" cy="294.0"/><circle cx="339.0" cy="174.3"/><circle cx="355.5" cy="239.4"/><circle cx="277.1" cy="169.6"/><circle cx="212.4" cy="190.1"/><circle cx="261.5" cy="165.0"/><circle cx="347.5" cy="146.5"/><circle cx="365.7" cy="260.9"/><circle cx="361.3" cy="295.1"/><circle cx="271.0" cy="338.5"/><circle cx="215.2" cy="204.9"/><circle cx="335.4" cy="194.1"/><circle cx="270.2" cy="186.5"/><circle cx="187.0" cy="216.3"/><circle cx="336.2" cy="230.8"/><circle cx="353.3" cy="185.8"/><circle cx="364.4" cy="187.9"/><circle cx="346.8" cy="178.3"/><circle cx="333.6" cy="326.9"/><circle cx="305.5" cy="178.8"/><circle cx="330.3" cy="337.4"/><circle cx="100.2" cy="336.5"/><circle cx="323.9" cy="183.4"/><circle cx="389.6" cy="263.8"/><circle cx="370.8" cy="153.0"/><circle cx="322.7" cy="185.7"/><circle cx="297.5" cy="183.3"/><circle cx="257.5" cy="190.0"/><circle cx="331.5" cy="126.7"/><circle cx="383.3" cy="295.3"/><circle cx="94.1" cy="330.6"/><circle cx="123.0" cy="345.5"/><circle cx="328.6" cy="179.3"/><circle cx="224.0" cy="203.1"/><circle cx="325.7" cy="162.0"/><circle cx="258.1" cy="195.2"/><circle cx="240.3" cy="191.4"/><circle cx="306.4" cy="124.7"/><circle cx="356.8" cy="277.9"/><circle cx="304.0" cy="175.1"/><circle cx="371.3" cy="289.2"/><circle cx="338.7" cy="331.0"/><circle cx="302.4" cy="172.6"/><circle cx="351.9" cy="201.0"/><circle cx="361.6" cy="149.2"/><circle cx="280.4" cy="179.2"/><circle cx="335.9" cy="229.6"/><circle cx="131.8" cy="344.9"/><circle cx="105.1" cy="316.5"/><circle cx="359.4" cy="273.2"/><circle cx="335.2" cy="324.0"/><circle cx="338.1" cy="202.9"/><circle cx="301.2" cy="170.7"/><circle cx="351.6" cy="289.0"/><circle cx="224.6" cy="188.4"/><circle cx="237.8" cy="345.9"/><circle cx="335.1" cy="209.2"/><circle cx="366.1" cy="154.9"/><circle cx="331.8" cy="218.2"/><circle cx="316.8" cy="150.4"/><circle cx="330.4" cy="170.2"/><circle cx="243.9" cy="184.7"/><circle cx="398.7" cy="208.1"/><circle cx="365.0" cy="208.3"/><circle cx="330.6" cy="212.3"/><circle cx="353.7" cy="280.4"/><circle cx="352.4" cy="312.3"/><circle cx="338.4" cy="216.4"/><circle cx="175.4" cy="223.3"/><circle cx="356.3" cy="249.3"/><circle cx="274.8" cy="170.7"/><circle cx="349.7" cy="178.3"/><circle cx="332.3" cy="228.7"/><circle cx="324.8" cy="329.1"/><circle cx="188.3" cy="206.2"/><circle cx="125.1" cy="294.5"/><circle cx="355.0" cy="256.4"/><circle cx="242.3" cy="197.6"/><circle cx="351.3" cy="224.0"/><circle cx="376.2" cy="243.1"/><circle cx="327.3" cy="196.9"/><circle cx="375.7" cy="238.7"/><circle cx="327.9" cy="176.6"/><circle cx="251.2" cy="183.4"/><circle cx="345.9" cy="231.7"/><circle cx="352.4" cy="169.5"/><circle cx="358.5" cy="308.9"/><circle cx="364.6" cy="216.1"/><circle cx="177.8" cy="345.4"/><circle cx="291.0" cy="137.4"/><circle cx="286.4" cy="167.5"/><circle cx="235.1" cy="202.5"/><circle cx="357.1" cy="271.8"/><circle cx="253.3" cy="187.1"/><circle cx="233.1" cy="203.8"/><circle cx="260.3" cy="191.2"/><circle cx="106.9" cy="317.6"/><circle cx="246.9" cy="188.9"/><circle cx="350.9" cy="325.6"/><circle cx="241.6" cy="148.3"/><circle cx="141.5" cy="273.9"/><circle cx="117.7" cy="341.5"/><circle cx="356.2" cy="292.2"/><circle cx="352.3" cy="233.7"/><circle cx="370.8" cy="223.6"/><circle cx="263.1" cy="344.1"/><circle cx="344.1" cy="193.1"/><circle cx="318.1" cy="336.7"/><circle cx="356.9" cy="259.4"/><circle cx="300.7" cy="340.6"/><circle cx="394.4" cy="273.9"/><circle cx="363.2" cy="297.4"/><circle cx="191.2" cy="207.9"/><circle cx="281.1" cy="343.5"/><circle cx="334.1" cy="211.0"/><circle cx="391.3" cy="281.6"/><circle cx="328.7" cy="329.0"/><circle cx="381.1" cy="250.0"/><circle cx="148.5" cy="344.9"/><circle cx="373.8" cy="226.6"/><circle cx="192.3" cy="196.0"/><circle cx="237.7" cy="197.0"/><circle cx="245.8" cy="340.5"/><circle cx="364.5" cy="216.6"/><circle cx="374.7" cy="237.2"/><circle cx="339.1" cy="213.9"/><circle cx="351.2" cy="202.7"/><circle cx="230.7" cy="197.2"/><circle cx="388.4" cy="222.5"/><circle cx="368.0" cy="242.4"/><circle cx="324.0" cy="142.2"/><circle cx="127.4" cy="287.4"/><circle cx="218.8" cy="204.1"/><circle cx="361.3" cy="304.7"/><circle cx="293.3" cy="180.4"/><circle cx="353.5" cy="279.4"/><circle cx="358.7" cy="278.3"/><circle cx="329.1" cy="335.9"/><circle cx="246.9" cy="340.2"/><circle cx="214.2" cy="196.7"/><circle cx="355.7" cy="269.9"/><circle cx="335.1" cy="314.2"/><circle cx="369.7" cy="262.4"/><circle cx="114.8" cy="340.3"/><circle cx="366.7" cy="278.8"/><circle cx="250.0" cy="339.7"/><circle cx="237.8" cy="340.5"/><circle cx="127.3" cy="289.8"/><circle cx="347.9" cy="248.4"/><circle cx="360.5" cy="158.2"/><circle cx="294.7" cy="171.0"/><circle cx="186.9" cy="206.1"/><circle cx="353.6" cy="268.8"/><circle cx="268.9" cy="339.1"/><circle cx="276.9" cy="182.1"/><circle cx="264.9" cy="171.2"/><circle cx="336.6" cy="306.8"/><circle cx="359.5" cy="256.2"/><circle cx="185.8" cy="350.3"/><circle cx="264.0" cy="165.5"/><circle cx="362.2" cy="291.9"/><circle cx="366.2" cy="243.8"/><circle cx="148.0" cy="264.0"/><circle cx="124.4" cy="298.3"/><circle cx="340.6" cy="251.9"/><circle cx="297.3" cy="336.1"/><circle cx="333.9" cy="175.4"/><circle cx="352.4" cy="228.2"/><circle cx="277.0" cy="175.3"/><circle cx="174.7" cy="223.7"/><circle cx="394.0" cy="267.0"/><circle cx="149.7" cy="345.5"/><circle cx="225.6" cy="202.1"/><circle cx="224.3" cy="199.1"/><circle cx="374.8" cy="274.4"/><circle cx="300.0" cy="136.9"/><circle cx="252.3" cy="181.9"/><circle cx="337.6" cy="215.6"/><circle cx="390.3" cy="231.6"/><circle cx="232.8" cy="176.8"/><circle cx="256.3" cy="170.9"/><circle cx="360.0" cy="263.0"/><circle cx="293.1" cy="184.6"/><circle cx="357.0" cy="274.3"/><circle cx="364.7" cy="226.9"/><circle cx="329.3" cy="185.5"/><circle cx="297.4" cy="175.7"/><circle cx="384.0" cy="255.9"/><circle cx="318.5" cy="180.1"/><circle cx="269.7" cy="159.4"/><circle cx="361.3" cy="226.2"/><circle cx="263.8" cy="339.3"/><circle cx="324.4" cy="206.6"/><circle cx="346.8" cy="241.6"/><circle cx="212.9" cy="186.6"/><circle cx="342.4" cy="323.4"/><circle cx="160.5" cy="240.5"/><circle cx="334.5" cy="204.9"/><circle cx="361.1" cy="210.7"/><circle cx="312.6" cy="341.0"/><circle cx="366.9" cy="258.6"/><circle cx="338.9" cy="198.9"/><circle cx="365.6" cy="280.2"/><circle cx="356.7" cy="306.7"/><circle cx="123.5" cy="345.2"/><circle cx="255.3" cy="184.0"/><circle cx="348.6" cy="310.0"/><circle cx="169.5" cy="341.4"/><circle cx="346.1" cy="235.8"/><circle cx="249.1" cy="339.4"/><circle cx="245.2" cy="188.9"/><circle cx="322.1" cy="334.0"/><circle cx="157.0" cy="241.9"/><circle cx="193.5" cy="346.6"/><circle cx="261.9" cy="188.1"/><circle cx="317.2" cy="178.6"/><circle cx="367.6" cy="268.4"/><circle cx="363.8" cy="229.1"/><circle cx="244.3" cy="344.5"/><circle cx="397.4" cy="278.9"/><circle cx="304.2" cy="337.6"/><circle cx="350.1" cy="164.9"/><circle cx="214.0" cy="197.6"/><circle cx="285.7" cy="146.0"/><circle cx="115.0" cy="304.1"/><circle cx="287.2" cy="337.8"/><circle cx="96.4" cy="333.1"/><circle cx="151.9" cy="263.1"/><circle cx="175.8" cy="227.4"/><circle cx="308.6" cy="337.8"/><circle cx="348.7" cy="241.9"/><circle cx="376.1" cy="152.3"/><circle cx="262.8" cy="188.2"/><circle cx="349.8" cy="151.3"/><circle cx="108.0" cy="316.8"/><circle cx="142.7" cy="274.7"/><circle cx="214.1" cy="344.7"/><circle cx="353.6" cy="299.9"/><circle cx="95.3" cy="336.8"/><circle cx="303.3" cy="169.5"/><circle cx="305.4" cy="154.7"/><circle cx="353.8" cy="283.3"/><circle cx="375.9" cy="146.5"/><circle cx="210.1" cy="343.9"/><circle cx="343.3" cy="322.7"/><circle cx="241.2" cy="188.5"/><circle cx="123.3" cy="300.8"/><circle cx="318.9" cy="337.1"/><circle cx="346.9" cy="245.8"/><circle cx="259.7" cy="180.0"/><circle cx="345.4" cy="322.0"/><circle cx="388.8" cy="264.2"/><circle cx="321.2" cy="166.2"/><circle cx="329.8" cy="197.4"/><circle cx="105.9" cy="317.1"/><circle cx="178.4" cy="347.7"/><circle cx="239.8" cy="177.3"/><circle cx="326.8" cy="169.1"/><circle cx="331.5" cy="194.2"/><circle cx="347.1" cy="226.0"/><circle cx="339.3" cy="200.1"/><circle cx="357.3" cy="155.3"/><circle cx="358.3" cy="176.8"/><circle cx="304.2" cy="340.7"/><circle cx="329.6" cy="194.2"/><circle cx="354.1" cy="276.2"/><circle cx="318.9" cy="182.4"/><circle cx="142.9" cy="347.0"/><circle cx="333.0" cy="203.4"/><circle cx="192.9" cy="345.7"/><circle cx="347.9" cy="192.8"/><circle cx="274.6" cy="178.2"/><circle cx="340.2" cy="173.4"/><circle cx="156.8" cy="246.8"/><circle cx="340.9" cy="213.6"/><circle cx="235.8" cy="195.4"/><circle cx="331.1" cy="222.6"/><circle cx="361.3" cy="260.8"/><circle cx="337.7" cy="195.2"/><circle cx="351.3" cy="247.2"/><circle cx="339.5" cy="230.6"/><circle cx="247.2" cy="188.0"/><circle cx="362.3" cy="152.4"/><circle cx="364.1" cy="248.0"/><circle cx="101.7" cy="323.9"/><circle cx="227.3" cy="198.9"/><circle cx="360.5" cy="110.0"/><circle cx="185.5" cy="217.4"/><circle cx="395.5" cy="292.7"/><circle cx="244.9" cy="193.2"/><circle cx="189.4" cy="201.8"/><circle cx="329.8" cy="183.4"/><circle cx="213.7" cy="177.5"/><circle cx="261.2" cy="184.5"/><circle cx="279.7" cy="190.6"/><circle cx="177.3" cy="346.2"/><circle cx="159.6" cy="250.4"/><circle cx="226.9" cy="202.4"/><circle cx="139.1" cy="342.4"/><circle cx="345.4" cy="202.6"/><circle cx="342.5" cy="216.2"/><circle cx="105.2" cy="318.1"/><circle cx="199.5" cy="200.5"/><circle cx="242.3" cy="194.5"/><circle cx="331.0" cy="331.8"/><circle cx="365.7" cy="289.3"/><circle cx="339.7" cy="327.7"/><circle cx="339.3" cy="220.4"/><circle cx="331.5" cy="335.7"/><circle cx="329.5" cy="234.9"/><circle cx="322.2" cy="186.1"/><circle cx="370.2" cy="282.0"/><circle cx="357.7" cy="176.9"/><circle cx="143.3" cy="276.3"/><circle cx="199.6" cy="199.8"/><circle cx="352.0" cy="210.7"/><circle cx="347.6" cy="248.6"/><circle cx="145.2" cy="277.1"/><circle cx="337.2" cy="113.8"/><circle cx="192.8" cy="347.5"/><circle cx="345.9" cy="192.1"/><circle cx="238.2" cy="343.2"/><circle cx="253.6" cy="195.1"/><circle cx="211.0" cy="198.0"/><circle cx="228.3" cy="342.2"/><circle cx="155.5" cy="344.7"/><circle cx="275.0" cy="179.3"/><circle cx="333.3" cy="317.6"/><circle cx="151.5" cy="345.0"/><circle cx="170.4" cy="229.0"/><circle cx="345.1" cy="178.3"/><circle cx="372.7" cy="285.5"/><circle cx="219.3" cy="346.0"/><circle cx="357.5" cy="291.1"/><circle cx="292.8" cy="184.1"/><circle cx="284.5" cy="339.2"/><circle cx="360.0" cy="263.3"/><circle cx="349.7" cy="192.7"/><circle cx="355.7" cy="162.6"/><circle cx="273.0" cy="179.1"/><circle cx="359.3" cy="285.8"/><circle cx="237.1" cy="152.0"/><circle cx="313.2" cy="142.3"/><circle cx="348.3" cy="294.2"/><circle cx="316.4" cy="179.6"/><circle cx="336.9" cy="194.2"/><circle cx="323.8" cy="157.8"/><circle cx="282.8" cy="165.2"/><circle cx="194.0" cy="207.1"/><circle cx="388.0" cy="267.3"/><circle cx="346.9" cy="318.2"/><circle cx="342.5" cy="301.0"/><circle cx="315.8" cy="127.0"/><circle cx="232.3" cy="190.9"/><circle cx="331.0" cy="204.3"/><circle cx="148.9" cy="260.7"/><circle cx="403.7" cy="259.7"/><circle cx="221.1" cy="180.9"/><circle cx="361.5" cy="299.5"/><circle cx="271.6" cy="182.1"/><circle cx="360.8" cy="303.8"/><circle cx="153.1" cy="254.1"/><circle cx="129.2" cy="294.6"/><circle cx="355.6" cy="296.1"/><circle cx="218.0" cy="346.6"/><circle cx="360.6" cy="221.8"/><circle cx="179.7" cy="218.6"/><circle cx="249.5" cy="340.5"/><circle cx="289.6" cy="335.8"/><circle cx="345.2" cy="303.9"/><circle cx="258.4" cy="167.2"/><circle cx="307.9" cy="178.3"/><circle cx="277.3" cy="173.4"/><circle cx="291.6" cy="181.8"/><circle cx="377.9" cy="282.4"/><circle cx="254.6" cy="192.5"/><circle cx="278.7" cy="159.7"/><circle cx="214.1" cy="193.1"/><circle cx="355.1" cy="265.2"/><circle cx="232.6" cy="189.0"/><circle cx="333.6" cy="332.3"/><circle cx="100.0" cy="318.5"/><circle cx="316.2" cy="175.4"/><circle cx="325.4" cy="177.8"/><circle cx="320.1" cy="163.8"/><circle cx="143.6" cy="279.4"/><circle cx="369.1" cy="272.0"/><circle cx="396.3" cy="138.1"/><circle cx="150.8" cy="267.5"/><circle cx="332.9" cy="190.8"/><circle cx="331.6" cy="332.3"/><circle cx="279.4" cy="193.9"/><circle cx="306.8" cy="335.6"/><circle cx="357.6" cy="290.3"/><circle cx="347.8" cy="246.6"/><circle cx="126.8" cy="343.6"/><circle cx="197.2" cy="203.0"/><circle cx="323.2" cy="172.3"/><circle cx="314.0" cy="167.6"/><circle cx="280.5" cy="174.6"/><circle cx="274.1" cy="176.1"/><circle cx="142.1" cy="346.1"/><circle cx="307.4" cy="173.5"/><circle cx="347.9" cy="221.8"/><circle cx="334.4" cy="309.7"/><circle cx="398.9" cy="265.6"/><circle cx="358.0" cy="197.9"/><circle cx="310.3" cy="165.7"/><circle cx="160.6" cy="347.4"/><circle cx="330.5" cy="334.9"/><circle cx="149.9" cy="344.7"/><circle cx="346.1" cy="284.4"/><circle cx="257.0" cy="196.0"/><circle cx="345.1" cy="317.6"/><circle cx="219.0" cy="195.5"/><circle cx="368.0" cy="314.8"/><circle cx="327.5" cy="197.0"/><circle cx="323.1" cy="197.7"/><circle cx="162.0" cy="345.3"/><circle cx="302.3" cy="123.7"/><circle cx="318.5" cy="340.6"/><circle cx="362.8" cy="235.9"/><circle cx="333.7" cy="218.9"/><circle cx="321.4" cy="173.5"/><circle cx="181.9" cy="223.3"/><circle cx="351.6" cy="233.9"/><circle cx="341.8" cy="319.8"/><circle cx="235.4" cy="199.7"/><circle cx="277.1" cy="139.2"/><circle cx="351.3" cy="195.2"/><circle cx="359.8" cy="182.7"/><circle cx="372.5" cy="261.9"/><circle cx="343.9" cy="210.4"/><circle cx="352.7" cy="154.0"/><circle cx="371.8" cy="218.7"/><circle cx="286.3" cy="336.5"/><circle cx="368.5" cy="251.6"/><circle cx="366.1" cy="269.1"/><circle cx="332.8" cy="205.7"/><circle cx="326.7" cy="329.1"/><circle cx="302.9" cy="182.3"/><circle cx="285.4" cy="187.2"/><circle cx="354.2" cy="301.2"/><circle cx="338.3" cy="246.0"/><circle cx="350.2" cy="314.6"/><circle cx="227.4" cy="201.0"/><circle cx="320.3" cy="185.3"/><circle cx="359.8" cy="224.5"/><circle cx="360.1" cy="296.2"/><circle cx="116.3" cy="341.0"/><circle cx="350.9" cy="201.3"/><circle cx="274.8" cy="180.3"/><circle cx="166.0" cy="344.6"/><circle cx="220.0" cy="187.6"/><circle cx="173.1" cy="229.5"/><circle cx="242.5" cy="181.3"/><circle cx="360.4" cy="302.3"/><circle cx="351.0" cy="228.4"/><circle cx="375.6" cy="289.6"/><circle cx="261.9" cy="192.3"/><circle cx="380.4" cy="163.9"/><circle cx="322.9" cy="193.8"/><circle cx="130.4" cy="288.5"/><circle cx="325.9" cy="177.1"/><circle cx="264.2" cy="184.8"/><circle cx="186.8" cy="344.4"/><circle cx="339.4" cy="200.6"/><circle cx="361.7" cy="244.3"/><circle cx="264.3" cy="176.0"/><circle cx="376.6" cy="276.1"/><circle cx="252.7" cy="200.9"/><circle cx="257.1" cy="339.9"/><circle cx="365.4" cy="227.6"/><circle cx="401.6" cy="233.7"/><circle cx="123.5" cy="301.8"/><circle cx="337.4" cy="218.6"/><circle cx="159.2" cy="244.1"/><circle cx="336.0" cy="182.3"/><circle cx="357.8" cy="233.0"/><circle cx="345.4" cy="111.5"/><circle cx="345.7" cy="315.8"/><circle cx="378.2" cy="297.2"/><circle cx="370.2" cy="309.2"/><circle cx="318.0" cy="128.1"/><circle cx="332.5" cy="173.2"/><circle cx="365.1" cy="243.0"/><circle cx="371.0" cy="314.5"/><circle cx="370.1" cy="221.1"/><circle cx="339.8" cy="234.9"/><circle cx="136.4" cy="341.1"/><circle cx="374.3" cy="272.4"/><circle cx="300.6" cy="190.6"/><circle cx="271.1" cy="196.7"/><circle cx="336.7" cy="232.5"/><circle cx="306.2" cy="179.4"/><circle cx="212.7" cy="342.8"/><circle cx="336.3" cy="240.0"/><circle cx="296.1" cy="158.0"/><circle cx="186.2" cy="211.4"/><circle cx="210.1" cy="344.0"/><circle cx="151.2" cy="259.2"/><circle cx="283.4" cy="158.3"/><circle cx="382.1" cy="290.0"/><circle cx="123.6" cy="343.1"/><circle cx="154.1" cy="347.3"/><circle cx="335.7" cy="197.1"/><circle cx="141.5" cy="340.9"/><circle cx="208.7" cy="200.6"/><circle cx="394.0" cy="262.1"/><circle cx="270.9" cy="341.5"/><circle cx="391.7" cy="248.5"/><circle cx="254.8" cy="154.4"/><circle cx="382.4" cy="242.6"/><circle cx="333.1" cy="203.7"/><circle cx="331.2" cy="154.1"/><circle cx="350.9" cy="222.1"/><circle cx="289.3" cy="157.6"/><circle cx="355.0" cy="264.4"/><circle cx="311.0" cy="176.6"/><circle cx="205.2" cy="194.5"/><circle cx="164.7" cy="345.4"/><circle cx="282.3" cy="187.8"/><circle cx="375.9" cy="293.3"/><circle cx="357.9" cy="249.8"/><circle cx="284.5" cy="142.3"/><circle cx="386.6" cy="241.7"/><circle cx="322.9" cy="172.9"/><circle cx="330.4" cy="205.8"/><circle cx="359.0" cy="239.3"/><circle cx="321.4" cy="186.0"/><circle cx="283.5" cy="182.0"/><circle cx="274.5" cy="187.9"/><circle cx="283.5" cy="183.5"/><circle cx="322.0" cy="338.4"/><circle cx="331.5" cy="234.6"/><circle cx="356.1" cy="168.6"/><circle cx="225.0" cy="344.2"/><circle cx="325.9" cy="178.6"/><circle cx="359.0" cy="277.6"/><circle cx="314.3" cy="166.6"/><circle cx="358.9" cy="142.7"/><circle cx="345.2" cy="104.8"/><circle cx="278.5" cy="341.5"/><circle cx="326.1" cy="139.3"/><circle cx="347.4" cy="235.4"/><circle cx="354.8" cy="292.1"/><circle cx="332.7" cy="198.4"/><circle cx="154.1" cy="341.9"/><circle cx="346.9" cy="311.4"/><circle cx="379.6" cy="191.3"/><circle cx="330.0" cy="172.5"/><circle cx="233.5" cy="196.3"/><circle cx="141.0" cy="344.4"/><circle cx="314.4" cy="179.6"/><circle cx="151.7" cy="264.0"/><circle cx="355.5" cy="295.2"/><circle cx="348.1" cy="154.7"/><circle cx="297.7" cy="167.5"/><circle cx="105.6" cy="317.1"/><circle cx="324.6" cy="170.9"/><circle cx="347.4" cy="287.9"/><circle cx="224.3" cy="186.9"/><circle cx="280.8" cy="189.5"/><circle cx="361.4" cy="297.5"/><circle cx="276.2" cy="179.1"/><circle cx="389.1" cy="235.8"/><circle cx="328.7" cy="184.1"/><circle cx="259.0" cy="198.0"/><circle cx="393.7" cy="256.7"/><circle cx="363.8" cy="222.5"/><circle cx="377.6" cy="128.4"/><circle cx="328.8" cy="214.1"/><circle cx="351.8" cy="303.4"/><circle cx="265.1" cy="197.1"/><circle cx="343.9" cy="318.7"/><circle cx="215.3" cy="190.6"/><circle cx="386.2" cy="278.3"/><circle cx="393.5" cy="202.8"/><circle cx="219.7" cy="186.8"/><circle cx="362.2" cy="201.5"/><circle cx="331.8" cy="202.4"/><circle cx="294.0" cy="134.6"/><circle cx="398.6" cy="237.1"/><circle cx="333.8" cy="320.1"/><circle cx="349.2" cy="235.6"/><circle cx="201.6" cy="195.5"/><circle cx="374.8" cy="297.6"/><circle cx="250.6" cy="191.4"/><circle cx="331.7" cy="325.4"/><circle cx="372.4" cy="281.1"/><circle cx="248.7" cy="196.6"/><circle cx="231.8" cy="198.8"/><circle cx="229.4" cy="179.2"/><circle cx="321.0" cy="167.6"/><circle cx="296.9" cy="180.2"/><circle cx="293.6" cy="167.3"/><circle cx="263.9" cy="189.7"/><circle cx="344.7" cy="321.0"/><circle cx="251.9" cy="189.0"/><circle cx="329.6" cy="196.0"/><circle cx="361.1" cy="149.2"/><circle cx="93.8" cy="330.3"/><circle cx="232.4" cy="162.6"/><circle cx="234.0" cy="179.2"/><circle cx="366.3" cy="260.1"/><circle cx="388.2" cy="270.9"/><circle cx="215.7" cy="202.7"/><circle cx="339.4" cy="219.4"/><circle cx="166.3" cy="345.6"/><circle cx="338.1" cy="224.1"/><circle cx="341.2" cy="208.3"/><circle cx="301.4" cy="339.4"/><circle cx="362.0" cy="150.5"/><circle cx="158.1" cy="252.4"/><circle cx="371.5" cy="248.4"/><circle cx="363.3" cy="328.9"/><circle cx="310.8" cy="143.2"/><circle cx="356.4" cy="301.2"/><circle cx="356.1" cy="220.4"/><circle cx="328.4" cy="151.4"/><circle cx="275.5" cy="338.4"/><circle cx="342.2" cy="227.9"/><circle cx="326.0" cy="133.5"/><circle cx="390.0" cy="251.4"/><circle cx="322.5" cy="180.8"/><circle cx="347.3" cy="156.2"/><circle cx="373.6" cy="272.9"/><circle cx="320.4" cy="118.3"/><circle cx="344.1" cy="212.7"/><circle cx="344.8" cy="318.8"/><circle cx="336.5" cy="180.9"/><circle cx="301.8" cy="158.0"/><circle cx="329.5" cy="162.1"/><circle cx="279.8" cy="166.4"/><circle cx="287.8" cy="175.8"/><circle cx="144.9" cy="344.5"/><circle cx="293.6" cy="173.5"/><circle cx="285.5" cy="164.2"/><circle cx="219.8" cy="357.6"/><circle cx="207.9" cy="357.7"/><circle cx="199.8" cy="357.3"/><circle cx="219.9" cy="353.0"/><circle cx="212.1" cy="355.9"/><circle cx="215.1" cy="359.9"/><circle cx="225.2" cy="356.9"/><circle cx="206.2" cy="357.8"/><circle cx="214.1" cy="359.2"/><circle cx="218.3" cy="356.6"/><circle cx="229.5" cy="358.4"/><circle cx="230.9" cy="355.4"/><circle cx="206.1" cy="357.7"/><circle cx="197.9" cy="355.2"/><circle cx="213.4" cy="359.2"/><circle cx="207.5" cy="358.1"/><circle cx="222.9" cy="363.3"/><circle cx="212.8" cy="358.7"/><circle cx="201.3" cy="355.5"/><circle cx="225.0" cy="358.5"/><circle cx="201.9" cy="356.9"/><circle cx="227.7" cy="356.2"/><circle cx="226.5" cy="356.9"/><circle cx="218.6" cy="355.1"/><circle cx="230.3" cy="358.9"/><circle cx="208.6" cy="359.8"/><circle cx="224.6" cy="361.3"/><circle cx="200.6" cy="359.1"/><circle cx="226.5" cy="357.8"/><circle cx="204.9" cy="354.7"/><circle cx="251.7" cy="355.2"/><circle cx="248.0" cy="357.2"/><circle cx="255.2" cy="358.3"/><circle cx="285.8" cy="357.8"/><circle cx="273.1" cy="358.2"/><circle cx="269.7" cy="361.6"/><circle cx="270.1" cy="356.4"/><circle cx="289.5" cy="357.6"/><circle cx="255.5" cy="355.7"/><circle cx="238.0" cy="357.5"/><circle cx="234.1" cy="357.2"/><circle cx="266.3" cy="358.1"/><circle cx="255.6" cy="358.0"/><circle cx="235.5" cy="359.1"/><circle cx="248.2" cy="357.1"/><circle cx="236.2" cy="357.0"/><circle cx="225.8" cy="362.2"/><circle cx="248.9" cy="356.0"/><circle cx="236.7" cy="356.2"/><circle cx="250.8" cy="360.7"/><circle cx="249.7" cy="360.7"/><circle cx="232.4" cy="359.2"/><circle cx="276.8" cy="359.2"/><circle cx="275.8" cy="353.3"/><circle cx="259.5" cy="356.1"/><circle cx="277.8" cy="358.0"/><circle cx="290.1" cy="358.0"/><circle cx="250.6" cy="357.2"/><circle cx="240.8" cy="358.3"/><circle cx="254.1" cy="360.9"/><circle cx="254.3" cy="358.8"/><circle cx="265.0" cy="358.7"/><circle cx="244.0" cy="357.2"/><circle cx="279.7" cy="357.2"/><circle cx="289.1" cy="357.3"/><circle cx="246.8" cy="355.9"/><circle cx="252.9" cy="356.2"/><circle cx="251.5" cy="362.9"/><circle cx="266.8" cy="360.0"/><circle cx="229.8" cy="358.2"/><circle cx="249.1" cy="359.5"/><circle cx="277.4" cy="357.2"/><circle cx="245.1" cy="358.7"/><circle cx="267.5" cy="358.6"/><circle cx="238.0" cy="358.3"/><circle cx="283.2" cy="355.9"/><circle cx="241.3" cy="360.4"/><circle cx="233.7" cy="360.7"/><circle cx="231.7" cy="361.1"/><circle cx="246.9" cy="357.2"/><circle cx="242.4" cy="354.8"/><circle cx="291.6" cy="357.9"/><circle cx="248.5" cy="357.9"/><circle cx="277.5" cy="360.7"/><circle cx="236.6" cy="359.5"/><circle cx="254.4" cy="358.0"/><circle cx="282.6" cy="357.6"/><circle cx="270.1" cy="355.8"/><circle cx="287.6" cy="358.6"/><circle cx="288.7" cy="357.8"/><circle cx="247.7" cy="359.4"/><circle cx="232.9" cy="357.3"/><circle cx="244.8" cy="357.1"/><circle cx="288.2" cy="357.2"/><circle cx="288.0" cy="358.0"/><circle cx="227.5" cy="357.8"/><circle cx="283.7" cy="356.0"/><circle cx="243.5" cy="356.8"/><circle cx="249.1" cy="359.4"/><circle cx="249.3" cy="357.5"/><circle cx="231.2" cy="355.6"/><circle cx="243.7" cy="358.5"/><circle cx="283.4" cy="355.9"/><circle cx="268.3" cy="355.1"/><circle cx="273.5" cy="358.6"/><circle cx="240.1" cy="358.5"/><circle cx="257.3" cy="358.7"/><circle cx="258.0" cy="356.9"/><circle cx="254.2" cy="357.8"/><circle cx="264.1" cy="357.6"/><circle cx="237.3" cy="356.5"/><circle cx="250.6" cy="356.9"/><circle cx="251.7" cy="359.4"/><circle cx="226.4" cy="356.7"/><circle cx="269.0" cy="358.7"/><circle cx="240.1" cy="355.6"/><circle cx="238.5" cy="356.2"/><circle cx="228.3" cy="358.1"/><circle cx="268.9" cy="358.5"/><circle cx="233.9" cy="359.9"/><circle cx="263.6" cy="355.6"/><circle cx="252.1" cy="357.7"/><circle cx="256.5" cy="358.4"/><circle cx="287.0" cy="356.1"/><circle cx="229.9" cy="359.9"/><circle cx="240.4" cy="356.0"/><circle cx="249.0" cy="355.5"/><circle cx="230.7" cy="356.7"/><circle cx="267.0" cy="355.3"/><circle cx="256.8" cy="363.1"/><circle cx="402.4" cy="145.3"/><circle cx="425.4" cy="151.3"/><circle cx="418.4" cy="169.2"/><circle cx="430.5" cy="177.1"/><circle cx="403.7" cy="179.2"/><circle cx="425.4" cy="186.1"/><circle cx="440.5" cy="186.1"/><circle cx="441.5" cy="193.6"/><circle cx="404.4" cy="191.5"/><circle cx="414.4" cy="192.0"/><circle cx="418.6" cy="199.1"/><circle cx="435.3" cy="201.8"/><circle cx="408.5" cy="207.0"/><circle cx="427.3" cy="213.5"/><circle cx="423.6" cy="217.6"/><circle cx="429.8" cy="221.0"/><circle cx="437.4" cy="219.9"/><circle cx="444.9" cy="223.1"/><circle cx="448.3" cy="210.7"/><circle cx="452.4" cy="214.2"/><circle cx="449.7" cy="217.6"/><circle cx="452.4" cy="224.5"/><circle cx="436.7" cy="230.0"/><circle cx="429.8" cy="230.0"/><circle cx="426.4" cy="227.9"/><circle cx="418.1" cy="225.2"/><circle cx="412.0" cy="217.6"/><circle cx="407.2" cy="217.6"/><circle cx="414.7" cy="216.9"/><circle cx="403.7" cy="216.9"/><circle cx="405.1" cy="227.9"/><circle cx="405.1" cy="233.4"/><circle cx="408.5" cy="236.1"/><circle cx="414.7" cy="238.9"/><circle cx="429.8" cy="240.2"/><circle cx="442.2" cy="240.2"/><circle cx="459.6" cy="236.1"/><circle cx="402.4" cy="223.8"/><circle cx="409.2" cy="222.4"/><circle cx="496.4" cy="170.3"/><circle cx="465.5" cy="199.1"/><circle cx="471.2" cy="204.3"/><circle cx="480.3" cy="208.4"/><circle cx="486.3" cy="205.3"/><circle cx="473.4" cy="215.3"/><circle cx="487.4" cy="215.3"/><circle cx="465.5" cy="222.1"/><circle cx="480.3" cy="228.2"/><circle cx="451.1" cy="256.0"/><circle cx="442.2" cy="271.1"/><circle cx="450.4" cy="270.4"/><circle cx="443.5" cy="288.3"/><circle cx="457.9" cy="288.3"/><circle cx="429.8" cy="291.0"/><circle cx="436.7" cy="297.2"/><circle cx="450.4" cy="298.6"/><circle cx="427.1" cy="259.5"/><circle cx="432.6" cy="255.3"/><circle cx="435.3" cy="261.5"/><circle cx="437.4" cy="264.3"/><circle cx="438.7" cy="260.8"/><circle cx="434.6" cy="265.0"/><circle cx="431.9" cy="258.8"/><circle cx="447.0" cy="245.7"/><circle cx="442.2" cy="246.4"/><circle cx="435.3" cy="247.1"/><circle cx="431.2" cy="249.2"/><circle cx="425.0" cy="248.5"/><circle cx="421.6" cy="249.9"/><circle cx="419.5" cy="247.8"/><circle cx="414.7" cy="246.4"/><circle cx="409.2" cy="247.1"/><circle cx="404.4" cy="248.5"/><circle cx="422.3" cy="266.3"/><circle cx="420.2" cy="268.4"/><circle cx="410.6" cy="258.1"/><circle cx="412.7" cy="259.5"/><circle cx="414.7" cy="262.2"/><circle cx="408.5" cy="262.2"/><circle cx="406.5" cy="259.5"/><circle cx="403.7" cy="255.3"/><circle cx="403.7" cy="265.0"/><circle cx="411.3" cy="268.4"/><circle cx="414.7" cy="270.4"/><circle cx="418.8" cy="274.5"/><circle cx="417.5" cy="278.7"/><circle cx="407.2" cy="272.5"/><circle cx="403.7" cy="271.8"/><circle cx="409.9" cy="283.5"/><circle cx="406.5" cy="282.8"/><circle cx="420.2" cy="286.9"/><circle cx="417.5" cy="290.3"/><circle cx="420.2" cy="294.4"/><circle cx="416.1" cy="295.8"/><circle cx="424.3" cy="295.1"/><circle cx="409.9" cy="297.2"/><circle cx="405.1" cy="294.4"/><circle cx="403.7" cy="289.0"/><circle cx="412.0" cy="252.6"/><circle cx="409.2" cy="251.2"/><circle cx="417.5" cy="254.0"/><circle cx="413.3" cy="256.7"/><circle cx="413.3" cy="313.0"/><circle cx="423.0" cy="314.3"/><circle cx="423.0" cy="307.5"/><circle cx="434.6" cy="308.9"/><circle cx="438.0" cy="312.3"/><circle cx="440.1" cy="317.1"/><circle cx="405.8" cy="321.9"/><circle cx="405.8" cy="337.0"/><circle cx="424.3" cy="351.1"/><circle cx="418.8" cy="304.7"/><circle cx="406.5" cy="303.4"/><circle cx="462.5" cy="311.9"/><circle cx="471.5" cy="311.3"/><circle cx="346.3" cy="42.5"/><circle cx="354.4" cy="47.3"/><circle cx="365.5" cy="63.1"/><circle cx="349.4" cy="67.2"/><circle cx="341.3" cy="72.9"/><circle cx="379.4" cy="74.0"/><circle cx="310.4" cy="81.7"/><circle cx="319.3" cy="81.1"/><circle cx="317.9" cy="87.9"/><circle cx="331.0" cy="80.4"/><circle cx="333.0" cy="81.7"/><circle cx="329.6" cy="83.8"/><circle cx="335.1" cy="80.4"/><circle cx="340.6" cy="88.6"/><circle cx="332.3" cy="93.4"/><circle cx="333.7" cy="95.5"/><circle cx="302.8" cy="95.5"/><circle cx="306.9" cy="96.2"/><circle cx="317.2" cy="96.2"/><circle cx="313.8" cy="99.6"/><circle cx="322.0" cy="101.6"/><circle cx="318.6" cy="100.3"/><circle cx="287.7" cy="103.0"/><circle cx="290.5" cy="105.8"/><circle cx="287.7" cy="108.5"/><circle cx="293.2" cy="111.2"/><circle cx="296.0" cy="109.9"/><circle cx="307.0" cy="105.1"/><circle cx="309.7" cy="107.1"/><circle cx="311.7" cy="109.2"/><circle cx="308.3" cy="109.2"/><circle cx="327.5" cy="104.4"/><circle cx="333.0" cy="103.0"/><circle cx="336.4" cy="103.7"/><circle cx="338.5" cy="106.4"/><circle cx="334.4" cy="107.1"/><circle cx="339.9" cy="93.4"/><circle cx="340.6" cy="98.9"/><circle cx="326.2" cy="109.9"/><circle cx="319.3" cy="111.2"/><circle cx="332.3" cy="111.2"/><circle cx="337.1" cy="111.2"/><circle cx="341.2" cy="109.2"/><circle cx="256.5" cy="88.1"/><circle cx="253.7" cy="96.0"/><circle cx="246.3" cy="98.8"/><circle cx="266.5" cy="94.6"/><circle cx="285.3" cy="103.7"/><circle cx="279.7" cy="112.8"/><circle cx="284.6" cy="112.1"/><circle cx="249.1" cy="121.8"/><circle cx="256.7" cy="126.0"/><circle cx="253.9" cy="128.1"/><circle cx="242.8" cy="135.8"/><circle cx="262.3" cy="133.0"/><circle cx="265.8" cy="136.5"/><circle cx="277.7" cy="131.6"/><circle cx="275.6" cy="133.7"/><circle cx="383.6" cy="93.7"/><circle cx="381.2" cy="100.6"/><circle cx="361.3" cy="104.0"/><circle cx="363.3" cy="107.4"/><circle cx="365.4" cy="109.5"/><circle cx="366.1" cy="111.6"/><circle cx="355.1" cy="108.8"/><circle cx="357.8" cy="112.9"/><circle cx="353.7" cy="115.7"/><circle cx="356.5" cy="117.7"/><circle cx="361.9" cy="116.4"/><circle cx="378.4" cy="113.6"/><circle cx="377.7" cy="119.8"/><circle cx="383.2" cy="121.8"/><circle cx="371.6" cy="123.9"/><circle cx="366.7" cy="124.6"/><circle cx="365.4" cy="130.8"/><circle cx="359.2" cy="129.4"/><circle cx="353.7" cy="133.5"/><circle cx="377.0" cy="134.9"/><circle cx="391.4" cy="129.4"/><circle cx="393.5" cy="131.4"/><circle cx="394.2" cy="136.2"/><circle cx="383.2" cy="137.6"/><circle cx="343.4" cy="89.6"/><circle cx="344.1" cy="93.7"/><circle cx="217.1" cy="147.9"/><circle cx="212.3" cy="156.2"/><circle cx="209.6" cy="160.3"/><circle cx="208.2" cy="162.3"/><circle cx="224.0" cy="156.2"/><circle cx="230.2" cy="147.2"/><circle cx="232.9" cy="143.8"/><circle cx="239.8" cy="144.5"/><circle cx="245.3" cy="141.1"/><circle cx="249.4" cy="143.1"/><circle cx="254.9" cy="141.1"/><circle cx="202.7" cy="170.6"/><circle cx="235.0" cy="150.7"/><circle cx="237.0" cy="153.4"/><circle cx="241.2" cy="150.7"/><circle cx="232.2" cy="153.4"/><circle cx="214.4" cy="161.3"/><circle cx="200.5" cy="173.1"/><circle cx="197.0" cy="176.6"/><circle cx="193.5" cy="180.1"/><circle cx="188.6" cy="182.9"/><circle cx="198.4" cy="180.1"/><circle cx="204.0" cy="180.8"/><circle cx="207.4" cy="178.7"/><circle cx="213.0" cy="176.6"/><circle cx="220.0" cy="160.6"/><circle cx="224.9" cy="164.0"/><circle cx="159.2" cy="359.9"/><circle cx="170.5" cy="357.4"/><circle cx="190.4" cy="358.4"/><circle cx="196.1" cy="358.4"/><circle cx="302.0" cy="355.6"/><circle cx="307.7" cy="356.3"/><circle cx="313.4" cy="355.6"/><circle cx="325.4" cy="355.6"/><circle cx="329.7" cy="355.6"/><circle cx="333.2" cy="355.6"/><circle cx="339.0" cy="354.9"/><circle cx="342.5" cy="356.3"/><circle cx="354.5" cy="353.4"/><circle cx="304.8" cy="360.5"/><circle cx="294.9" cy="359.8"/><circle cx="357.4" cy="353.6"/><circle cx="377.3" cy="344.0"/><circle cx="86.4" cy="339.9"/><circle cx="88.5" cy="338.5"/><circle cx="90.7" cy="330.7"/><circle cx="97.0" cy="344.9"/><circle cx="107.7" cy="346.3"/><circle cx="119.8" cy="348.4"/><circle cx="128.3" cy="349.9"/><circle cx="103.4" cy="354.8"/><circle cx="116.2" cy="359.1"/><circle cx="378.1" cy="330.8"/><circle cx="382.2" cy="321.9"/><circle cx="393.6" cy="323.0"/><circle cx="387.9" cy="313.7"/></g></g><path d="M94.6,361.4 93.6,360.0 92.5,358.7 91.3,357.5 90.2,356.1 89.0,354.8 87.8,353.3 86.7,351.8 85.6,350.3 84.6,348.7 83.6,347.0 82.8,345.4 82.0,343.7 81.2,342.0 80.6,340.3 80.2,338.5 79.8,336.8 79.5,335.1 79.4,333.4 79.3,331.7 79.4,329.9 79.5,328.2 79.7,326.5 80.0,324.8 80.4,323.1 80.8,321.4 81.3,319.7 81.9,318.0 82.5,316.3 83.2,314.6 83.9,312.9 84.7,311.3 85.4,309.6 86.3,307.9 87.1,306.3 88.0,304.6 88.8,303.0 89.7,301.4 90.6,299.7 91.5,298.1 92.4,296.5 93.3,294.9 94.2,293.3 95.1,291.7 96.1,290.1 97.0,288.6 97.9,287.0 98.9,285.5 99.9,283.9 100.8,282.4 101.8,280.8 102.8,279.3 103.7,277.8 104.7,276.2 105.7,274.7 106.7,273.2 107.7,271.7 108.7,270.2 109.7,268.7 110.7,267.3 111.8,265.8 112.8,264.3 113.8,262.8 114.9,261.4 115.9,259.9 117.0,258.5 118.0,257.0 119.1,255.6 120.1,254.1 121.2,252.7 122.3,251.3 123.4,249.8 124.4,248.4 125.5,247.0 126.6,245.6 127.7,244.2 128.8,242.8 129.9,241.4 131.0,240.0 132.1,238.6 133.2,237.2 134.3,235.8 135.4,234.4 136.5,233.0 137.7,231.6 138.8,230.2 139.9,228.8 141.1,227.5 142.2,226.1 143.3,224.7 144.5,223.3 145.6,222.0 146.7,220.6 147.9,219.2 149.0,217.9 150.2,216.5 151.3,215.1 152.5,213.8 153.6,212.4 154.8,211.0 156.0,209.7 157.1,208.3 158.3,207.0 159.4,205.6 160.6,204.2 161.8,202.9 162.9,201.5 164.1,200.2 165.3,198.8 166.4,197.4 167.6,196.1 168.8,194.7 169.9,193.3 171.1,192.0 172.3,190.6 173.5,189.3 174.6,187.9 175.8,186.5 177.0,185.2 178.2,183.8 179.4,182.4 180.5,181.1 181.7,179.7 182.9,178.4 184.1,177.0 185.3,175.6 186.5,174.3 187.7,172.9 188.8,171.6 190.0,170.2 191.2,168.8 192.4,167.5 193.6,166.1 194.8,164.8 196.0,163.4 197.2,162.1 198.4,160.7 199.6,159.4 200.8,158.0 202.0,156.7 203.2,155.3 204.5,154.0 205.7,152.6 206.9,151.3 208.1,150.0 209.3,148.6 210.5,147.3 211.8,146.0 213.0,144.6 214.2,143.3 215.4,142.0 216.7,140.6 217.9,139.3 219.1,138.0 220.4,136.7 221.6,135.4 222.9,134.0 224.1,132.7 225.3,131.4 226.6,130.1 227.8,128.8 229.1,127.5 230.4,126.2 231.6,124.9 232.9,123.6 234.1,122.3 235.4,121.0 236.7,119.7 237.9,118.4 239.2,117.2 240.5,115.9 241.8,114.6 243.0,113.3 244.3,112.1 245.6,110.8 246.9,109.6 248.2,108.3 249.5,107.0 250.8,105.8 252.1,104.5 253.4,103.3 254.7,102.1 256.0,100.8 257.3,99.6 258.6,98.4 259.9,97.1 261.2,95.9 262.6,94.7 263.9,93.5 265.2,92.3 266.6,91.1 267.9,89.9 269.2,88.7 270.6,87.5 271.9,86.3 273.3,85.1 274.6,83.9 276.0,82.8 277.3,81.6 278.7,80.4 280.0,79.3 281.4,78.1 282.8,77.0 284.2,75.8 285.5,74.7 286.9,73.5 288.3,72.4 289.7,71.3 291.1,70.2 292.5,69.1 293.9,68.0 295.3,66.9 296.7,65.8 298.1,64.7 299.5,63.6 300.9,62.5 302.4,61.4 303.8,60.4 305.3,59.3 306.7,58.3 308.2,57.2 309.6,56.2 311.1,55.2 312.6,54.2 314.1,53.2 315.6,52.2 317.1,51.2 318.6,50.2 320.1,49.3 321.6,48.3 323.2,47.4 324.7,46.5 326.3,45.6 327.9,44.7 329.4,43.8 331.0,42.9 332.6,42.0 334.3,41.2 335.9,40.3 337.5,39.5 339.2,38.7 340.8,37.9 342.5,37.1 344.2,36.4 345.8,35.6 347.5,34.9 349.2,34.2 350.9,33.5 352.6,32.9 354.4,32.3 356.1,31.6 357.8,31.0 359.6,30.5 361.3,29.9 363.0,29.4 364.8,28.9 366.5,28.5 368.3,28.0 370.1,27.6 371.8,27.2 373.6,26.9 375.4,26.5 377.1,26.2 378.9,26.0 380.7,25.7 382.4,25.5 384.2,25.4 386.0,25.2 387.8,25.1 389.5,25.1 391.3,25.0 393.1,25.0 394.8,25.1 396.6,25.1 398.4,25.3 400.1,25.4 401.9,25.6 403.6,25.8 405.4,26.1 407.1,26.3 408.9,26.7 410.6,27.0 412.3,27.4 414.1,27.8 415.8,28.2 417.5,28.7 419.2,29.2 420.9,29.8 422.6,30.3 424.3,30.9 426.0,31.6 427.6,32.2 429.3,32.9 430.9,33.6 432.6,34.3 434.2,35.1 435.8,35.9 437.4,36.7 439.0,37.5 440.6,38.4 442.2,39.3 443.8,40.2 445.3,41.2 446.9,42.1 448.4,43.1 449.9,44.1 451.4,45.1 452.9,46.2 454.4,47.3 455.8,48.4 457.3,49.5 458.7,50.6 460.1,51.8 461.5,52.9 462.9,54.1 464.2,55.3 465.6,56.6 466.9,57.8 468.2,59.1 469.5,60.4 470.8,61.7 472.0,63.0 473.2,64.3 474.5,65.6 475.7,67.0 476.8,68.4 478.0,69.7 479.1,71.1 480.2,72.5 481.3,74.0 482.4,75.4 483.5,76.8 484.5,78.3 485.5,79.8 486.5,81.3 487.5,82.7 488.5,84.2 489.5,85.8 490.4,87.3 491.3,88.8 492.2,90.4 493.1,91.9 494.0,93.5 494.9,95.0 495.7,96.6 496.6,98.2 497.4,99.8 498.2,101.4 499.0,103.0 499.8,104.6 500.6,106.2 501.4,107.9 502.1,109.5 502.9,111.1 503.6,112.8 504.3,114.4 505.0,116.1 505.7,117.8 506.4,119.4 507.1,121.1 507.8,122.8 508.4,124.4 509.1,126.1 509.8,127.8 510.4,129.5 511.0,131.1 511.7,132.8 512.3,134.5 512.9,136.2 513.5,137.9 514.1,139.6 514.7,141.3 515.2,143.0 515.8,144.7 516.4,146.4 516.9,148.1 517.4,149.9 518.0,151.6 518.5,153.3 519.0,155.0 519.5,156.7 520.0,158.5 520.5,160.2 521.0,161.9 521.4,163.7 521.9,165.4 522.3,167.2 522.8,168.9 523.2,170.6 523.6,172.4 524.0,174.1 524.4,175.9 524.8,177.7 525.2,179.4 525.6,181.2 525.9,182.9 526.3,184.7 526.6,186.5 526.9,188.3 527.3,190.0 527.6,191.8 527.9,193.6 528.1,195.4 528.4,197.2 528.7,198.9 528.9,200.7 529.2,202.5 529.4,204.3 529.6,206.1 529.8,207.9 530.0,209.7 530.2,211.5 530.4,213.3 530.6,215.1 530.7,216.9 530.9,218.7 531.0,220.5 531.1,222.3 531.2,224.1 531.3,225.9 531.4,227.7 531.5,229.5 531.5,231.3 531.6,233.1 531.6,234.9 531.6,236.7 531.7,238.5 531.6,240.3 531.6,242.1 531.6,243.9 531.6,245.7 531.5,247.5 531.5,249.3 531.4,251.1 531.3,252.9 531.2,254.7 531.1,256.5 530.9,258.3 530.8,260.1 530.6,261.9 530.5,263.7 530.3,265.5 530.1,267.3 529.9,269.1 529.7,270.9 529.4,272.7 529.2,274.5 528.9,276.2 528.7,278.0 528.4,279.8 528.1,281.6 527.7,283.3 527.4,285.1 527.1,286.9 526.7,288.6 526.3,290.4 525.9,292.2 525.5,293.9 525.1,295.7 524.7,297.4 524.2,299.2 523.8,300.9 523.3,302.6 522.8,304.4 522.3,306.1 521.8,307.8 521.3,309.6 520.7,311.3 520.1,313.0 519.5,314.7 518.9,316.4 518.3,318.1 517.6,319.7 517.0,321.4 516.3,323.1 515.5,324.7 514.8,326.3 514.0,328.0 513.2,329.6 512.4,331.2 511.6,332.8 510.7,334.3 509.8,335.9 508.9,337.5 507.9,339.0 507.0,340.5 506.0,342.0 504.9,343.5 503.9,345.0 502.9,346.4 501.8,347.9 500.8,349.4 499.7,350.9 498.7,352.3 497.6,353.8 496.6,355.3 495.6,356.8 494.6,358.3 493.7,359.9 492.8,361.4 Z" stroke="#000" stroke-width="2.08" fill="none" stroke-linejoin="round"/><circle cx="156.5" cy="208.2" r="4.7" fill="#f00"/><circle cx="223.4" cy="135.4" r="4.7" fill="#f00"/><circle cx="291.5" cy="72.3" r="4.7" fill="#f00"/><circle cx="358.5" cy="35.3" r="4.7" fill="#f00"/><circle cx="425.5" cy="34.4" r="4.7" fill="#f00"/><circle cx="492.5" cy="89.3" r="4.7" fill="#f00"/><path d="M109.5,378.5v4.86M167.5,378.5v4.86M226.5,378.5v4.86M285.5,378.5v4.86M343.5,378.5v4.86M401.5,378.5v4.86M459.5,378.5v4.86M518.5,378.5v4.86M57.5,361.5h-4.86M57.5,302.5h-4.86M57.5,243.5h-4.86M57.5,184.5h-4.86M57.5,125.5h-4.86M57.5,66.5h-4.86" stroke="#000" stroke-width="1.11" fill="none"/><rect x="57.5" y="9.5" width="497.0" height="369.0" stroke="#000" stroke-width="1.11" fill="none" stroke-linecap="square"/><text x="109.2" y="399.4" font-size="14.2" text-anchor="middle" textLength="22.5" lengthAdjust="spacingAndGlyphs">5.0</text><text x="167.2" y="399.4" font-size="14.2" text-anchor="middle" textLength="22.5" lengthAdjust="spacingAndGlyphs">7.5</text><text x="226.2" y="399.4" font-size="14.2" text-anchor="middle" textLength="31.9" lengthAdjust="spacingAndGlyphs">10.0</text><text x="285.2" y="399.4" font-size="14.2" text-anchor="middle" textLength="31.9" lengthAdjust="spacingAndGlyphs">12.5</text><text x="343.2" y="399.4" font-size="14.2" text-anchor="middle" textLength="31.9" lengthAdjust="spacingAndGlyphs">15.0</text><text x="401.2" y="399.4" font-size="14.2" text-anchor="middle" textLength="31.9" lengthAdjust="spacingAndGlyphs">17.5</text><text x="459.2" y="399.4" font-size="14.2" text-anchor="middle" textLength="31.9" lengthAdjust="spacingAndGlyphs">20.0</text><text x="518.2" y="399.4" font-size="14.2" text-anchor="middle" textLength="31.9" lengthAdjust="spacingAndGlyphs">22.5</text><text x="46.6" y="367.0" font-size="14.2" text-anchor="end" textLength="8.9" lengthAdjust="spacingAndGlyphs">0</text><text x="46.6" y="308.0" font-size="14.2" text-anchor="end" textLength="8.9" lengthAdjust="spacingAndGlyphs">2</text><text x="46.6" y="249.0" font-size="14.2" text-anchor="end" textLength="8.9" lengthAdjust="spacingAndGlyphs">4</text><text x="46.6" y="190.0" font-size="14.2" text-anchor="end" textLength="8.9" lengthAdjust="spacingAndGlyphs">6</text><text x="46.6" y="131.0" font-size="14.2" text-anchor="end" textLength="8.9" lengthAdjust="spacingAndGlyphs">8</text><text x="46.6" y="72.0" font-size="14.2" text-anchor="end" textLength="17.8" lengthAdjust="spacingAndGlyphs">10</text><text x="306.3" y="420" font-size="14.2" text-anchor="middle" textLength="143.7" lengthAdjust="spacingAndGlyphs">Energy period, <tspan font-style="italic">T</tspan><tspan font-style="italic" font-size="10" dy="2.6">e</tspan><tspan dy="-2.6"> [s]</tspan></text><text transform="translate(18.3,193.6) rotate(-90)" font-size="14.2" text-anchor="middle" textLength="170.1" lengthAdjust="spacingAndGlyphs">Sig. wave height, <tspan font-style="italic">H</tspan><tspan font-style="italic" font-size="10" dy="2.6">s</tspan><tspan dy="-2.6"> [m]</tspan></text><rect x="63.9" y="14.4" width="192.4" height="59.7" rx="2.8" fill="#fff" fill-opacity="0.8" stroke="#ccc" stroke-width="1.11"/><circle cx="79.35" cy="25.2" r="4.17" fill="rgba(0,0,255,0.1)" stroke="rgba(0,0,255,0.1)" stroke-width="1.39"/><path d="M66.2,43.4H92" stroke="#000" stroke-width="2.08"/><circle cx="79.35" cy="63" r="4.7" fill="#f00"/><text x="99.5" y="29.2" font-size="11.8" textLength="63.3" lengthAdjust="spacingAndGlyphs">NDBC data</text><text x="99.5" y="48.3" font-size="11.8" textLength="120.4" lengthAdjust="spacingAndGlyphs">PCA 50 year contour</text><text x="99.5" y="67.2" font-size="11.8" textLength="153.7" lengthAdjust="spacingAndGlyphs">Representative sea states</text></svg></body></html>
